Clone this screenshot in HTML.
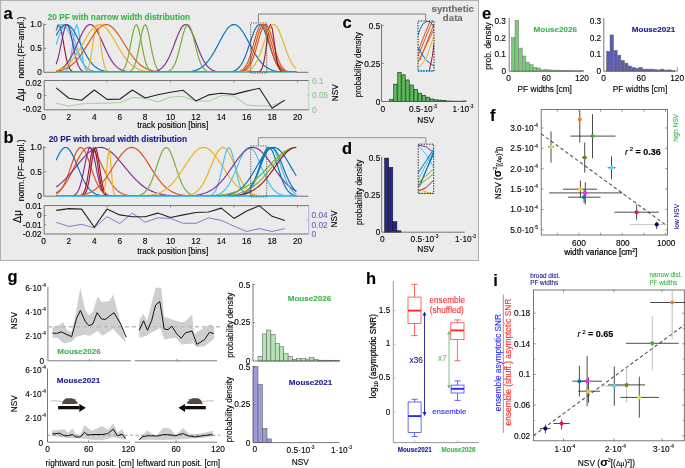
<!DOCTYPE html>
<html><head><meta charset="utf-8"><style>
html,body{margin:0;padding:0;background:#fff;}
svg text{font-family:"Liberation Sans", sans-serif;}
</style></head><body>
<svg width="685" height="468" viewBox="0 0 685 468" style="display:block;font-family:'Liberation Sans', sans-serif">
<defs><filter id="soft" x="0" y="0" width="100%" height="100%" filterUnits="userSpaceOnUse"><feGaussianBlur stdDeviation="0.3"/></filter></defs>
<g filter="url(#soft)">
<rect x="0" y="0" width="685" height="468" fill="#ffffff"/>
<rect x="0.5" y="0.5" width="478" height="260" fill="#EBEBEB" stroke="#B0B0B0" stroke-width="1"/>
<line x1="43.80" y1="23.50" x2="43.80" y2="72.30" stroke="#555555" stroke-width="0.8"/>
<line x1="43.80" y1="72.30" x2="56.20" y2="72.30" stroke="#555555" stroke-width="0.8"/>
<line x1="296.23" y1="72.30" x2="308.50" y2="72.30" stroke="#555555" stroke-width="0.8"/>
<line x1="43.80" y1="48.40" x2="46.30" y2="48.40" stroke="#555555" stroke-width="0.6"/>
<line x1="43.80" y1="24.50" x2="46.30" y2="24.50" stroke="#555555" stroke-width="0.6"/>
<polyline points="56.20,30.68 57.91,25.19 59.63,25.30 61.34,30.97 63.06,40.27 64.77,50.42 66.49,59.12 68.20,65.31 69.92,69.03 71.63,70.95 73.34,71.81 75.06,72.14 76.77,72.26 78.49,72.29 80.20,72.30 81.92,72.30 83.63,72.30 85.35,72.30 87.06,72.30 88.78,72.30 90.49,72.30 92.20,72.30 93.92,72.30 95.63,72.30 97.35,72.30 99.06,72.30 100.78,72.30 102.49,72.30 104.21,72.30 105.92,72.30 107.63,72.30 109.35,72.30 111.06,72.30 112.78,72.30 114.49,72.30 116.21,72.30 117.92,72.30 119.64,72.30 121.35,72.30 123.07,72.30 124.78,72.30 126.49,72.30 128.21,72.30 129.92,72.30 131.64,72.30 133.35,72.30 135.07,72.30 136.78,72.30 138.50,72.30 140.21,72.30 141.92,72.30 143.64,72.30 145.35,72.30 147.07,72.30 148.78,72.30 150.50,72.30 152.21,72.30 153.93,72.30 155.64,72.30 157.36,72.30 159.07,72.30 160.78,72.30 162.50,72.30 164.21,72.30 165.93,72.30 167.64,72.30 169.36,72.30 171.07,72.30 172.79,72.30 174.50,72.30 176.21,72.30 177.93,72.30 179.64,72.30 181.36,72.30 183.07,72.30 184.79,72.30 186.50,72.30 188.22,72.30 189.93,72.30 191.65,72.30 193.36,72.30 195.07,72.30 196.79,72.30 198.50,72.30 200.22,72.30 201.93,72.30 203.65,72.30 205.36,72.30 207.08,72.30 208.79,72.30 210.50,72.30 212.22,72.30 213.93,72.30 215.65,72.30 217.36,72.30 219.08,72.30 220.79,72.30 222.51,72.30 224.22,72.30 225.94,72.30 227.65,72.30 229.36,72.30 231.08,72.30 232.79,72.30 234.51,72.30 236.22,72.30 237.94,72.30 239.65,72.30 241.37,72.30 243.08,72.30 244.79,72.30 246.51,72.30 248.22,72.30 249.94,72.30 251.65,72.30 253.37,72.30 255.08,72.30 256.80,72.30 258.51,72.30 260.23,72.30 261.94,72.30 263.65,72.30 265.37,72.30 267.08,72.30 268.80,72.30 270.51,72.30 272.23,72.30 273.94,72.30 275.66,72.30 277.37,72.30 279.09,72.30 280.80,72.30 282.51,72.30 284.23,72.30 285.94,72.30 287.66,72.30 289.37,72.30 291.09,72.30 292.80,72.30 294.52,72.30 296.23,72.30" fill="none" stroke="#A2142F" stroke-width="1.15" stroke-linejoin="round"/>
<polyline points="56.20,30.35 57.91,27.52 59.63,25.55 61.34,24.59 63.06,24.69 64.77,25.84 66.49,27.98 68.20,30.96 69.92,34.60 71.63,38.68 73.34,42.99 75.06,47.31 76.77,51.47 78.49,55.32 80.20,58.77 81.92,61.76 83.63,64.27 85.35,66.32 87.06,67.94 88.78,69.20 90.49,70.14 92.20,70.83 93.92,71.32 95.63,71.66 97.35,71.89 99.06,72.05 100.78,72.15 102.49,72.21 104.21,72.25 105.92,72.27 107.63,72.28 109.35,72.29 111.06,72.30 112.78,72.30 114.49,72.30 116.21,72.30 117.92,72.30 119.64,72.30 121.35,72.30 123.07,72.30 124.78,72.30 126.49,72.30 128.21,72.30 129.92,72.30 131.64,72.30 133.35,72.30 135.07,72.30 136.78,72.30 138.50,72.30 140.21,72.30 141.92,72.30 143.64,72.30 145.35,72.30 147.07,72.30 148.78,72.30 150.50,72.30 152.21,72.30 153.93,72.30 155.64,72.30 157.36,72.30 159.07,72.30 160.78,72.30 162.50,72.30 164.21,72.30 165.93,72.30 167.64,72.30 169.36,72.30 171.07,72.30 172.79,72.30 174.50,72.30 176.21,72.30 177.93,72.30 179.64,72.30 181.36,72.30 183.07,72.30 184.79,72.30 186.50,72.30 188.22,72.30 189.93,72.30 191.65,72.30 193.36,72.30 195.07,72.30 196.79,72.30 198.50,72.30 200.22,72.30 201.93,72.30 203.65,72.30 205.36,72.30 207.08,72.30 208.79,72.30 210.50,72.30 212.22,72.30 213.93,72.30 215.65,72.30 217.36,72.30 219.08,72.30 220.79,72.30 222.51,72.30 224.22,72.30 225.94,72.30 227.65,72.30 229.36,72.30 231.08,72.30 232.79,72.30 234.51,72.30 236.22,72.30 237.94,72.30 239.65,72.30 241.37,72.30 243.08,72.30 244.79,72.30 246.51,72.30 248.22,72.30 249.94,72.30 251.65,72.30 253.37,72.30 255.08,72.30 256.80,72.30 258.51,72.30 260.23,72.30 261.94,72.30 263.65,72.30 265.37,72.30 267.08,72.30 268.80,72.30 270.51,72.30 272.23,72.30 273.94,72.30 275.66,72.30 277.37,72.30 279.09,72.30 280.80,72.30 282.51,72.30 284.23,72.30 285.94,72.30 287.66,72.30 289.37,72.30 291.09,72.30 292.80,72.30 294.52,72.30 296.23,72.30" fill="none" stroke="#4DBEEE" stroke-width="1.15" stroke-linejoin="round"/>
<polyline points="56.20,44.47 57.91,39.28 59.63,34.37 61.34,30.12 63.06,26.89 64.77,24.97 66.49,24.54 68.20,25.64 69.92,28.18 71.63,31.90 73.34,36.49 75.06,41.57 76.77,46.77 78.49,51.77 80.20,56.31 81.92,60.25 83.63,63.50 85.35,66.09 87.06,68.05 88.78,69.49 90.49,70.50 92.20,71.18 93.92,71.63 95.63,71.91 97.35,72.08 99.06,72.18 100.78,72.24 102.49,72.27 104.21,72.28 105.92,72.29 107.63,72.30 109.35,72.30 111.06,72.30 112.78,72.30 114.49,72.30 116.21,72.30 117.92,72.30 119.64,72.30 121.35,72.30 123.07,72.30 124.78,72.30 126.49,72.30 128.21,72.30 129.92,72.30 131.64,72.30 133.35,72.30 135.07,72.30 136.78,72.30 138.50,72.30 140.21,72.30 141.92,72.30 143.64,72.30 145.35,72.30 147.07,72.30 148.78,72.30 150.50,72.30 152.21,72.30 153.93,72.30 155.64,72.30 157.36,72.30 159.07,72.30 160.78,72.30 162.50,72.30 164.21,72.30 165.93,72.30 167.64,72.30 169.36,72.30 171.07,72.30 172.79,72.30 174.50,72.30 176.21,72.30 177.93,72.30 179.64,72.30 181.36,72.30 183.07,72.30 184.79,72.30 186.50,72.30 188.22,72.30 189.93,72.30 191.65,72.30 193.36,72.30 195.07,72.30 196.79,72.30 198.50,72.30 200.22,72.30 201.93,72.30 203.65,72.30 205.36,72.30 207.08,72.30 208.79,72.30 210.50,72.30 212.22,72.30 213.93,72.30 215.65,72.30 217.36,72.30 219.08,72.30 220.79,72.30 222.51,72.30 224.22,72.30 225.94,72.30 227.65,72.30 229.36,72.30 231.08,72.30 232.79,72.30 234.51,72.30 236.22,72.30 237.94,72.30 239.65,72.30 241.37,72.30 243.08,72.30 244.79,72.30 246.51,72.30 248.22,72.30 249.94,72.30 251.65,72.30 253.37,72.30 255.08,72.30 256.80,72.30 258.51,72.30 260.23,72.30 261.94,72.30 263.65,72.30 265.37,72.30 267.08,72.30 268.80,72.30 270.51,72.30 272.23,72.30 273.94,72.30 275.66,72.30 277.37,72.30 279.09,72.30 280.80,72.30 282.51,72.30 284.23,72.30 285.94,72.30 287.66,72.30 289.37,72.30 291.09,72.30 292.80,72.30 294.52,72.30 296.23,72.30" fill="none" stroke="#4DBEEE" stroke-width="1.15" stroke-linejoin="round"/>
<polyline points="56.20,72.30 57.91,72.30 59.63,72.30 61.34,72.29 63.06,72.22 64.77,71.93 66.49,70.93 68.20,68.20 69.92,62.26 71.63,52.21 73.34,39.47 75.06,28.47 76.77,24.53 78.49,29.77 80.20,41.38 81.92,53.94 83.63,63.40 85.35,68.77 87.06,71.16 88.78,72.00 90.49,72.24 92.20,72.29 93.92,72.30 95.63,72.30 97.35,72.30 99.06,72.30 100.78,72.30 102.49,72.30 104.21,72.30 105.92,72.30 107.63,72.30 109.35,72.30 111.06,72.30 112.78,72.30 114.49,72.30 116.21,72.30 117.92,72.30 119.64,72.30 121.35,72.30 123.07,72.30 124.78,72.30 126.49,72.30 128.21,72.30 129.92,72.30 131.64,72.30 133.35,72.30 135.07,72.30 136.78,72.30 138.50,72.30 140.21,72.30 141.92,72.30 143.64,72.30 145.35,72.30 147.07,72.30 148.78,72.30 150.50,72.30 152.21,72.30 153.93,72.30 155.64,72.30 157.36,72.30 159.07,72.30 160.78,72.30 162.50,72.30 164.21,72.30 165.93,72.30 167.64,72.30 169.36,72.30 171.07,72.30 172.79,72.30 174.50,72.30 176.21,72.30 177.93,72.30 179.64,72.30 181.36,72.30 183.07,72.30 184.79,72.30 186.50,72.30 188.22,72.30 189.93,72.30 191.65,72.30 193.36,72.30 195.07,72.30 196.79,72.30 198.50,72.30 200.22,72.30 201.93,72.30 203.65,72.30 205.36,72.30 207.08,72.30 208.79,72.30 210.50,72.30 212.22,72.30 213.93,72.30 215.65,72.30 217.36,72.30 219.08,72.30 220.79,72.30 222.51,72.30 224.22,72.30 225.94,72.30 227.65,72.30 229.36,72.30 231.08,72.30 232.79,72.30 234.51,72.30 236.22,72.30 237.94,72.30 239.65,72.30 241.37,72.30 243.08,72.30 244.79,72.30 246.51,72.30 248.22,72.30 249.94,72.30 251.65,72.30 253.37,72.30 255.08,72.30 256.80,72.30 258.51,72.30 260.23,72.30 261.94,72.30 263.65,72.30 265.37,72.30 267.08,72.30 268.80,72.30 270.51,72.30 272.23,72.30 273.94,72.30 275.66,72.30 277.37,72.30 279.09,72.30 280.80,72.30 282.51,72.30 284.23,72.30 285.94,72.30 287.66,72.30 289.37,72.30 291.09,72.30 292.80,72.30 294.52,72.30 296.23,72.30" fill="none" stroke="#4DBEEE" stroke-width="1.15" stroke-linejoin="round"/>
<polyline points="56.20,35.37 57.91,32.27 59.63,29.55 61.34,27.34 63.06,25.72 64.77,24.76 66.49,24.51 68.20,24.97 69.92,26.13 71.63,27.94 73.34,30.31 75.06,33.15 76.77,36.34 78.49,39.77 80.20,43.31 81.92,46.85 83.63,50.29 85.35,53.55 87.06,56.57 88.78,59.30 90.49,61.71 92.20,63.81 93.92,65.59 95.63,67.08 97.35,68.30 99.06,69.28 100.78,70.05 102.49,70.65 104.21,71.11 105.92,71.45 107.63,71.71 109.35,71.89 111.06,72.02 112.78,72.11 114.49,72.18 116.21,72.22 117.92,72.25 119.64,72.27 121.35,72.28 123.07,72.29 124.78,72.29 126.49,72.30 128.21,72.30 129.92,72.30 131.64,72.30 133.35,72.30 135.07,72.30 136.78,72.30 138.50,72.30 140.21,72.30 141.92,72.30 143.64,72.30 145.35,72.30 147.07,72.30 148.78,72.30 150.50,72.30 152.21,72.30 153.93,72.30 155.64,72.30 157.36,72.30 159.07,72.30 160.78,72.30 162.50,72.30 164.21,72.30 165.93,72.30 167.64,72.30 169.36,72.30 171.07,72.30 172.79,72.30 174.50,72.30 176.21,72.30 177.93,72.30 179.64,72.30 181.36,72.30 183.07,72.30 184.79,72.30 186.50,72.30 188.22,72.30 189.93,72.30 191.65,72.30 193.36,72.30 195.07,72.30 196.79,72.30 198.50,72.30 200.22,72.30 201.93,72.30 203.65,72.30 205.36,72.30 207.08,72.30 208.79,72.30 210.50,72.30 212.22,72.30 213.93,72.30 215.65,72.30 217.36,72.30 219.08,72.30 220.79,72.30 222.51,72.30 224.22,72.30 225.94,72.30 227.65,72.30 229.36,72.30 231.08,72.30 232.79,72.30 234.51,72.30 236.22,72.30 237.94,72.30 239.65,72.30 241.37,72.30 243.08,72.30 244.79,72.30 246.51,72.30 248.22,72.30 249.94,72.30 251.65,72.30 253.37,72.30 255.08,72.30 256.80,72.30 258.51,72.30 260.23,72.30 261.94,72.30 263.65,72.30 265.37,72.30 267.08,72.30 268.80,72.30 270.51,72.30 272.23,72.30 273.94,72.30 275.66,72.30 277.37,72.30 279.09,72.30 280.80,72.30 282.51,72.30 284.23,72.30 285.94,72.30 287.66,72.30 289.37,72.30 291.09,72.30 292.80,72.30 294.52,72.30 296.23,72.30" fill="none" stroke="#0072BD" stroke-width="1.15" stroke-linejoin="round"/>
<polyline points="56.20,64.27 57.91,58.77 59.63,51.47 61.34,42.99 63.06,34.60 64.77,27.98 66.49,24.69 68.20,25.55 69.92,30.35 71.63,37.90 73.34,46.52 75.06,54.64 76.77,61.24 78.49,65.97 80.20,68.99 81.92,70.72 83.63,71.61 85.35,72.02 87.06,72.20 88.78,72.27 90.49,72.29 92.20,72.30 93.92,72.30 95.63,72.30 97.35,72.30 99.06,72.30 100.78,72.30 102.49,72.30 104.21,72.30 105.92,72.30 107.63,72.30 109.35,72.30 111.06,72.30 112.78,72.30 114.49,72.30 116.21,72.30 117.92,72.30 119.64,72.30 121.35,72.30 123.07,72.30 124.78,72.30 126.49,72.30 128.21,72.30 129.92,72.30 131.64,72.30 133.35,72.30 135.07,72.30 136.78,72.30 138.50,72.30 140.21,72.30 141.92,72.30 143.64,72.30 145.35,72.30 147.07,72.30 148.78,72.30 150.50,72.30 152.21,72.30 153.93,72.30 155.64,72.30 157.36,72.30 159.07,72.30 160.78,72.30 162.50,72.30 164.21,72.30 165.93,72.30 167.64,72.30 169.36,72.30 171.07,72.30 172.79,72.30 174.50,72.30 176.21,72.30 177.93,72.30 179.64,72.30 181.36,72.30 183.07,72.30 184.79,72.30 186.50,72.30 188.22,72.30 189.93,72.30 191.65,72.30 193.36,72.30 195.07,72.30 196.79,72.30 198.50,72.30 200.22,72.30 201.93,72.30 203.65,72.30 205.36,72.30 207.08,72.30 208.79,72.30 210.50,72.30 212.22,72.30 213.93,72.30 215.65,72.30 217.36,72.30 219.08,72.30 220.79,72.30 222.51,72.30 224.22,72.30 225.94,72.30 227.65,72.30 229.36,72.30 231.08,72.30 232.79,72.30 234.51,72.30 236.22,72.30 237.94,72.30 239.65,72.30 241.37,72.30 243.08,72.30 244.79,72.30 246.51,72.30 248.22,72.30 249.94,72.30 251.65,72.30 253.37,72.30 255.08,72.30 256.80,72.30 258.51,72.30 260.23,72.30 261.94,72.30 263.65,72.30 265.37,72.30 267.08,72.30 268.80,72.30 270.51,72.30 272.23,72.30 273.94,72.30 275.66,72.30 277.37,72.30 279.09,72.30 280.80,72.30 282.51,72.30 284.23,72.30 285.94,72.30 287.66,72.30 289.37,72.30 291.09,72.30 292.80,72.30 294.52,72.30 296.23,72.30" fill="none" stroke="#7E2F8E" stroke-width="1.15" stroke-linejoin="round"/>
<polyline points="56.20,70.98 57.91,70.43 59.63,69.68 61.34,68.71 63.06,67.46 64.77,65.90 66.49,63.98 68.20,61.69 69.92,59.01 71.63,55.96 73.34,52.56 75.06,48.89 76.77,45.05 78.49,41.14 80.20,37.31 81.92,33.73 83.63,30.54 85.35,27.91 87.06,25.97 88.78,24.82 90.49,24.51 92.20,25.07 93.92,26.47 95.63,28.63 97.35,31.44 99.06,34.76 100.78,38.43 102.49,42.29 104.21,46.20 105.92,50.00 107.63,53.60 109.35,56.90 111.06,59.84 112.78,62.41 114.49,64.59 116.21,66.39 117.92,67.86 119.64,69.02 121.35,69.92 123.07,70.61 124.78,71.12 126.49,71.49 128.21,71.75 129.92,71.94 131.64,72.06 133.35,72.15 135.07,72.21 136.78,72.24 138.50,72.27 140.21,72.28 141.92,72.29 143.64,72.29 145.35,72.30 147.07,72.30 148.78,72.30 150.50,72.30 152.21,72.30 153.93,72.30 155.64,72.30 157.36,72.30 159.07,72.30 160.78,72.30 162.50,72.30 164.21,72.30 165.93,72.30 167.64,72.30 169.36,72.30 171.07,72.30 172.79,72.30 174.50,72.30 176.21,72.30 177.93,72.30 179.64,72.30 181.36,72.30 183.07,72.30 184.79,72.30 186.50,72.30 188.22,72.30 189.93,72.30 191.65,72.30 193.36,72.30 195.07,72.30 196.79,72.30 198.50,72.30 200.22,72.30 201.93,72.30 203.65,72.30 205.36,72.30 207.08,72.30 208.79,72.30 210.50,72.30 212.22,72.30 213.93,72.30 215.65,72.30 217.36,72.30 219.08,72.30 220.79,72.30 222.51,72.30 224.22,72.30 225.94,72.30 227.65,72.30 229.36,72.30 231.08,72.30 232.79,72.30 234.51,72.30 236.22,72.30 237.94,72.30 239.65,72.30 241.37,72.30 243.08,72.30 244.79,72.30 246.51,72.30 248.22,72.30 249.94,72.30 251.65,72.30 253.37,72.30 255.08,72.30 256.80,72.30 258.51,72.30 260.23,72.30 261.94,72.30 263.65,72.30 265.37,72.30 267.08,72.30 268.80,72.30 270.51,72.30 272.23,72.30 273.94,72.30 275.66,72.30 277.37,72.30 279.09,72.30 280.80,72.30 282.51,72.30 284.23,72.30 285.94,72.30 287.66,72.30 289.37,72.30 291.09,72.30 292.80,72.30 294.52,72.30 296.23,72.30" fill="none" stroke="#7E2F8E" stroke-width="1.15" stroke-linejoin="round"/>
<polyline points="56.20,72.30 57.91,72.30 59.63,72.30 61.34,72.30 63.06,72.30 64.77,72.30 66.49,72.30 68.20,72.30 69.92,72.30 71.63,72.30 73.34,72.30 75.06,72.30 76.77,72.30 78.49,72.30 80.20,72.30 81.92,72.27 83.63,72.17 85.35,71.74 87.06,70.37 88.78,66.84 90.49,59.71 92.20,48.57 93.92,35.77 95.63,26.38 97.35,25.16 99.06,32.78 100.78,45.24 102.49,57.17 104.21,65.39 105.92,69.72 107.63,71.51 109.35,72.10 111.06,72.26 112.78,72.29 114.49,72.30 116.21,72.30 117.92,72.30 119.64,72.30 121.35,72.30 123.07,72.30 124.78,72.30 126.49,72.30 128.21,72.30 129.92,72.30 131.64,72.30 133.35,72.30 135.07,72.30 136.78,72.30 138.50,72.30 140.21,72.30 141.92,72.30 143.64,72.30 145.35,72.30 147.07,72.30 148.78,72.30 150.50,72.30 152.21,72.30 153.93,72.30 155.64,72.30 157.36,72.30 159.07,72.30 160.78,72.30 162.50,72.30 164.21,72.30 165.93,72.30 167.64,72.30 169.36,72.30 171.07,72.30 172.79,72.30 174.50,72.30 176.21,72.30 177.93,72.30 179.64,72.30 181.36,72.30 183.07,72.30 184.79,72.30 186.50,72.30 188.22,72.30 189.93,72.30 191.65,72.30 193.36,72.30 195.07,72.30 196.79,72.30 198.50,72.30 200.22,72.30 201.93,72.30 203.65,72.30 205.36,72.30 207.08,72.30 208.79,72.30 210.50,72.30 212.22,72.30 213.93,72.30 215.65,72.30 217.36,72.30 219.08,72.30 220.79,72.30 222.51,72.30 224.22,72.30 225.94,72.30 227.65,72.30 229.36,72.30 231.08,72.30 232.79,72.30 234.51,72.30 236.22,72.30 237.94,72.30 239.65,72.30 241.37,72.30 243.08,72.30 244.79,72.30 246.51,72.30 248.22,72.30 249.94,72.30 251.65,72.30 253.37,72.30 255.08,72.30 256.80,72.30 258.51,72.30 260.23,72.30 261.94,72.30 263.65,72.30 265.37,72.30 267.08,72.30 268.80,72.30 270.51,72.30 272.23,72.30 273.94,72.30 275.66,72.30 277.37,72.30 279.09,72.30 280.80,72.30 282.51,72.30 284.23,72.30 285.94,72.30 287.66,72.30 289.37,72.30 291.09,72.30 292.80,72.30 294.52,72.30 296.23,72.30" fill="none" stroke="#EDB120" stroke-width="1.15" stroke-linejoin="round"/>
<polyline points="56.20,70.80 57.91,70.34 59.63,69.76 61.34,69.05 63.06,68.19 64.77,67.16 66.49,65.93 68.20,64.50 69.92,62.84 71.63,60.96 73.34,58.85 75.06,56.51 76.77,53.97 78.49,51.25 80.20,48.39 81.92,45.42 83.63,42.42 85.35,39.43 87.06,36.53 88.78,33.80 90.49,31.30 92.20,29.10 93.92,27.28 95.63,25.88 97.35,24.96 99.06,24.53 100.78,24.61 102.49,25.21 104.21,26.30 105.92,27.84 107.63,29.80 109.35,32.10 111.06,34.69 112.78,37.48 114.49,40.42 116.21,43.42 117.92,46.42 119.64,49.35 121.35,52.18 123.07,54.84 124.78,57.31 126.49,59.57 128.21,61.61 129.92,63.42 131.64,65.00 133.35,66.36 135.07,67.52 136.78,68.50 138.50,69.31 140.21,69.97 141.92,70.50 143.64,70.93 145.35,71.27 147.07,71.53 148.78,71.73 150.50,71.88 152.21,72.00 153.93,72.09 155.64,72.15 157.36,72.19 159.07,72.23 160.78,72.25 162.50,72.27 164.21,72.28 165.93,72.28 167.64,72.29 169.36,72.29 171.07,72.30 172.79,72.30 174.50,72.30 176.21,72.30 177.93,72.30 179.64,72.30 181.36,72.30 183.07,72.30 184.79,72.30 186.50,72.30 188.22,72.30 189.93,72.30 191.65,72.30 193.36,72.30 195.07,72.30 196.79,72.30 198.50,72.30 200.22,72.30 201.93,72.30 203.65,72.30 205.36,72.30 207.08,72.30 208.79,72.30 210.50,72.30 212.22,72.30 213.93,72.30 215.65,72.30 217.36,72.30 219.08,72.30 220.79,72.30 222.51,72.30 224.22,72.30 225.94,72.30 227.65,72.30 229.36,72.30 231.08,72.30 232.79,72.30 234.51,72.30 236.22,72.30 237.94,72.30 239.65,72.30 241.37,72.30 243.08,72.30 244.79,72.30 246.51,72.30 248.22,72.30 249.94,72.30 251.65,72.30 253.37,72.30 255.08,72.30 256.80,72.30 258.51,72.30 260.23,72.30 261.94,72.30 263.65,72.30 265.37,72.30 267.08,72.30 268.80,72.30 270.51,72.30 272.23,72.30 273.94,72.30 275.66,72.30 277.37,72.30 279.09,72.30 280.80,72.30 282.51,72.30 284.23,72.30 285.94,72.30 287.66,72.30 289.37,72.30 291.09,72.30 292.80,72.30 294.52,72.30 296.23,72.30" fill="none" stroke="#EDB120" stroke-width="1.15" stroke-linejoin="round"/>
<polyline points="56.20,71.37 57.91,71.09 59.63,70.73 61.34,70.29 63.06,69.75 64.77,69.10 66.49,68.31 68.20,67.38 69.92,66.28 71.63,65.01 73.34,63.55 75.06,61.90 76.77,60.05 78.49,58.00 80.20,55.77 81.92,53.36 83.63,50.81 85.35,48.13 87.06,45.38 88.78,42.58 90.49,39.81 92.20,37.10 93.92,34.51 95.63,32.12 97.35,29.97 99.06,28.11 100.78,26.60 102.49,25.48 104.21,24.77 105.92,24.50 107.63,24.68 109.35,25.29 111.06,26.32 112.78,27.75 114.49,29.53 116.21,31.62 117.92,33.96 119.64,36.51 121.35,39.20 123.07,41.96 124.78,44.76 126.49,47.52 128.21,50.22 129.92,52.80 131.64,55.25 133.35,57.52 135.07,59.61 136.78,61.50 138.50,63.20 140.21,64.70 141.92,66.01 143.64,67.15 145.35,68.12 147.07,68.93 148.78,69.62 150.50,70.18 152.21,70.64 153.93,71.01 155.64,71.31 157.36,71.55 159.07,71.73 160.78,71.88 162.50,71.99 164.21,72.07 165.93,72.13 167.64,72.18 169.36,72.21 171.07,72.24 172.79,72.26 174.50,72.27 176.21,72.28 177.93,72.29 179.64,72.29 181.36,72.29 183.07,72.30 184.79,72.30 186.50,72.30 188.22,72.30 189.93,72.30 191.65,72.30 193.36,72.30 195.07,72.30 196.79,72.30 198.50,72.30 200.22,72.30 201.93,72.30 203.65,72.30 205.36,72.30 207.08,72.30 208.79,72.30 210.50,72.30 212.22,72.30 213.93,72.30 215.65,72.30 217.36,72.30 219.08,72.30 220.79,72.30 222.51,72.30 224.22,72.30 225.94,72.30 227.65,72.30 229.36,72.30 231.08,72.30 232.79,72.30 234.51,72.30 236.22,72.30 237.94,72.30 239.65,72.30 241.37,72.30 243.08,72.30 244.79,72.30 246.51,72.30 248.22,72.30 249.94,72.30 251.65,72.30 253.37,72.30 255.08,72.30 256.80,72.30 258.51,72.30 260.23,72.30 261.94,72.30 263.65,72.30 265.37,72.30 267.08,72.30 268.80,72.30 270.51,72.30 272.23,72.30 273.94,72.30 275.66,72.30 277.37,72.30 279.09,72.30 280.80,72.30 282.51,72.30 284.23,72.30 285.94,72.30 287.66,72.30 289.37,72.30 291.09,72.30 292.80,72.30 294.52,72.30 296.23,72.30" fill="none" stroke="#D95319" stroke-width="1.15" stroke-linejoin="round"/>
<polyline points="56.20,72.30 57.91,72.30 59.63,72.30 61.34,72.30 63.06,72.30 64.77,72.30 66.49,72.30 68.20,72.30 69.92,72.30 71.63,72.30 73.34,72.30 75.06,72.30 76.77,72.30 78.49,72.30 80.20,72.30 81.92,72.30 83.63,72.30 85.35,72.30 87.06,72.30 88.78,72.30 90.49,72.30 92.20,72.30 93.92,72.30 95.63,72.30 97.35,72.30 99.06,72.30 100.78,72.30 102.49,72.30 104.21,72.30 105.92,72.30 107.63,72.30 109.35,72.30 111.06,72.30 112.78,72.30 114.49,72.29 116.21,72.26 117.92,72.17 119.64,71.92 121.35,71.31 123.07,70.01 124.78,67.49 126.49,63.20 128.21,56.78 129.92,48.43 131.64,39.20 133.35,30.89 135.07,25.58 136.78,24.77 138.50,28.69 140.21,36.22 141.92,45.38 143.64,54.18 145.35,61.30 147.07,66.28 148.78,69.33 150.50,70.98 152.21,71.77 153.93,72.11 155.64,72.24 157.36,72.28 159.07,72.30 160.78,72.30 162.50,72.30 164.21,72.30 165.93,72.30 167.64,72.30 169.36,72.30 171.07,72.30 172.79,72.30 174.50,72.30 176.21,72.30 177.93,72.30 179.64,72.30 181.36,72.30 183.07,72.30 184.79,72.30 186.50,72.30 188.22,72.30 189.93,72.30 191.65,72.30 193.36,72.30 195.07,72.30 196.79,72.30 198.50,72.30 200.22,72.30 201.93,72.30 203.65,72.30 205.36,72.30 207.08,72.30 208.79,72.30 210.50,72.30 212.22,72.30 213.93,72.30 215.65,72.30 217.36,72.30 219.08,72.30 220.79,72.30 222.51,72.30 224.22,72.30 225.94,72.30 227.65,72.30 229.36,72.30 231.08,72.30 232.79,72.30 234.51,72.30 236.22,72.30 237.94,72.30 239.65,72.30 241.37,72.30 243.08,72.30 244.79,72.30 246.51,72.30 248.22,72.30 249.94,72.30 251.65,72.30 253.37,72.30 255.08,72.30 256.80,72.30 258.51,72.30 260.23,72.30 261.94,72.30 263.65,72.30 265.37,72.30 267.08,72.30 268.80,72.30 270.51,72.30 272.23,72.30 273.94,72.30 275.66,72.30 277.37,72.30 279.09,72.30 280.80,72.30 282.51,72.30 284.23,72.30 285.94,72.30 287.66,72.30 289.37,72.30 291.09,72.30 292.80,72.30 294.52,72.30 296.23,72.30" fill="none" stroke="#77AC30" stroke-width="1.15" stroke-linejoin="round"/>
<polyline points="56.20,72.30 57.91,72.30 59.63,72.30 61.34,72.30 63.06,72.30 64.77,72.30 66.49,72.30 68.20,72.30 69.92,72.30 71.63,72.30 73.34,72.30 75.06,72.30 76.77,72.30 78.49,72.30 80.20,72.30 81.92,72.30 83.63,72.30 85.35,72.30 87.06,72.30 88.78,72.30 90.49,72.30 92.20,72.30 93.92,72.30 95.63,72.30 97.35,72.30 99.06,72.30 100.78,72.30 102.49,72.30 104.21,72.30 105.92,72.30 107.63,72.30 109.35,72.30 111.06,72.30 112.78,72.30 114.49,72.30 116.21,72.30 117.92,72.30 119.64,72.30 121.35,72.30 123.07,72.29 124.78,72.27 126.49,72.19 128.21,71.98 129.92,71.47 131.64,70.32 133.35,68.07 135.07,64.15 136.78,58.13 138.50,50.09 140.21,40.90 141.92,32.26 143.64,26.26 145.35,24.55 147.07,27.65 148.78,34.64 150.50,43.65 152.21,52.65 153.93,60.14 155.64,65.52 157.36,68.89 159.07,70.75 160.78,71.67 162.50,72.07 164.21,72.22 165.93,72.28 167.64,72.29 169.36,72.30 171.07,72.30 172.79,72.30 174.50,72.30 176.21,72.30 177.93,72.30 179.64,72.30 181.36,72.30 183.07,72.30 184.79,72.30 186.50,72.30 188.22,72.30 189.93,72.30 191.65,72.30 193.36,72.30 195.07,72.30 196.79,72.30 198.50,72.30 200.22,72.30 201.93,72.30 203.65,72.30 205.36,72.30 207.08,72.30 208.79,72.30 210.50,72.30 212.22,72.30 213.93,72.30 215.65,72.30 217.36,72.30 219.08,72.30 220.79,72.30 222.51,72.30 224.22,72.30 225.94,72.30 227.65,72.30 229.36,72.30 231.08,72.30 232.79,72.30 234.51,72.30 236.22,72.30 237.94,72.30 239.65,72.30 241.37,72.30 243.08,72.30 244.79,72.30 246.51,72.30 248.22,72.30 249.94,72.30 251.65,72.30 253.37,72.30 255.08,72.30 256.80,72.30 258.51,72.30 260.23,72.30 261.94,72.30 263.65,72.30 265.37,72.30 267.08,72.30 268.80,72.30 270.51,72.30 272.23,72.30 273.94,72.30 275.66,72.30 277.37,72.30 279.09,72.30 280.80,72.30 282.51,72.30 284.23,72.30 285.94,72.30 287.66,72.30 289.37,72.30 291.09,72.30 292.80,72.30 294.52,72.30 296.23,72.30" fill="none" stroke="#77AC30" stroke-width="1.15" stroke-linejoin="round"/>
<polyline points="56.20,72.30 57.91,72.30 59.63,72.30 61.34,72.30 63.06,72.30 64.77,72.30 66.49,72.30 68.20,72.30 69.92,72.30 71.63,72.30 73.34,72.30 75.06,72.30 76.77,72.30 78.49,72.30 80.20,72.30 81.92,72.30 83.63,72.30 85.35,72.30 87.06,72.30 88.78,72.30 90.49,72.30 92.20,72.30 93.92,72.30 95.63,72.30 97.35,72.30 99.06,72.30 100.78,72.30 102.49,72.30 104.21,72.30 105.92,72.30 107.63,72.30 109.35,72.30 111.06,72.30 112.78,72.30 114.49,72.30 116.21,72.30 117.92,72.30 119.64,72.30 121.35,72.30 123.07,72.30 124.78,72.30 126.49,72.30 128.21,72.30 129.92,72.30 131.64,72.30 133.35,72.30 135.07,72.30 136.78,72.30 138.50,72.30 140.21,72.29 141.92,72.29 143.64,72.27 145.35,72.25 147.07,72.22 148.78,72.15 150.50,72.05 152.21,71.89 153.93,71.63 155.64,71.25 157.36,70.70 159.07,69.91 160.78,68.81 162.50,67.35 164.21,65.44 165.93,63.04 167.64,60.11 169.36,56.64 171.07,52.70 172.79,48.37 174.50,43.82 176.21,39.24 177.93,34.89 179.64,31.01 181.36,27.87 183.07,25.68 184.79,24.60 186.50,24.71 188.22,26.00 189.93,28.39 191.65,31.68 193.36,35.66 195.07,40.08 196.79,44.67 198.50,49.20 200.22,53.46 201.93,57.32 203.65,60.69 205.36,63.52 207.08,65.83 208.79,67.65 210.50,69.04 212.22,70.07 213.93,70.82 215.65,71.34 217.36,71.69 219.08,71.92 220.79,72.07 222.51,72.17 224.22,72.22 225.94,72.26 227.65,72.28 229.36,72.29 231.08,72.29 232.79,72.30 234.51,72.30 236.22,72.30 237.94,72.30 239.65,72.30 241.37,72.30 243.08,72.30 244.79,72.30 246.51,72.30 248.22,72.30 249.94,72.30 251.65,72.30 253.37,72.30 255.08,72.30 256.80,72.30 258.51,72.30 260.23,72.30 261.94,72.30 263.65,72.30 265.37,72.30 267.08,72.30 268.80,72.30 270.51,72.30 272.23,72.30 273.94,72.30 275.66,72.30 277.37,72.30 279.09,72.30 280.80,72.30 282.51,72.30 284.23,72.30 285.94,72.30 287.66,72.30 289.37,72.30 291.09,72.30 292.80,72.30 294.52,72.30 296.23,72.30" fill="none" stroke="#7E2F8E" stroke-width="1.15" stroke-linejoin="round"/>
<polyline points="56.20,72.30 57.91,72.30 59.63,72.30 61.34,72.30 63.06,72.30 64.77,72.30 66.49,72.30 68.20,72.30 69.92,72.30 71.63,72.30 73.34,72.30 75.06,72.30 76.77,72.30 78.49,72.30 80.20,72.30 81.92,72.30 83.63,72.30 85.35,72.30 87.06,72.30 88.78,72.30 90.49,72.30 92.20,72.30 93.92,72.30 95.63,72.30 97.35,72.30 99.06,72.30 100.78,72.30 102.49,72.30 104.21,72.30 105.92,72.30 107.63,72.30 109.35,72.30 111.06,72.30 112.78,72.30 114.49,72.30 116.21,72.30 117.92,72.30 119.64,72.30 121.35,72.30 123.07,72.30 124.78,72.30 126.49,72.30 128.21,72.30 129.92,72.30 131.64,72.30 133.35,72.30 135.07,72.30 136.78,72.30 138.50,72.30 140.21,72.30 141.92,72.30 143.64,72.30 145.35,72.30 147.07,72.30 148.78,72.30 150.50,72.30 152.21,72.30 153.93,72.30 155.64,72.30 157.36,72.30 159.07,72.29 160.78,72.27 162.50,72.24 164.21,72.15 165.93,71.96 167.64,71.59 169.36,70.89 171.07,69.67 172.79,67.70 174.50,64.71 176.21,60.50 177.93,55.04 179.64,48.52 181.36,41.47 183.07,34.65 184.79,29.01 186.50,25.45 188.22,24.55 189.93,26.48 191.65,30.90 193.36,37.09 195.07,44.10 196.79,51.03 198.50,57.20 200.22,62.21 201.93,65.95 203.65,68.54 205.36,70.20 207.08,71.20 208.79,71.75 210.50,72.05 212.22,72.19 213.93,72.25 215.65,72.28 217.36,72.29 219.08,72.30 220.79,72.30 222.51,72.30 224.22,72.30 225.94,72.30 227.65,72.30 229.36,72.30 231.08,72.30 232.79,72.30 234.51,72.30 236.22,72.30 237.94,72.30 239.65,72.30 241.37,72.30 243.08,72.30 244.79,72.30 246.51,72.30 248.22,72.30 249.94,72.30 251.65,72.30 253.37,72.30 255.08,72.30 256.80,72.30 258.51,72.30 260.23,72.30 261.94,72.30 263.65,72.30 265.37,72.30 267.08,72.30 268.80,72.30 270.51,72.30 272.23,72.30 273.94,72.30 275.66,72.30 277.37,72.30 279.09,72.30 280.80,72.30 282.51,72.30 284.23,72.30 285.94,72.30 287.66,72.30 289.37,72.30 291.09,72.30 292.80,72.30 294.52,72.30 296.23,72.30" fill="none" stroke="#77AC30" stroke-width="1.15" stroke-linejoin="round"/>
<polyline points="56.20,72.30 57.91,72.30 59.63,72.30 61.34,72.30 63.06,72.30 64.77,72.30 66.49,72.30 68.20,72.30 69.92,72.30 71.63,72.30 73.34,72.30 75.06,72.30 76.77,72.30 78.49,72.30 80.20,72.30 81.92,72.30 83.63,72.30 85.35,72.30 87.06,72.30 88.78,72.30 90.49,72.30 92.20,72.30 93.92,72.30 95.63,72.30 97.35,72.30 99.06,72.30 100.78,72.30 102.49,72.30 104.21,72.30 105.92,72.30 107.63,72.30 109.35,72.30 111.06,72.30 112.78,72.30 114.49,72.30 116.21,72.30 117.92,72.30 119.64,72.30 121.35,72.30 123.07,72.30 124.78,72.30 126.49,72.30 128.21,72.30 129.92,72.30 131.64,72.30 133.35,72.30 135.07,72.30 136.78,72.30 138.50,72.30 140.21,72.30 141.92,72.30 143.64,72.30 145.35,72.30 147.07,72.30 148.78,72.30 150.50,72.30 152.21,72.30 153.93,72.30 155.64,72.30 157.36,72.30 159.07,72.30 160.78,72.30 162.50,72.30 164.21,72.30 165.93,72.30 167.64,72.30 169.36,72.29 171.07,72.29 172.79,72.29 174.50,72.28 176.21,72.26 177.93,72.25 179.64,72.22 181.36,72.18 183.07,72.12 184.79,72.04 186.50,71.93 188.22,71.78 189.93,71.57 191.65,71.29 193.36,70.93 195.07,70.47 196.79,69.87 198.50,69.13 200.22,68.20 201.93,67.08 203.65,65.72 205.36,64.12 207.08,62.26 208.79,60.13 210.50,57.73 212.22,55.09 213.93,52.21 215.65,49.15 217.36,45.96 219.08,42.70 220.79,39.47 222.51,36.33 224.22,33.39 225.94,30.75 227.65,28.47 229.36,26.66 231.08,25.37 232.79,24.65 234.51,24.53 236.22,25.01 237.94,26.07 239.65,27.68 241.37,29.77 243.08,32.27 244.79,35.11 246.51,38.17 248.22,41.38 249.94,44.64 251.65,47.86 253.37,50.98 255.08,53.94 256.80,56.68 258.51,59.19 260.23,61.43 261.94,63.40 263.65,65.10 265.37,66.55 267.08,67.77 268.80,68.77 270.51,69.59 272.23,70.24 273.94,70.76 275.66,71.16 277.37,71.47 279.09,71.70 280.80,71.87 282.51,72.00 284.23,72.09 285.94,72.16 287.66,72.20 289.37,72.24 291.09,72.26 292.80,72.27 294.52,72.28 296.23,72.29" fill="none" stroke="#0072BD" stroke-width="1.15" stroke-linejoin="round"/>
<polyline points="56.20,72.30 57.91,72.30 59.63,72.30 61.34,72.30 63.06,72.30 64.77,72.30 66.49,72.30 68.20,72.30 69.92,72.30 71.63,72.30 73.34,72.30 75.06,72.30 76.77,72.30 78.49,72.30 80.20,72.30 81.92,72.30 83.63,72.30 85.35,72.30 87.06,72.30 88.78,72.30 90.49,72.30 92.20,72.30 93.92,72.30 95.63,72.30 97.35,72.30 99.06,72.30 100.78,72.30 102.49,72.30 104.21,72.30 105.92,72.30 107.63,72.30 109.35,72.30 111.06,72.30 112.78,72.30 114.49,72.30 116.21,72.30 117.92,72.30 119.64,72.30 121.35,72.30 123.07,72.30 124.78,72.30 126.49,72.30 128.21,72.30 129.92,72.30 131.64,72.30 133.35,72.30 135.07,72.30 136.78,72.30 138.50,72.30 140.21,72.30 141.92,72.30 143.64,72.30 145.35,72.30 147.07,72.30 148.78,72.30 150.50,72.30 152.21,72.30 153.93,72.30 155.64,72.30 157.36,72.30 159.07,72.30 160.78,72.30 162.50,72.30 164.21,72.30 165.93,72.30 167.64,72.30 169.36,72.30 171.07,72.30 172.79,72.30 174.50,72.30 176.21,72.30 177.93,72.30 179.64,72.30 181.36,72.30 183.07,72.30 184.79,72.30 186.50,72.30 188.22,72.30 189.93,72.30 191.65,72.30 193.36,72.30 195.07,72.30 196.79,72.30 198.50,72.30 200.22,72.30 201.93,72.30 203.65,72.30 205.36,72.30 207.08,72.30 208.79,72.30 210.50,72.30 212.22,72.30 213.93,72.30 215.65,72.30 217.36,72.30 219.08,72.29 220.79,72.29 222.51,72.27 224.22,72.25 225.94,72.20 227.65,72.12 229.36,71.97 231.08,71.72 232.79,71.33 234.51,70.73 236.22,69.82 237.94,68.53 239.65,66.73 241.37,64.34 243.08,61.28 244.79,57.55 246.51,53.17 248.22,48.29 249.94,43.11 251.65,37.96 253.37,33.19 255.08,29.17 256.80,26.25 258.51,24.71 260.23,24.68 261.94,26.17 263.65,29.04 265.37,33.02 267.08,37.78 268.80,42.92 270.51,48.10 272.23,53.00 273.94,57.40 275.66,61.16 277.37,64.24 279.09,66.65 280.80,68.47 282.51,69.78 284.23,70.70 285.94,71.32 287.66,71.71 289.37,71.96 291.09,72.11 292.80,72.20 294.52,72.25 296.23,72.27" fill="none" stroke="#0072BD" stroke-width="1.15" stroke-linejoin="round"/>
<polyline points="56.20,72.30 57.91,72.30 59.63,72.30 61.34,72.30 63.06,72.30 64.77,72.30 66.49,72.30 68.20,72.30 69.92,72.30 71.63,72.30 73.34,72.30 75.06,72.30 76.77,72.30 78.49,72.30 80.20,72.30 81.92,72.30 83.63,72.30 85.35,72.30 87.06,72.30 88.78,72.30 90.49,72.30 92.20,72.30 93.92,72.30 95.63,72.30 97.35,72.30 99.06,72.30 100.78,72.30 102.49,72.30 104.21,72.30 105.92,72.30 107.63,72.30 109.35,72.30 111.06,72.30 112.78,72.30 114.49,72.30 116.21,72.30 117.92,72.30 119.64,72.30 121.35,72.30 123.07,72.30 124.78,72.30 126.49,72.30 128.21,72.30 129.92,72.30 131.64,72.30 133.35,72.30 135.07,72.30 136.78,72.30 138.50,72.30 140.21,72.30 141.92,72.30 143.64,72.30 145.35,72.30 147.07,72.30 148.78,72.30 150.50,72.30 152.21,72.30 153.93,72.30 155.64,72.30 157.36,72.30 159.07,72.30 160.78,72.30 162.50,72.30 164.21,72.30 165.93,72.30 167.64,72.30 169.36,72.30 171.07,72.30 172.79,72.30 174.50,72.30 176.21,72.30 177.93,72.30 179.64,72.30 181.36,72.30 183.07,72.30 184.79,72.30 186.50,72.30 188.22,72.30 189.93,72.30 191.65,72.30 193.36,72.30 195.07,72.30 196.79,72.30 198.50,72.30 200.22,72.30 201.93,72.30 203.65,72.30 205.36,72.30 207.08,72.30 208.79,72.30 210.50,72.30 212.22,72.30 213.93,72.30 215.65,72.30 217.36,72.30 219.08,72.30 220.79,72.30 222.51,72.30 224.22,72.30 225.94,72.30 227.65,72.30 229.36,72.29 231.08,72.27 232.79,72.24 234.51,72.18 236.22,72.04 237.94,71.79 239.65,71.35 241.37,70.59 243.08,69.37 244.79,67.51 246.51,64.84 248.22,61.22 249.94,56.59 251.65,51.07 253.37,44.94 255.08,38.67 256.80,32.88 258.51,28.23 260.23,25.32 261.94,24.52 263.65,25.97 265.37,29.45 267.08,34.51 268.80,40.51 270.51,46.80 272.23,52.79 273.94,58.06 275.66,62.39 277.37,65.73 279.09,68.14 280.80,69.79 282.51,70.85 284.23,71.51 285.94,71.88 287.66,72.09 289.37,72.20 291.09,72.26 292.80,72.28 294.52,72.29 296.23,72.30" fill="none" stroke="#D95319" stroke-width="1.15" stroke-linejoin="round"/>
<polyline points="56.20,72.30 57.91,72.30 59.63,72.30 61.34,72.30 63.06,72.30 64.77,72.30 66.49,72.30 68.20,72.30 69.92,72.30 71.63,72.30 73.34,72.30 75.06,72.30 76.77,72.30 78.49,72.30 80.20,72.30 81.92,72.30 83.63,72.30 85.35,72.30 87.06,72.30 88.78,72.30 90.49,72.30 92.20,72.30 93.92,72.30 95.63,72.30 97.35,72.30 99.06,72.30 100.78,72.30 102.49,72.30 104.21,72.30 105.92,72.30 107.63,72.30 109.35,72.30 111.06,72.30 112.78,72.30 114.49,72.30 116.21,72.30 117.92,72.30 119.64,72.30 121.35,72.30 123.07,72.30 124.78,72.30 126.49,72.30 128.21,72.30 129.92,72.30 131.64,72.30 133.35,72.30 135.07,72.30 136.78,72.30 138.50,72.30 140.21,72.30 141.92,72.30 143.64,72.30 145.35,72.30 147.07,72.30 148.78,72.30 150.50,72.30 152.21,72.30 153.93,72.30 155.64,72.30 157.36,72.30 159.07,72.30 160.78,72.30 162.50,72.30 164.21,72.30 165.93,72.30 167.64,72.30 169.36,72.30 171.07,72.30 172.79,72.30 174.50,72.30 176.21,72.30 177.93,72.30 179.64,72.30 181.36,72.30 183.07,72.30 184.79,72.30 186.50,72.30 188.22,72.30 189.93,72.30 191.65,72.30 193.36,72.30 195.07,72.30 196.79,72.30 198.50,72.30 200.22,72.30 201.93,72.30 203.65,72.30 205.36,72.30 207.08,72.30 208.79,72.30 210.50,72.30 212.22,72.30 213.93,72.30 215.65,72.30 217.36,72.30 219.08,72.30 220.79,72.30 222.51,72.30 224.22,72.30 225.94,72.30 227.65,72.30 229.36,72.30 231.08,72.29 232.79,72.28 234.51,72.25 236.22,72.19 237.94,72.06 239.65,71.83 241.37,71.41 243.08,70.69 244.79,69.53 246.51,67.76 248.22,65.18 249.94,61.67 251.65,57.15 253.37,51.72 255.08,45.64 256.80,39.36 258.51,33.48 260.23,28.67 261.94,25.54 263.65,24.50 265.37,25.70 267.08,28.98 268.80,33.89 270.51,39.82 272.23,46.10 273.94,52.15 275.66,57.52 277.37,61.96 279.09,65.40 280.80,67.91 282.51,69.64 284.23,70.76 285.94,71.45 287.66,71.85 289.37,72.08 291.09,72.19 292.80,72.25 294.52,72.28 296.23,72.29" fill="none" stroke="#D95319" stroke-width="1.15" stroke-linejoin="round"/>
<polyline points="56.20,72.30 57.91,72.30 59.63,72.30 61.34,72.30 63.06,72.30 64.77,72.30 66.49,72.30 68.20,72.30 69.92,72.30 71.63,72.30 73.34,72.30 75.06,72.30 76.77,72.30 78.49,72.30 80.20,72.30 81.92,72.30 83.63,72.30 85.35,72.30 87.06,72.30 88.78,72.30 90.49,72.30 92.20,72.30 93.92,72.30 95.63,72.30 97.35,72.30 99.06,72.30 100.78,72.30 102.49,72.30 104.21,72.30 105.92,72.30 107.63,72.30 109.35,72.30 111.06,72.30 112.78,72.30 114.49,72.30 116.21,72.30 117.92,72.30 119.64,72.30 121.35,72.30 123.07,72.30 124.78,72.30 126.49,72.30 128.21,72.30 129.92,72.30 131.64,72.30 133.35,72.30 135.07,72.30 136.78,72.30 138.50,72.30 140.21,72.30 141.92,72.30 143.64,72.30 145.35,72.30 147.07,72.30 148.78,72.30 150.50,72.30 152.21,72.30 153.93,72.30 155.64,72.30 157.36,72.30 159.07,72.30 160.78,72.30 162.50,72.30 164.21,72.30 165.93,72.30 167.64,72.30 169.36,72.30 171.07,72.30 172.79,72.30 174.50,72.30 176.21,72.30 177.93,72.30 179.64,72.30 181.36,72.30 183.07,72.30 184.79,72.30 186.50,72.30 188.22,72.30 189.93,72.30 191.65,72.30 193.36,72.30 195.07,72.30 196.79,72.30 198.50,72.30 200.22,72.30 201.93,72.30 203.65,72.30 205.36,72.30 207.08,72.30 208.79,72.30 210.50,72.30 212.22,72.30 213.93,72.30 215.65,72.30 217.36,72.30 219.08,72.30 220.79,72.30 222.51,72.30 224.22,72.30 225.94,72.30 227.65,72.30 229.36,72.30 231.08,72.30 232.79,72.29 234.51,72.28 236.22,72.25 237.94,72.20 239.65,72.08 241.37,71.86 243.08,71.47 244.79,70.79 246.51,69.69 248.22,67.99 249.94,65.51 251.65,62.11 253.37,57.70 255.08,52.37 256.80,46.34 258.51,40.05 260.23,34.09 261.94,29.13 263.65,25.79 265.37,24.51 267.08,25.46 268.80,28.52 270.51,33.28 272.23,39.13 273.94,45.41 275.66,51.51 277.37,56.97 279.09,61.52 280.80,65.07 282.51,67.68 284.23,69.48 285.94,70.66 287.66,71.39 289.37,71.82 291.09,72.06 292.80,72.18 294.52,72.25 296.23,72.28" fill="none" stroke="#D95319" stroke-width="1.15" stroke-linejoin="round"/>
<polyline points="56.20,72.30 57.91,72.30 59.63,72.30 61.34,72.30 63.06,72.30 64.77,72.30 66.49,72.30 68.20,72.30 69.92,72.30 71.63,72.30 73.34,72.30 75.06,72.30 76.77,72.30 78.49,72.30 80.20,72.30 81.92,72.30 83.63,72.30 85.35,72.30 87.06,72.30 88.78,72.30 90.49,72.30 92.20,72.30 93.92,72.30 95.63,72.30 97.35,72.30 99.06,72.30 100.78,72.30 102.49,72.30 104.21,72.30 105.92,72.30 107.63,72.30 109.35,72.30 111.06,72.30 112.78,72.30 114.49,72.30 116.21,72.30 117.92,72.30 119.64,72.30 121.35,72.30 123.07,72.30 124.78,72.30 126.49,72.30 128.21,72.30 129.92,72.30 131.64,72.30 133.35,72.30 135.07,72.30 136.78,72.30 138.50,72.30 140.21,72.30 141.92,72.30 143.64,72.30 145.35,72.30 147.07,72.30 148.78,72.30 150.50,72.30 152.21,72.30 153.93,72.30 155.64,72.30 157.36,72.30 159.07,72.30 160.78,72.30 162.50,72.30 164.21,72.30 165.93,72.30 167.64,72.30 169.36,72.30 171.07,72.30 172.79,72.30 174.50,72.30 176.21,72.30 177.93,72.30 179.64,72.30 181.36,72.30 183.07,72.30 184.79,72.30 186.50,72.30 188.22,72.30 189.93,72.30 191.65,72.30 193.36,72.30 195.07,72.30 196.79,72.30 198.50,72.30 200.22,72.30 201.93,72.30 203.65,72.30 205.36,72.30 207.08,72.30 208.79,72.30 210.50,72.30 212.22,72.30 213.93,72.30 215.65,72.30 217.36,72.30 219.08,72.30 220.79,72.30 222.51,72.30 224.22,72.30 225.94,72.30 227.65,72.30 229.36,72.30 231.08,72.30 232.79,72.30 234.51,72.30 236.22,72.30 237.94,72.30 239.65,72.30 241.37,72.30 243.08,72.30 244.79,72.30 246.51,72.30 248.22,72.30 249.94,72.30 251.65,72.30 253.37,72.30 255.08,72.29 256.80,72.23 258.51,71.98 260.23,71.11 261.94,68.64 263.65,63.12 265.37,53.51 267.08,40.90 268.80,29.43 270.51,24.51 272.23,28.78 273.94,39.94 275.66,52.65 277.37,62.55 279.09,68.35 280.80,70.99 282.51,71.95 284.23,72.22 285.94,72.29 287.66,72.30 289.37,72.30 291.09,72.30 292.80,72.30 294.52,72.30 296.23,72.30" fill="none" stroke="#A2142F" stroke-width="1.15" stroke-linejoin="round"/>
<polyline points="56.20,72.30 57.91,72.30 59.63,72.30 61.34,72.30 63.06,72.30 64.77,72.30 66.49,72.30 68.20,72.30 69.92,72.30 71.63,72.30 73.34,72.30 75.06,72.30 76.77,72.30 78.49,72.30 80.20,72.30 81.92,72.30 83.63,72.30 85.35,72.30 87.06,72.30 88.78,72.30 90.49,72.30 92.20,72.30 93.92,72.30 95.63,72.30 97.35,72.30 99.06,72.30 100.78,72.30 102.49,72.30 104.21,72.30 105.92,72.30 107.63,72.30 109.35,72.30 111.06,72.30 112.78,72.30 114.49,72.30 116.21,72.30 117.92,72.30 119.64,72.30 121.35,72.30 123.07,72.30 124.78,72.30 126.49,72.30 128.21,72.30 129.92,72.30 131.64,72.30 133.35,72.30 135.07,72.30 136.78,72.30 138.50,72.30 140.21,72.30 141.92,72.30 143.64,72.30 145.35,72.30 147.07,72.30 148.78,72.30 150.50,72.30 152.21,72.30 153.93,72.30 155.64,72.30 157.36,72.30 159.07,72.30 160.78,72.30 162.50,72.30 164.21,72.30 165.93,72.30 167.64,72.30 169.36,72.30 171.07,72.30 172.79,72.30 174.50,72.30 176.21,72.30 177.93,72.30 179.64,72.30 181.36,72.30 183.07,72.30 184.79,72.30 186.50,72.30 188.22,72.30 189.93,72.30 191.65,72.30 193.36,72.30 195.07,72.30 196.79,72.30 198.50,72.30 200.22,72.30 201.93,72.30 203.65,72.30 205.36,72.30 207.08,72.30 208.79,72.30 210.50,72.30 212.22,72.30 213.93,72.30 215.65,72.30 217.36,72.30 219.08,72.30 220.79,72.30 222.51,72.30 224.22,72.30 225.94,72.30 227.65,72.30 229.36,72.30 231.08,72.30 232.79,72.29 234.51,72.28 236.22,72.26 237.94,72.23 239.65,72.17 241.37,72.07 243.08,71.90 244.79,71.63 246.51,71.21 248.22,70.57 249.94,69.64 251.65,68.33 253.37,66.55 255.08,64.21 256.80,61.25 258.51,57.66 260.23,53.48 261.94,48.82 263.65,43.87 265.37,38.88 267.08,34.19 268.80,30.12 270.51,26.99 272.23,25.06 273.94,24.51 275.66,25.38 277.37,27.59 279.09,30.95 280.80,35.19 282.51,39.98 284.23,44.98 285.94,49.89 287.66,54.46 289.37,58.51 291.09,61.96 292.80,64.78 294.52,66.99 296.23,68.66" fill="none" stroke="#EDB120" stroke-width="1.15" stroke-linejoin="round"/>
<line x1="56.20" y1="72.30" x2="296.23" y2="72.30" stroke="#7DBFB5" stroke-width="1.2"/>
<line x1="43.80" y1="146.40" x2="43.80" y2="196.20" stroke="#555555" stroke-width="0.8"/>
<line x1="43.80" y1="196.20" x2="56.20" y2="196.20" stroke="#555555" stroke-width="0.8"/>
<line x1="296.23" y1="196.20" x2="308.50" y2="196.20" stroke="#555555" stroke-width="0.8"/>
<line x1="43.80" y1="171.80" x2="46.30" y2="171.80" stroke="#555555" stroke-width="0.6"/>
<line x1="43.80" y1="147.40" x2="46.30" y2="147.40" stroke="#555555" stroke-width="0.6"/>
<polyline points="56.20,160.17 57.91,156.36 59.63,153.02 61.34,150.34 63.06,148.47 64.77,147.51 66.49,147.53 68.20,148.52 69.92,150.43 71.63,153.13 73.34,156.49 75.06,160.32 76.77,164.42 78.49,168.62 80.20,172.75 81.92,176.65 83.63,180.23 85.35,183.42 87.06,186.17 88.78,188.49 90.49,190.39 92.20,191.91 93.92,193.10 95.63,194.00 97.35,194.67 99.06,195.16 100.78,195.50 102.49,195.75 104.21,195.91 105.92,196.02 107.63,196.09 109.35,196.13 111.06,196.16 112.78,196.18 114.49,196.19 116.21,196.19 117.92,196.20 119.64,196.20 121.35,196.20 123.07,196.20 124.78,196.20 126.49,196.20 128.21,196.20 129.92,196.20 131.64,196.20 133.35,196.20 135.07,196.20 136.78,196.20 138.50,196.20 140.21,196.20 141.92,196.20 143.64,196.20 145.35,196.20 147.07,196.20 148.78,196.20 150.50,196.20 152.21,196.20 153.93,196.20 155.64,196.20 157.36,196.20 159.07,196.20 160.78,196.20 162.50,196.20 164.21,196.20 165.93,196.20 167.64,196.20 169.36,196.20 171.07,196.20 172.79,196.20 174.50,196.20 176.21,196.20 177.93,196.20 179.64,196.20 181.36,196.20 183.07,196.20 184.79,196.20 186.50,196.20 188.22,196.20 189.93,196.20 191.65,196.20 193.36,196.20 195.07,196.20 196.79,196.20 198.50,196.20 200.22,196.20 201.93,196.20 203.65,196.20 205.36,196.20 207.08,196.20 208.79,196.20 210.50,196.20 212.22,196.20 213.93,196.20 215.65,196.20 217.36,196.20 219.08,196.20 220.79,196.20 222.51,196.20 224.22,196.20 225.94,196.20 227.65,196.20 229.36,196.20 231.08,196.20 232.79,196.20 234.51,196.20 236.22,196.20 237.94,196.20 239.65,196.20 241.37,196.20 243.08,196.20 244.79,196.20 246.51,196.20 248.22,196.20 249.94,196.20 251.65,196.20 253.37,196.20 255.08,196.20 256.80,196.20 258.51,196.20 260.23,196.20 261.94,196.20 263.65,196.20 265.37,196.20 267.08,196.20 268.80,196.20 270.51,196.20 272.23,196.20 273.94,196.20 275.66,196.20 277.37,196.20 279.09,196.20 280.80,196.20 282.51,196.20 284.23,196.20 285.94,196.20 287.66,196.20 289.37,196.20 291.09,196.20 292.80,196.20 294.52,196.20 296.23,196.20" fill="none" stroke="#0072BD" stroke-width="1.15" stroke-linejoin="round"/>
<polyline points="56.20,193.99 57.91,192.85 59.63,191.27 61.34,189.16 63.06,186.45 64.77,183.10 66.49,179.11 68.20,174.57 69.92,169.63 71.63,164.52 73.34,159.54 75.06,155.03 76.77,151.34 78.49,148.75 80.20,147.50 81.92,147.69 83.63,149.30 85.35,152.20 87.06,156.14 88.78,160.80 90.49,165.84 92.20,170.93 93.92,175.79 95.63,180.20 97.35,184.03 99.06,187.22 100.78,189.76 102.49,191.72 104.21,193.18 105.92,194.22 107.63,194.94 109.35,195.42 111.06,195.74 112.78,195.93 114.49,196.05 116.21,196.12 117.92,196.16 119.64,196.18 121.35,196.19 123.07,196.19 124.78,196.20 126.49,196.20 128.21,196.20 129.92,196.20 131.64,196.20 133.35,196.20 135.07,196.20 136.78,196.20 138.50,196.20 140.21,196.20 141.92,196.20 143.64,196.20 145.35,196.20 147.07,196.20 148.78,196.20 150.50,196.20 152.21,196.20 153.93,196.20 155.64,196.20 157.36,196.20 159.07,196.20 160.78,196.20 162.50,196.20 164.21,196.20 165.93,196.20 167.64,196.20 169.36,196.20 171.07,196.20 172.79,196.20 174.50,196.20 176.21,196.20 177.93,196.20 179.64,196.20 181.36,196.20 183.07,196.20 184.79,196.20 186.50,196.20 188.22,196.20 189.93,196.20 191.65,196.20 193.36,196.20 195.07,196.20 196.79,196.20 198.50,196.20 200.22,196.20 201.93,196.20 203.65,196.20 205.36,196.20 207.08,196.20 208.79,196.20 210.50,196.20 212.22,196.20 213.93,196.20 215.65,196.20 217.36,196.20 219.08,196.20 220.79,196.20 222.51,196.20 224.22,196.20 225.94,196.20 227.65,196.20 229.36,196.20 231.08,196.20 232.79,196.20 234.51,196.20 236.22,196.20 237.94,196.20 239.65,196.20 241.37,196.20 243.08,196.20 244.79,196.20 246.51,196.20 248.22,196.20 249.94,196.20 251.65,196.20 253.37,196.20 255.08,196.20 256.80,196.20 258.51,196.20 260.23,196.20 261.94,196.20 263.65,196.20 265.37,196.20 267.08,196.20 268.80,196.20 270.51,196.20 272.23,196.20 273.94,196.20 275.66,196.20 277.37,196.20 279.09,196.20 280.80,196.20 282.51,196.20 284.23,196.20 285.94,196.20 287.66,196.20 289.37,196.20 291.09,196.20 292.80,196.20 294.52,196.20 296.23,196.20" fill="none" stroke="#D95319" stroke-width="1.15" stroke-linejoin="round"/>
<polyline points="56.20,192.81 57.91,191.73 59.63,190.40 61.34,188.78 63.06,186.86 64.77,184.61 66.49,182.03 68.20,179.14 69.92,175.98 71.63,172.58 73.34,169.02 75.06,165.39 76.77,161.80 78.49,158.37 80.20,155.22 81.92,152.47 83.63,150.23 85.35,148.60 87.06,147.64 88.78,147.41 90.49,147.91 92.20,149.12 93.92,150.99 95.63,153.43 97.35,156.34 99.06,159.62 100.78,163.12 102.49,166.74 104.21,170.35 105.92,173.86 107.63,177.18 109.35,180.25 111.06,183.02 112.78,185.48 114.49,187.61 116.21,189.41 117.92,190.92 119.64,192.16 121.35,193.15 123.07,193.93 124.78,194.54 126.49,195.00 128.21,195.35 129.92,195.60 131.64,195.79 133.35,195.92 135.07,196.01 136.78,196.08 138.50,196.12 140.21,196.15 141.92,196.17 143.64,196.18 145.35,196.19 147.07,196.19 148.78,196.20 150.50,196.20 152.21,196.20 153.93,196.20 155.64,196.20 157.36,196.20 159.07,196.20 160.78,196.20 162.50,196.20 164.21,196.20 165.93,196.20 167.64,196.20 169.36,196.20 171.07,196.20 172.79,196.20 174.50,196.20 176.21,196.20 177.93,196.20 179.64,196.20 181.36,196.20 183.07,196.20 184.79,196.20 186.50,196.20 188.22,196.20 189.93,196.20 191.65,196.20 193.36,196.20 195.07,196.20 196.79,196.20 198.50,196.20 200.22,196.20 201.93,196.20 203.65,196.20 205.36,196.20 207.08,196.20 208.79,196.20 210.50,196.20 212.22,196.20 213.93,196.20 215.65,196.20 217.36,196.20 219.08,196.20 220.79,196.20 222.51,196.20 224.22,196.20 225.94,196.20 227.65,196.20 229.36,196.20 231.08,196.20 232.79,196.20 234.51,196.20 236.22,196.20 237.94,196.20 239.65,196.20 241.37,196.20 243.08,196.20 244.79,196.20 246.51,196.20 248.22,196.20 249.94,196.20 251.65,196.20 253.37,196.20 255.08,196.20 256.80,196.20 258.51,196.20 260.23,196.20 261.94,196.20 263.65,196.20 265.37,196.20 267.08,196.20 268.80,196.20 270.51,196.20 272.23,196.20 273.94,196.20 275.66,196.20 277.37,196.20 279.09,196.20 280.80,196.20 282.51,196.20 284.23,196.20 285.94,196.20 287.66,196.20 289.37,196.20 291.09,196.20 292.80,196.20 294.52,196.20 296.23,196.20" fill="none" stroke="#D95319" stroke-width="1.15" stroke-linejoin="round"/>
<polyline points="56.20,196.20 57.91,196.20 59.63,196.20 61.34,196.20 63.06,196.20 64.77,196.20 66.49,196.19 68.20,196.17 69.92,196.11 71.63,195.96 73.34,195.58 75.06,194.76 76.77,193.16 78.49,190.30 80.20,185.75 81.92,179.28 83.63,171.17 85.35,162.36 87.06,154.38 88.78,148.97 90.49,147.45 92.20,150.21 93.92,156.55 95.63,164.96 97.35,173.70 99.06,181.39 100.78,187.29 102.49,191.30 104.21,193.74 105.92,195.07 107.63,195.73 109.35,196.02 111.06,196.14 112.78,196.18 114.49,196.19 116.21,196.20 117.92,196.20 119.64,196.20 121.35,196.20 123.07,196.20 124.78,196.20 126.49,196.20 128.21,196.20 129.92,196.20 131.64,196.20 133.35,196.20 135.07,196.20 136.78,196.20 138.50,196.20 140.21,196.20 141.92,196.20 143.64,196.20 145.35,196.20 147.07,196.20 148.78,196.20 150.50,196.20 152.21,196.20 153.93,196.20 155.64,196.20 157.36,196.20 159.07,196.20 160.78,196.20 162.50,196.20 164.21,196.20 165.93,196.20 167.64,196.20 169.36,196.20 171.07,196.20 172.79,196.20 174.50,196.20 176.21,196.20 177.93,196.20 179.64,196.20 181.36,196.20 183.07,196.20 184.79,196.20 186.50,196.20 188.22,196.20 189.93,196.20 191.65,196.20 193.36,196.20 195.07,196.20 196.79,196.20 198.50,196.20 200.22,196.20 201.93,196.20 203.65,196.20 205.36,196.20 207.08,196.20 208.79,196.20 210.50,196.20 212.22,196.20 213.93,196.20 215.65,196.20 217.36,196.20 219.08,196.20 220.79,196.20 222.51,196.20 224.22,196.20 225.94,196.20 227.65,196.20 229.36,196.20 231.08,196.20 232.79,196.20 234.51,196.20 236.22,196.20 237.94,196.20 239.65,196.20 241.37,196.20 243.08,196.20 244.79,196.20 246.51,196.20 248.22,196.20 249.94,196.20 251.65,196.20 253.37,196.20 255.08,196.20 256.80,196.20 258.51,196.20 260.23,196.20 261.94,196.20 263.65,196.20 265.37,196.20 267.08,196.20 268.80,196.20 270.51,196.20 272.23,196.20 273.94,196.20 275.66,196.20 277.37,196.20 279.09,196.20 280.80,196.20 282.51,196.20 284.23,196.20 285.94,196.20 287.66,196.20 289.37,196.20 291.09,196.20 292.80,196.20 294.52,196.20 296.23,196.20" fill="none" stroke="#7E2F8E" stroke-width="1.15" stroke-linejoin="round"/>
<polyline points="56.20,196.20 57.91,196.20 59.63,196.20 61.34,196.20 63.06,196.20 64.77,196.20 66.49,196.20 68.20,196.20 69.92,196.20 71.63,196.20 73.34,196.20 75.06,196.20 76.77,196.18 78.49,196.10 80.20,195.82 81.92,194.99 83.63,192.92 85.35,188.57 87.06,181.05 88.78,170.50 90.49,158.96 92.20,150.11 93.92,147.48 95.63,152.22 97.35,162.28 99.06,173.86 100.78,183.63 102.49,190.16 104.21,193.72 105.92,195.33 107.63,195.94 109.35,196.13 111.06,196.19 112.78,196.20 114.49,196.20 116.21,196.20 117.92,196.20 119.64,196.20 121.35,196.20 123.07,196.20 124.78,196.20 126.49,196.20 128.21,196.20 129.92,196.20 131.64,196.20 133.35,196.20 135.07,196.20 136.78,196.20 138.50,196.20 140.21,196.20 141.92,196.20 143.64,196.20 145.35,196.20 147.07,196.20 148.78,196.20 150.50,196.20 152.21,196.20 153.93,196.20 155.64,196.20 157.36,196.20 159.07,196.20 160.78,196.20 162.50,196.20 164.21,196.20 165.93,196.20 167.64,196.20 169.36,196.20 171.07,196.20 172.79,196.20 174.50,196.20 176.21,196.20 177.93,196.20 179.64,196.20 181.36,196.20 183.07,196.20 184.79,196.20 186.50,196.20 188.22,196.20 189.93,196.20 191.65,196.20 193.36,196.20 195.07,196.20 196.79,196.20 198.50,196.20 200.22,196.20 201.93,196.20 203.65,196.20 205.36,196.20 207.08,196.20 208.79,196.20 210.50,196.20 212.22,196.20 213.93,196.20 215.65,196.20 217.36,196.20 219.08,196.20 220.79,196.20 222.51,196.20 224.22,196.20 225.94,196.20 227.65,196.20 229.36,196.20 231.08,196.20 232.79,196.20 234.51,196.20 236.22,196.20 237.94,196.20 239.65,196.20 241.37,196.20 243.08,196.20 244.79,196.20 246.51,196.20 248.22,196.20 249.94,196.20 251.65,196.20 253.37,196.20 255.08,196.20 256.80,196.20 258.51,196.20 260.23,196.20 261.94,196.20 263.65,196.20 265.37,196.20 267.08,196.20 268.80,196.20 270.51,196.20 272.23,196.20 273.94,196.20 275.66,196.20 277.37,196.20 279.09,196.20 280.80,196.20 282.51,196.20 284.23,196.20 285.94,196.20 287.66,196.20 289.37,196.20 291.09,196.20 292.80,196.20 294.52,196.20 296.23,196.20" fill="none" stroke="#A2142F" stroke-width="1.15" stroke-linejoin="round"/>
<polyline points="56.20,196.20 57.91,196.20 59.63,196.20 61.34,196.20 63.06,196.20 64.77,196.20 66.49,196.20 68.20,196.20 69.92,196.20 71.63,196.20 73.34,196.20 75.06,196.20 76.77,196.20 78.49,196.18 80.20,196.13 81.92,195.91 83.63,195.20 85.35,193.32 87.06,189.19 88.78,181.76 90.49,171.05 92.20,159.15 93.92,150.04 95.63,147.54 97.35,152.81 99.06,163.47 100.78,175.32 102.49,184.93 104.21,191.06 105.92,194.21 107.63,195.55 109.35,196.02 111.06,196.16 112.78,196.19 114.49,196.20 116.21,196.20 117.92,196.20 119.64,196.20 121.35,196.20 123.07,196.20 124.78,196.20 126.49,196.20 128.21,196.20 129.92,196.20 131.64,196.20 133.35,196.20 135.07,196.20 136.78,196.20 138.50,196.20 140.21,196.20 141.92,196.20 143.64,196.20 145.35,196.20 147.07,196.20 148.78,196.20 150.50,196.20 152.21,196.20 153.93,196.20 155.64,196.20 157.36,196.20 159.07,196.20 160.78,196.20 162.50,196.20 164.21,196.20 165.93,196.20 167.64,196.20 169.36,196.20 171.07,196.20 172.79,196.20 174.50,196.20 176.21,196.20 177.93,196.20 179.64,196.20 181.36,196.20 183.07,196.20 184.79,196.20 186.50,196.20 188.22,196.20 189.93,196.20 191.65,196.20 193.36,196.20 195.07,196.20 196.79,196.20 198.50,196.20 200.22,196.20 201.93,196.20 203.65,196.20 205.36,196.20 207.08,196.20 208.79,196.20 210.50,196.20 212.22,196.20 213.93,196.20 215.65,196.20 217.36,196.20 219.08,196.20 220.79,196.20 222.51,196.20 224.22,196.20 225.94,196.20 227.65,196.20 229.36,196.20 231.08,196.20 232.79,196.20 234.51,196.20 236.22,196.20 237.94,196.20 239.65,196.20 241.37,196.20 243.08,196.20 244.79,196.20 246.51,196.20 248.22,196.20 249.94,196.20 251.65,196.20 253.37,196.20 255.08,196.20 256.80,196.20 258.51,196.20 260.23,196.20 261.94,196.20 263.65,196.20 265.37,196.20 267.08,196.20 268.80,196.20 270.51,196.20 272.23,196.20 273.94,196.20 275.66,196.20 277.37,196.20 279.09,196.20 280.80,196.20 282.51,196.20 284.23,196.20 285.94,196.20 287.66,196.20 289.37,196.20 291.09,196.20 292.80,196.20 294.52,196.20 296.23,196.20" fill="none" stroke="#A2142F" stroke-width="1.15" stroke-linejoin="round"/>
<polyline points="56.20,186.99 57.91,185.74 59.63,184.38 61.34,182.92 63.06,181.34 64.77,179.66 66.49,177.88 68.20,176.02 69.92,174.08 71.63,172.07 73.34,170.01 75.06,167.92 76.77,165.82 78.49,163.73 80.20,161.67 81.92,159.66 83.63,157.72 85.35,155.89 87.06,154.19 88.78,152.63 90.49,151.25 92.20,150.05 93.92,149.06 95.63,148.29 97.35,147.76 99.06,147.46 100.78,147.41 102.49,147.61 104.21,148.05 105.92,148.72 107.63,149.62 109.35,150.74 111.06,152.05 112.78,153.54 114.49,155.18 116.21,156.96 117.92,158.86 119.64,160.84 121.35,162.88 123.07,164.97 124.78,167.07 126.49,169.17 128.21,171.24 129.92,173.27 131.64,175.24 133.35,177.14 135.07,178.95 136.78,180.67 138.50,182.29 140.21,183.80 141.92,185.20 143.64,186.50 145.35,187.68 147.07,188.76 148.78,189.73 150.50,190.61 152.21,191.39 153.93,192.08 155.64,192.69 157.36,193.23 159.07,193.69 160.78,194.10 162.50,194.45 164.21,194.74 165.93,195.00 167.64,195.21 169.36,195.39 171.07,195.54 172.79,195.67 174.50,195.77 176.21,195.86 177.93,195.93 179.64,195.98 181.36,196.03 183.07,196.06 184.79,196.09 186.50,196.12 188.22,196.14 189.93,196.15 191.65,196.16 193.36,196.17 195.07,196.18 196.79,196.18 198.50,196.19 200.22,196.19 201.93,196.19 203.65,196.19 205.36,196.20 207.08,196.20 208.79,196.20 210.50,196.20 212.22,196.20 213.93,196.20 215.65,196.20 217.36,196.20 219.08,196.20 220.79,196.20 222.51,196.20 224.22,196.20 225.94,196.20 227.65,196.20 229.36,196.20 231.08,196.20 232.79,196.20 234.51,196.20 236.22,196.20 237.94,196.20 239.65,196.20 241.37,196.20 243.08,196.20 244.79,196.20 246.51,196.20 248.22,196.20 249.94,196.20 251.65,196.20 253.37,196.20 255.08,196.20 256.80,196.20 258.51,196.20 260.23,196.20 261.94,196.20 263.65,196.20 265.37,196.20 267.08,196.20 268.80,196.20 270.51,196.20 272.23,196.20 273.94,196.20 275.66,196.20 277.37,196.20 279.09,196.20 280.80,196.20 282.51,196.20 284.23,196.20 285.94,196.20 287.66,196.20 289.37,196.20 291.09,196.20 292.80,196.20 294.52,196.20 296.23,196.20" fill="none" stroke="#7E2F8E" stroke-width="1.15" stroke-linejoin="round"/>
<polyline points="56.20,196.20 57.91,196.20 59.63,196.20 61.34,196.20 63.06,196.20 64.77,196.20 66.49,196.20 68.20,196.20 69.92,196.20 71.63,196.20 73.34,196.20 75.06,196.20 76.77,196.20 78.49,196.20 80.20,196.20 81.92,196.20 83.63,196.20 85.35,196.20 87.06,196.20 88.78,196.20 90.49,196.20 92.20,196.20 93.92,196.20 95.63,196.20 97.35,196.20 99.06,196.20 100.78,196.19 102.49,195.93 104.21,193.29 105.92,181.09 107.63,157.67 109.35,147.99 111.06,166.60 112.78,187.28 114.49,194.88 116.21,196.10 117.92,196.20 119.64,196.20 121.35,196.20 123.07,196.20 124.78,196.20 126.49,196.20 128.21,196.20 129.92,196.20 131.64,196.20 133.35,196.20 135.07,196.20 136.78,196.20 138.50,196.20 140.21,196.20 141.92,196.20 143.64,196.20 145.35,196.20 147.07,196.20 148.78,196.20 150.50,196.20 152.21,196.20 153.93,196.20 155.64,196.20 157.36,196.20 159.07,196.20 160.78,196.20 162.50,196.20 164.21,196.20 165.93,196.20 167.64,196.20 169.36,196.20 171.07,196.20 172.79,196.20 174.50,196.20 176.21,196.20 177.93,196.20 179.64,196.20 181.36,196.20 183.07,196.20 184.79,196.20 186.50,196.20 188.22,196.20 189.93,196.20 191.65,196.20 193.36,196.20 195.07,196.20 196.79,196.20 198.50,196.20 200.22,196.20 201.93,196.20 203.65,196.20 205.36,196.20 207.08,196.20 208.79,196.20 210.50,196.20 212.22,196.20 213.93,196.20 215.65,196.20 217.36,196.20 219.08,196.20 220.79,196.20 222.51,196.20 224.22,196.20 225.94,196.20 227.65,196.20 229.36,196.20 231.08,196.20 232.79,196.20 234.51,196.20 236.22,196.20 237.94,196.20 239.65,196.20 241.37,196.20 243.08,196.20 244.79,196.20 246.51,196.20 248.22,196.20 249.94,196.20 251.65,196.20 253.37,196.20 255.08,196.20 256.80,196.20 258.51,196.20 260.23,196.20 261.94,196.20 263.65,196.20 265.37,196.20 267.08,196.20 268.80,196.20 270.51,196.20 272.23,196.20 273.94,196.20 275.66,196.20 277.37,196.20 279.09,196.20 280.80,196.20 282.51,196.20 284.23,196.20 285.94,196.20 287.66,196.20 289.37,196.20 291.09,196.20 292.80,196.20 294.52,196.20 296.23,196.20" fill="none" stroke="#EDB120" stroke-width="1.15" stroke-linejoin="round"/>
<polyline points="56.20,196.19 57.91,196.18 59.63,196.18 61.34,196.17 63.06,196.15 64.77,196.13 66.49,196.11 68.20,196.07 69.92,196.03 71.63,195.96 73.34,195.88 75.06,195.77 76.77,195.64 78.49,195.46 80.20,195.23 81.92,194.95 83.63,194.60 85.35,194.16 87.06,193.64 88.78,193.00 90.49,192.24 92.20,191.34 93.92,190.29 95.63,189.08 97.35,187.69 99.06,186.12 100.78,184.36 102.49,182.41 104.21,180.27 105.92,177.97 107.63,175.52 109.35,172.94 111.06,170.26 112.78,167.52 114.49,164.77 116.21,162.05 117.92,159.41 119.64,156.92 121.35,154.61 123.07,152.55 124.78,150.79 126.49,149.36 128.21,148.30 129.92,147.64 131.64,147.40 133.35,147.58 135.07,148.18 136.78,149.18 138.50,150.55 140.21,152.27 141.92,154.29 143.64,156.56 145.35,159.03 147.07,161.65 148.78,164.36 150.50,167.11 152.21,169.85 153.93,172.54 155.64,175.14 157.36,177.62 159.07,179.94 160.78,182.10 162.50,184.08 164.21,185.87 165.93,187.47 167.64,188.89 169.36,190.13 171.07,191.20 172.79,192.12 174.50,192.90 176.21,193.55 177.93,194.09 179.64,194.54 181.36,194.90 183.07,195.19 184.79,195.43 186.50,195.61 188.22,195.76 189.93,195.87 191.65,195.95 193.36,196.02 195.07,196.07 196.79,196.10 198.50,196.13 200.22,196.15 201.93,196.17 203.65,196.18 205.36,196.18 207.08,196.19 208.79,196.19 210.50,196.19 212.22,196.20 213.93,196.20 215.65,196.20 217.36,196.20 219.08,196.20 220.79,196.20 222.51,196.20 224.22,196.20 225.94,196.20 227.65,196.20 229.36,196.20 231.08,196.20 232.79,196.20 234.51,196.20 236.22,196.20 237.94,196.20 239.65,196.20 241.37,196.20 243.08,196.20 244.79,196.20 246.51,196.20 248.22,196.20 249.94,196.20 251.65,196.20 253.37,196.20 255.08,196.20 256.80,196.20 258.51,196.20 260.23,196.20 261.94,196.20 263.65,196.20 265.37,196.20 267.08,196.20 268.80,196.20 270.51,196.20 272.23,196.20 273.94,196.20 275.66,196.20 277.37,196.20 279.09,196.20 280.80,196.20 282.51,196.20 284.23,196.20 285.94,196.20 287.66,196.20 289.37,196.20 291.09,196.20 292.80,196.20 294.52,196.20 296.23,196.20" fill="none" stroke="#D95319" stroke-width="1.15" stroke-linejoin="round"/>
<polyline points="56.20,196.20 57.91,196.20 59.63,196.20 61.34,196.20 63.06,196.20 64.77,196.20 66.49,196.20 68.20,196.20 69.92,196.20 71.63,196.20 73.34,196.20 75.06,196.20 76.77,196.20 78.49,196.20 80.20,196.20 81.92,196.20 83.63,196.20 85.35,196.20 87.06,196.20 88.78,196.20 90.49,196.20 92.20,196.20 93.92,196.20 95.63,196.20 97.35,196.20 99.06,196.20 100.78,196.20 102.49,196.20 104.21,196.20 105.92,196.20 107.63,196.20 109.35,196.20 111.06,196.20 112.78,196.20 114.49,196.20 116.21,196.20 117.92,196.20 119.64,196.20 121.35,196.20 123.07,196.20 124.78,196.20 126.49,196.19 128.21,196.18 129.92,196.17 131.64,196.13 133.35,196.07 135.07,195.96 136.78,195.78 138.50,195.49 140.21,195.01 141.92,194.29 143.64,193.23 145.35,191.73 147.07,189.68 148.78,187.00 150.50,183.62 152.21,179.55 153.93,174.87 155.64,169.75 157.36,164.43 159.07,159.27 160.78,154.64 162.50,150.92 164.21,148.43 165.93,147.42 167.64,147.97 169.36,150.04 171.07,153.42 172.79,157.83 174.50,162.87 176.21,168.18 177.93,173.39 179.64,178.23 181.36,182.49 183.07,186.07 184.79,188.96 186.50,191.19 188.22,192.84 189.93,194.02 191.65,194.83 193.36,195.37 195.07,195.71 196.79,195.92 198.50,196.05 200.22,196.12 201.93,196.16 203.65,196.18 205.36,196.19 207.08,196.20 208.79,196.20 210.50,196.20 212.22,196.20 213.93,196.20 215.65,196.20 217.36,196.20 219.08,196.20 220.79,196.20 222.51,196.20 224.22,196.20 225.94,196.20 227.65,196.20 229.36,196.20 231.08,196.20 232.79,196.20 234.51,196.20 236.22,196.20 237.94,196.20 239.65,196.20 241.37,196.20 243.08,196.20 244.79,196.20 246.51,196.20 248.22,196.20 249.94,196.20 251.65,196.20 253.37,196.20 255.08,196.20 256.80,196.20 258.51,196.20 260.23,196.20 261.94,196.20 263.65,196.20 265.37,196.20 267.08,196.20 268.80,196.20 270.51,196.20 272.23,196.20 273.94,196.20 275.66,196.20 277.37,196.20 279.09,196.20 280.80,196.20 282.51,196.20 284.23,196.20 285.94,196.20 287.66,196.20 289.37,196.20 291.09,196.20 292.80,196.20 294.52,196.20 296.23,196.20" fill="none" stroke="#77AC30" stroke-width="1.15" stroke-linejoin="round"/>
<polyline points="56.20,196.20 57.91,196.20 59.63,196.20 61.34,196.20 63.06,196.20 64.77,196.20 66.49,196.20 68.20,196.20 69.92,196.20 71.63,196.20 73.34,196.20 75.06,196.20 76.77,196.20 78.49,196.20 80.20,196.20 81.92,196.20 83.63,196.20 85.35,196.20 87.06,196.20 88.78,196.20 90.49,196.20 92.20,196.20 93.92,196.20 95.63,196.20 97.35,196.20 99.06,196.20 100.78,196.20 102.49,196.20 104.21,196.20 105.92,196.20 107.63,196.20 109.35,196.20 111.06,196.20 112.78,196.20 114.49,196.20 116.21,196.20 117.92,196.20 119.64,196.20 121.35,196.20 123.07,196.19 124.78,196.19 126.49,196.19 128.21,196.18 129.92,196.17 131.64,196.16 133.35,196.14 135.07,196.12 136.78,196.09 138.50,196.06 140.21,196.00 141.92,195.94 143.64,195.85 145.35,195.74 147.07,195.60 148.78,195.41 150.50,195.19 152.21,194.90 153.93,194.55 155.64,194.13 157.36,193.61 159.07,192.99 160.78,192.26 162.50,191.40 164.21,190.39 165.93,189.24 167.64,187.92 169.36,186.43 171.07,184.76 172.79,182.92 174.50,180.91 176.21,178.73 177.93,176.40 179.64,173.95 181.36,171.39 183.07,168.77 184.79,166.11 186.50,163.46 188.22,160.86 189.93,158.36 191.65,156.02 193.36,153.87 195.07,151.97 196.79,150.35 198.50,149.06 200.22,148.13 201.93,147.57 203.65,147.40 205.36,147.63 207.08,148.24 208.79,149.23 210.50,150.57 212.22,152.23 213.93,154.17 215.65,156.35 217.36,158.72 219.08,161.24 220.79,163.85 222.51,166.50 224.22,169.16 225.94,171.78 227.65,174.32 229.36,176.76 231.08,179.06 232.79,181.21 234.51,183.20 236.22,185.02 237.94,186.66 239.65,188.12 241.37,189.42 243.08,190.55 244.79,191.53 246.51,192.38 248.22,193.09 249.94,193.69 251.65,194.19 253.37,194.61 255.08,194.95 256.80,195.22 258.51,195.44 260.23,195.62 261.94,195.76 263.65,195.87 265.37,195.95 267.08,196.01 268.80,196.06 270.51,196.10 272.23,196.13 273.94,196.15 275.66,196.16 277.37,196.17 279.09,196.18 280.80,196.19 282.51,196.19 284.23,196.19 285.94,196.20 287.66,196.20 289.37,196.20 291.09,196.20 292.80,196.20 294.52,196.20 296.23,196.20" fill="none" stroke="#EDB120" stroke-width="1.15" stroke-linejoin="round"/>
<polyline points="56.20,196.20 57.91,196.20 59.63,196.20 61.34,196.20 63.06,196.20 64.77,196.20 66.49,196.20 68.20,196.20 69.92,196.20 71.63,196.20 73.34,196.20 75.06,196.20 76.77,196.20 78.49,196.20 80.20,196.20 81.92,196.20 83.63,196.20 85.35,196.20 87.06,196.20 88.78,196.20 90.49,196.20 92.20,196.20 93.92,196.20 95.63,196.20 97.35,196.20 99.06,196.20 100.78,196.20 102.49,196.20 104.21,196.20 105.92,196.20 107.63,196.20 109.35,196.20 111.06,196.20 112.78,196.20 114.49,196.20 116.21,196.20 117.92,196.20 119.64,196.20 121.35,196.20 123.07,196.20 124.78,196.20 126.49,196.20 128.21,196.20 129.92,196.20 131.64,196.20 133.35,196.20 135.07,196.20 136.78,196.20 138.50,196.20 140.21,196.20 141.92,196.20 143.64,196.20 145.35,196.20 147.07,196.20 148.78,196.20 150.50,196.20 152.21,196.20 153.93,196.20 155.64,196.20 157.36,196.20 159.07,196.20 160.78,196.20 162.50,196.20 164.21,196.20 165.93,196.20 167.64,196.20 169.36,196.20 171.07,196.20 172.79,196.19 174.50,196.18 176.21,196.17 177.93,196.15 179.64,196.12 181.36,196.07 183.07,195.99 184.79,195.87 186.50,195.69 188.22,195.43 189.93,195.05 191.65,194.52 193.36,193.79 195.07,192.82 196.79,191.55 198.50,189.94 200.22,187.93 201.93,185.50 203.65,182.63 205.36,179.34 207.08,175.67 208.79,171.69 210.50,167.54 212.22,163.34 213.93,159.29 215.65,155.57 217.36,152.36 219.08,149.85 220.79,148.18 222.51,147.43 224.22,147.67 225.94,148.87 227.65,150.96 229.36,153.83 231.08,157.31 232.79,161.21 234.51,165.36 236.22,169.55 237.94,173.64 239.65,177.48 241.37,180.98 243.08,184.07 244.79,186.72 246.51,188.95 248.22,190.76 249.94,192.20 251.65,193.32 253.37,194.17 255.08,194.79 256.80,195.25 258.51,195.57 260.23,195.79 261.94,195.94 263.65,196.04 265.37,196.10 267.08,196.14 268.80,196.16 270.51,196.18 272.23,196.19 273.94,196.19 275.66,196.20 277.37,196.20 279.09,196.20 280.80,196.20 282.51,196.20 284.23,196.20 285.94,196.20 287.66,196.20 289.37,196.20 291.09,196.20 292.80,196.20 294.52,196.20 296.23,196.20" fill="none" stroke="#EDB120" stroke-width="1.15" stroke-linejoin="round"/>
<polyline points="56.20,196.20 57.91,196.20 59.63,196.20 61.34,196.20 63.06,196.20 64.77,196.20 66.49,196.20 68.20,196.20 69.92,196.20 71.63,196.20 73.34,196.20 75.06,196.20 76.77,196.20 78.49,196.20 80.20,196.20 81.92,196.20 83.63,196.20 85.35,196.20 87.06,196.20 88.78,196.20 90.49,196.20 92.20,196.20 93.92,196.20 95.63,196.20 97.35,196.20 99.06,196.20 100.78,196.20 102.49,196.20 104.21,196.20 105.92,196.20 107.63,196.20 109.35,196.20 111.06,196.20 112.78,196.20 114.49,196.20 116.21,196.20 117.92,196.20 119.64,196.20 121.35,196.20 123.07,196.20 124.78,196.20 126.49,196.20 128.21,196.20 129.92,196.20 131.64,196.20 133.35,196.20 135.07,196.20 136.78,196.20 138.50,196.20 140.21,196.20 141.92,196.20 143.64,196.20 145.35,196.20 147.07,196.20 148.78,196.20 150.50,196.20 152.21,196.20 153.93,196.20 155.64,196.20 157.36,196.20 159.07,196.20 160.78,196.20 162.50,196.20 164.21,196.20 165.93,196.20 167.64,196.20 169.36,196.20 171.07,196.20 172.79,196.20 174.50,196.20 176.21,196.20 177.93,196.20 179.64,196.20 181.36,196.20 183.07,196.20 184.79,196.20 186.50,196.20 188.22,196.20 189.93,196.20 191.65,196.20 193.36,196.20 195.07,196.20 196.79,196.20 198.50,196.20 200.22,196.20 201.93,196.19 203.65,196.18 205.36,196.15 207.08,196.06 208.79,195.86 210.50,195.43 212.22,194.58 213.93,193.04 215.65,190.47 217.36,186.54 219.08,181.06 220.79,174.14 222.51,166.31 224.22,158.54 225.94,152.10 227.65,148.18 229.36,147.60 231.08,150.46 232.79,156.18 234.51,163.65 236.22,171.59 237.94,178.90 239.65,184.89 241.37,189.33 243.08,192.32 244.79,194.16 246.51,195.20 248.22,195.75 249.94,196.01 251.65,196.13 253.37,196.17 255.08,196.19 256.80,196.20 258.51,196.20 260.23,196.20 261.94,196.20 263.65,196.20 265.37,196.20 267.08,196.20 268.80,196.20 270.51,196.20 272.23,196.20 273.94,196.20 275.66,196.20 277.37,196.20 279.09,196.20 280.80,196.20 282.51,196.20 284.23,196.20 285.94,196.20 287.66,196.20 289.37,196.20 291.09,196.20 292.80,196.20 294.52,196.20 296.23,196.20" fill="none" stroke="#4DBEEE" stroke-width="1.15" stroke-linejoin="round"/>
<polyline points="56.20,196.20 57.91,196.20 59.63,196.20 61.34,196.20 63.06,196.20 64.77,196.20 66.49,196.20 68.20,196.20 69.92,196.20 71.63,196.20 73.34,196.20 75.06,196.20 76.77,196.20 78.49,196.20 80.20,196.20 81.92,196.20 83.63,196.20 85.35,196.20 87.06,196.20 88.78,196.20 90.49,196.20 92.20,196.20 93.92,196.20 95.63,196.20 97.35,196.20 99.06,196.20 100.78,196.20 102.49,196.20 104.21,196.20 105.92,196.20 107.63,196.20 109.35,196.20 111.06,196.20 112.78,196.20 114.49,196.20 116.21,196.20 117.92,196.20 119.64,196.20 121.35,196.20 123.07,196.20 124.78,196.20 126.49,196.20 128.21,196.20 129.92,196.20 131.64,196.20 133.35,196.20 135.07,196.20 136.78,196.20 138.50,196.20 140.21,196.20 141.92,196.20 143.64,196.20 145.35,196.20 147.07,196.20 148.78,196.20 150.50,196.20 152.21,196.20 153.93,196.20 155.64,196.20 157.36,196.20 159.07,196.20 160.78,196.20 162.50,196.20 164.21,196.20 165.93,196.20 167.64,196.20 169.36,196.20 171.07,196.20 172.79,196.20 174.50,196.20 176.21,196.20 177.93,196.20 179.64,196.20 181.36,196.20 183.07,196.20 184.79,196.20 186.50,196.20 188.22,196.20 189.93,196.20 191.65,196.20 193.36,196.20 195.07,196.20 196.79,196.20 198.50,196.19 200.22,196.19 201.93,196.18 203.65,196.16 205.36,196.13 207.08,196.09 208.79,196.02 210.50,195.92 212.22,195.76 213.93,195.53 215.65,195.19 217.36,194.71 219.08,194.06 220.79,193.17 222.51,192.01 224.22,190.52 225.94,188.64 227.65,186.36 229.36,183.64 231.08,180.48 232.79,176.93 234.51,173.04 236.22,168.93 237.94,164.73 239.65,160.61 241.37,156.76 243.08,153.36 244.79,150.60 246.51,148.63 248.22,147.57 249.94,147.48 251.65,148.37 253.37,150.17 255.08,152.80 256.80,156.09 258.51,159.88 260.23,163.96 261.94,168.16 263.65,172.30 265.37,176.23 267.08,179.85 268.80,183.08 270.51,185.89 272.23,188.25 273.94,190.20 275.66,191.76 277.37,192.98 279.09,193.91 280.80,194.61 282.51,195.11 284.23,195.47 285.94,195.72 287.66,195.89 289.37,196.01 291.09,196.08 292.80,196.13 294.52,196.16 296.23,196.18" fill="none" stroke="#4DBEEE" stroke-width="1.15" stroke-linejoin="round"/>
<polyline points="56.20,196.20 57.91,196.20 59.63,196.20 61.34,196.20 63.06,196.20 64.77,196.20 66.49,196.20 68.20,196.20 69.92,196.20 71.63,196.20 73.34,196.20 75.06,196.20 76.77,196.20 78.49,196.20 80.20,196.20 81.92,196.20 83.63,196.20 85.35,196.20 87.06,196.20 88.78,196.20 90.49,196.20 92.20,196.20 93.92,196.20 95.63,196.20 97.35,196.20 99.06,196.20 100.78,196.20 102.49,196.20 104.21,196.20 105.92,196.20 107.63,196.20 109.35,196.20 111.06,196.20 112.78,196.20 114.49,196.20 116.21,196.20 117.92,196.20 119.64,196.20 121.35,196.20 123.07,196.20 124.78,196.20 126.49,196.20 128.21,196.20 129.92,196.20 131.64,196.20 133.35,196.20 135.07,196.20 136.78,196.20 138.50,196.20 140.21,196.20 141.92,196.20 143.64,196.20 145.35,196.20 147.07,196.20 148.78,196.20 150.50,196.20 152.21,196.20 153.93,196.20 155.64,196.20 157.36,196.20 159.07,196.20 160.78,196.20 162.50,196.20 164.21,196.20 165.93,196.19 167.64,196.19 169.36,196.19 171.07,196.19 172.79,196.18 174.50,196.17 176.21,196.16 177.93,196.14 179.64,196.13 181.36,196.10 183.07,196.06 184.79,196.02 186.50,195.96 188.22,195.89 189.93,195.79 191.65,195.67 193.36,195.52 195.07,195.34 196.79,195.11 198.50,194.83 200.22,194.48 201.93,194.07 203.65,193.58 205.36,193.00 207.08,192.32 208.79,191.52 210.50,190.60 212.22,189.55 213.93,188.36 215.65,187.02 217.36,185.53 219.08,183.88 220.79,182.08 222.51,180.13 224.22,178.04 225.94,175.83 227.65,173.51 229.36,171.10 231.08,168.63 232.79,166.14 234.51,163.65 236.22,161.21 237.94,158.85 239.65,156.61 241.37,154.54 243.08,152.67 244.79,151.04 246.51,149.68 248.22,148.62 249.94,147.88 251.65,147.48 253.37,147.42 255.08,147.71 256.80,148.34 258.51,149.29 260.23,150.56 261.94,152.10 263.65,153.89 265.37,155.90 267.08,158.09 268.80,160.41 270.51,162.83 272.23,165.31 273.94,167.80 275.66,170.28 277.37,172.71 279.09,175.07 280.80,177.32 282.51,179.45 284.23,181.45 285.94,183.30 287.66,185.00 289.37,186.54 291.09,187.93 292.80,189.17 294.52,190.27 296.23,191.23" fill="none" stroke="#7E2F8E" stroke-width="1.15" stroke-linejoin="round"/>
<polyline points="56.20,196.20 57.91,196.20 59.63,196.20 61.34,196.20 63.06,196.20 64.77,196.20 66.49,196.20 68.20,196.20 69.92,196.20 71.63,196.20 73.34,196.20 75.06,196.20 76.77,196.20 78.49,196.20 80.20,196.20 81.92,196.20 83.63,196.20 85.35,196.20 87.06,196.20 88.78,196.20 90.49,196.20 92.20,196.20 93.92,196.20 95.63,196.20 97.35,196.20 99.06,196.20 100.78,196.20 102.49,196.20 104.21,196.20 105.92,196.20 107.63,196.20 109.35,196.20 111.06,196.20 112.78,196.20 114.49,196.20 116.21,196.20 117.92,196.20 119.64,196.20 121.35,196.20 123.07,196.20 124.78,196.20 126.49,196.20 128.21,196.20 129.92,196.20 131.64,196.20 133.35,196.20 135.07,196.20 136.78,196.20 138.50,196.20 140.21,196.20 141.92,196.20 143.64,196.20 145.35,196.20 147.07,196.20 148.78,196.20 150.50,196.20 152.21,196.20 153.93,196.20 155.64,196.20 157.36,196.20 159.07,196.20 160.78,196.20 162.50,196.20 164.21,196.20 165.93,196.20 167.64,196.20 169.36,196.20 171.07,196.20 172.79,196.20 174.50,196.20 176.21,196.20 177.93,196.20 179.64,196.20 181.36,196.20 183.07,196.20 184.79,196.20 186.50,196.20 188.22,196.20 189.93,196.20 191.65,196.20 193.36,196.20 195.07,196.20 196.79,196.20 198.50,196.20 200.22,196.20 201.93,196.20 203.65,196.20 205.36,196.20 207.08,196.20 208.79,196.20 210.50,196.20 212.22,196.20 213.93,196.20 215.65,196.20 217.36,196.20 219.08,196.20 220.79,196.20 222.51,196.20 224.22,196.20 225.94,196.20 227.65,196.20 229.36,196.20 231.08,196.19 232.79,196.18 234.51,196.15 236.22,196.11 237.94,196.03 239.65,195.88 241.37,195.63 243.08,195.23 244.79,194.59 246.51,193.61 248.22,192.19 249.94,190.21 251.65,187.56 253.37,184.17 255.08,180.02 256.80,175.20 258.51,169.88 260.23,164.34 261.94,158.98 263.65,154.22 265.37,150.48 267.08,148.13 268.80,147.40 270.51,148.38 272.23,150.95 273.94,154.87 275.66,159.75 277.37,165.16 279.09,170.69 280.80,175.95 282.51,180.69 284.23,184.72 285.94,188.00 287.66,190.55 289.37,192.44 291.09,193.78 292.80,194.70 294.52,195.30 296.23,195.68" fill="none" stroke="#0072BD" stroke-width="1.15" stroke-linejoin="round"/>
<polyline points="56.20,196.20 57.91,196.20 59.63,196.20 61.34,196.20 63.06,196.20 64.77,196.20 66.49,196.20 68.20,196.20 69.92,196.20 71.63,196.20 73.34,196.20 75.06,196.20 76.77,196.20 78.49,196.20 80.20,196.20 81.92,196.20 83.63,196.20 85.35,196.20 87.06,196.20 88.78,196.20 90.49,196.20 92.20,196.20 93.92,196.20 95.63,196.20 97.35,196.20 99.06,196.20 100.78,196.20 102.49,196.20 104.21,196.20 105.92,196.20 107.63,196.20 109.35,196.20 111.06,196.20 112.78,196.20 114.49,196.20 116.21,196.20 117.92,196.20 119.64,196.20 121.35,196.20 123.07,196.20 124.78,196.20 126.49,196.20 128.21,196.20 129.92,196.20 131.64,196.20 133.35,196.20 135.07,196.20 136.78,196.20 138.50,196.20 140.21,196.20 141.92,196.20 143.64,196.20 145.35,196.20 147.07,196.20 148.78,196.20 150.50,196.20 152.21,196.20 153.93,196.20 155.64,196.20 157.36,196.20 159.07,196.20 160.78,196.20 162.50,196.20 164.21,196.20 165.93,196.20 167.64,196.20 169.36,196.20 171.07,196.20 172.79,196.20 174.50,196.20 176.21,196.20 177.93,196.20 179.64,196.20 181.36,196.20 183.07,196.20 184.79,196.20 186.50,196.20 188.22,196.20 189.93,196.20 191.65,196.20 193.36,196.20 195.07,196.20 196.79,196.20 198.50,196.20 200.22,196.20 201.93,196.20 203.65,196.20 205.36,196.20 207.08,196.20 208.79,196.20 210.50,196.20 212.22,196.20 213.93,196.20 215.65,196.20 217.36,196.20 219.08,196.20 220.79,196.20 222.51,196.20 224.22,196.20 225.94,196.20 227.65,196.19 229.36,196.19 231.08,196.18 232.79,196.16 234.51,196.12 236.22,196.05 237.94,195.94 239.65,195.76 241.37,195.47 243.08,195.03 244.79,194.37 246.51,193.42 248.22,192.09 249.94,190.31 251.65,187.98 253.37,185.06 255.08,181.52 256.80,177.40 258.51,172.80 260.23,167.90 261.94,162.92 263.65,158.17 265.37,153.96 267.08,150.61 268.80,148.37 270.51,147.42 272.23,147.86 273.94,149.64 275.66,152.61 277.37,156.53 279.09,161.12 280.80,166.05 282.51,171.01 284.23,175.75 285.94,180.06 287.66,183.82 289.37,186.97 291.09,189.51 292.80,191.49 294.52,192.98 296.23,194.06" fill="none" stroke="#4DBEEE" stroke-width="1.15" stroke-linejoin="round"/>
<polyline points="56.20,196.20 57.91,196.20 59.63,196.20 61.34,196.20 63.06,196.20 64.77,196.20 66.49,196.20 68.20,196.20 69.92,196.20 71.63,196.20 73.34,196.20 75.06,196.20 76.77,196.20 78.49,196.20 80.20,196.20 81.92,196.20 83.63,196.20 85.35,196.20 87.06,196.20 88.78,196.20 90.49,196.20 92.20,196.20 93.92,196.20 95.63,196.20 97.35,196.20 99.06,196.20 100.78,196.20 102.49,196.20 104.21,196.20 105.92,196.20 107.63,196.20 109.35,196.20 111.06,196.20 112.78,196.20 114.49,196.20 116.21,196.20 117.92,196.20 119.64,196.20 121.35,196.20 123.07,196.20 124.78,196.20 126.49,196.20 128.21,196.20 129.92,196.20 131.64,196.20 133.35,196.20 135.07,196.20 136.78,196.20 138.50,196.20 140.21,196.20 141.92,196.20 143.64,196.20 145.35,196.20 147.07,196.20 148.78,196.20 150.50,196.20 152.21,196.20 153.93,196.20 155.64,196.20 157.36,196.20 159.07,196.20 160.78,196.20 162.50,196.20 164.21,196.20 165.93,196.20 167.64,196.20 169.36,196.20 171.07,196.20 172.79,196.20 174.50,196.20 176.21,196.20 177.93,196.20 179.64,196.20 181.36,196.20 183.07,196.20 184.79,196.20 186.50,196.20 188.22,196.20 189.93,196.20 191.65,196.20 193.36,196.20 195.07,196.20 196.79,196.20 198.50,196.20 200.22,196.20 201.93,196.20 203.65,196.20 205.36,196.20 207.08,196.20 208.79,196.20 210.50,196.20 212.22,196.20 213.93,196.20 215.65,196.20 217.36,196.20 219.08,196.20 220.79,196.20 222.51,196.19 224.22,196.19 225.94,196.18 227.65,196.17 229.36,196.14 231.08,196.11 232.79,196.04 234.51,195.94 236.22,195.78 237.94,195.54 239.65,195.19 241.37,194.68 243.08,193.96 244.79,192.99 246.51,191.70 248.22,190.03 249.94,187.92 251.65,185.34 253.37,182.27 255.08,178.73 256.80,174.78 258.51,170.53 260.23,166.11 261.94,161.72 263.65,157.56 265.37,153.87 267.08,150.86 268.80,148.71 270.51,147.57 272.23,147.51 273.94,148.53 275.66,150.57 277.37,153.50 279.09,157.12 280.80,161.24 282.51,165.62 284.23,170.04 285.94,174.32 287.66,178.31 289.37,181.90 291.09,185.02 292.80,187.65 294.52,189.81 296.23,191.53" fill="none" stroke="#0072BD" stroke-width="1.15" stroke-linejoin="round"/>
<polyline points="56.20,196.20 57.91,196.20 59.63,196.20 61.34,196.20 63.06,196.20 64.77,196.20 66.49,196.20 68.20,196.20 69.92,196.20 71.63,196.20 73.34,196.20 75.06,196.20 76.77,196.20 78.49,196.20 80.20,196.20 81.92,196.20 83.63,196.20 85.35,196.20 87.06,196.20 88.78,196.20 90.49,196.20 92.20,196.20 93.92,196.20 95.63,196.20 97.35,196.20 99.06,196.20 100.78,196.20 102.49,196.20 104.21,196.20 105.92,196.20 107.63,196.20 109.35,196.20 111.06,196.20 112.78,196.20 114.49,196.20 116.21,196.20 117.92,196.20 119.64,196.20 121.35,196.20 123.07,196.20 124.78,196.20 126.49,196.20 128.21,196.20 129.92,196.20 131.64,196.20 133.35,196.20 135.07,196.20 136.78,196.20 138.50,196.20 140.21,196.20 141.92,196.20 143.64,196.20 145.35,196.20 147.07,196.20 148.78,196.20 150.50,196.20 152.21,196.20 153.93,196.20 155.64,196.20 157.36,196.20 159.07,196.20 160.78,196.20 162.50,196.20 164.21,196.20 165.93,196.20 167.64,196.20 169.36,196.20 171.07,196.20 172.79,196.20 174.50,196.20 176.21,196.20 177.93,196.20 179.64,196.20 181.36,196.20 183.07,196.20 184.79,196.20 186.50,196.20 188.22,196.20 189.93,196.20 191.65,196.20 193.36,196.20 195.07,196.20 196.79,196.20 198.50,196.20 200.22,196.20 201.93,196.19 203.65,196.19 205.36,196.18 207.08,196.18 208.79,196.17 210.50,196.15 212.22,196.13 213.93,196.10 215.65,196.06 217.36,196.00 219.08,195.92 220.79,195.81 222.51,195.68 224.22,195.49 225.94,195.26 227.65,194.96 229.36,194.57 231.08,194.10 232.79,193.50 234.51,192.78 236.22,191.91 237.94,190.87 239.65,189.64 241.37,188.22 243.08,186.58 244.79,184.72 246.51,182.65 248.22,180.36 249.94,177.87 251.65,175.20 253.37,172.38 255.08,169.46 256.80,166.49 258.51,163.52 260.23,160.62 261.94,157.84 263.65,155.28 265.37,152.97 267.08,151.01 268.80,149.42 270.51,148.28 272.23,147.60 273.94,147.40 275.66,147.70 277.37,148.49 279.09,149.74 280.80,151.41 282.51,153.46 284.23,155.83 285.94,158.45 287.66,161.25 289.37,164.18 291.09,167.15 292.80,170.12 294.52,173.02 296.23,175.80" fill="none" stroke="#0072BD" stroke-width="1.15" stroke-linejoin="round"/>
<polyline points="56.20,196.20 57.91,196.20 59.63,196.20 61.34,196.20 63.06,196.20 64.77,196.20 66.49,196.20 68.20,196.20 69.92,196.20 71.63,196.20 73.34,196.20 75.06,196.20 76.77,196.20 78.49,196.20 80.20,196.20 81.92,196.20 83.63,196.20 85.35,196.20 87.06,196.20 88.78,196.20 90.49,196.20 92.20,196.20 93.92,196.20 95.63,196.20 97.35,196.20 99.06,196.20 100.78,196.20 102.49,196.20 104.21,196.20 105.92,196.20 107.63,196.20 109.35,196.20 111.06,196.20 112.78,196.20 114.49,196.20 116.21,196.20 117.92,196.20 119.64,196.20 121.35,196.20 123.07,196.20 124.78,196.20 126.49,196.20 128.21,196.20 129.92,196.20 131.64,196.20 133.35,196.20 135.07,196.20 136.78,196.20 138.50,196.20 140.21,196.20 141.92,196.20 143.64,196.20 145.35,196.20 147.07,196.20 148.78,196.20 150.50,196.20 152.21,196.20 153.93,196.20 155.64,196.20 157.36,196.20 159.07,196.20 160.78,196.20 162.50,196.20 164.21,196.20 165.93,196.20 167.64,196.20 169.36,196.20 171.07,196.20 172.79,196.20 174.50,196.20 176.21,196.20 177.93,196.19 179.64,196.19 181.36,196.19 183.07,196.19 184.79,196.19 186.50,196.18 188.22,196.18 189.93,196.17 191.65,196.16 193.36,196.15 195.07,196.14 196.79,196.12 198.50,196.10 200.22,196.08 201.93,196.05 203.65,196.02 205.36,195.98 207.08,195.93 208.79,195.87 210.50,195.80 212.22,195.71 213.93,195.61 215.65,195.49 217.36,195.36 219.08,195.20 220.79,195.01 222.51,194.79 224.22,194.54 225.94,194.26 227.65,193.93 229.36,193.56 231.08,193.14 232.79,192.66 234.51,192.13 236.22,191.54 237.94,190.88 239.65,190.15 241.37,189.35 243.08,188.47 244.79,187.51 246.51,186.47 248.22,185.35 249.94,184.14 251.65,182.85 253.37,181.48 255.08,180.03 256.80,178.50 258.51,176.91 260.23,175.25 261.94,173.54 263.65,171.78 265.37,169.98 267.08,168.16 268.80,166.33 270.51,164.50 272.23,162.69 273.94,160.91 275.66,159.17 277.37,157.50 279.09,155.91 280.80,154.42 282.51,153.04 284.23,151.78 285.94,150.65 287.66,149.68 289.37,148.87 291.09,148.23 292.80,147.77 294.52,147.49 296.23,147.40" fill="none" stroke="#77AC30" stroke-width="1.15" stroke-linejoin="round"/>
<polyline points="56.20,196.20 57.91,196.20 59.63,196.20 61.34,196.20 63.06,196.20 64.77,196.20 66.49,196.20 68.20,196.20 69.92,196.20 71.63,196.20 73.34,196.20 75.06,196.20 76.77,196.20 78.49,196.20 80.20,196.20 81.92,196.20 83.63,196.20 85.35,196.20 87.06,196.20 88.78,196.20 90.49,196.20 92.20,196.20 93.92,196.20 95.63,196.20 97.35,196.20 99.06,196.20 100.78,196.20 102.49,196.20 104.21,196.20 105.92,196.20 107.63,196.20 109.35,196.20 111.06,196.20 112.78,196.20 114.49,196.20 116.21,196.20 117.92,196.20 119.64,196.20 121.35,196.20 123.07,196.20 124.78,196.20 126.49,196.20 128.21,196.20 129.92,196.20 131.64,196.20 133.35,196.20 135.07,196.20 136.78,196.20 138.50,196.20 140.21,196.20 141.92,196.20 143.64,196.20 145.35,196.20 147.07,196.20 148.78,196.20 150.50,196.20 152.21,196.20 153.93,196.20 155.64,196.20 157.36,196.20 159.07,196.20 160.78,196.20 162.50,196.20 164.21,196.20 165.93,196.20 167.64,196.20 169.36,196.20 171.07,196.20 172.79,196.20 174.50,196.20 176.21,196.20 177.93,196.20 179.64,196.20 181.36,196.20 183.07,196.20 184.79,196.20 186.50,196.20 188.22,196.20 189.93,196.20 191.65,196.20 193.36,196.20 195.07,196.19 196.79,196.19 198.50,196.19 200.22,196.18 201.93,196.18 203.65,196.17 205.36,196.17 207.08,196.15 208.79,196.14 210.50,196.12 212.22,196.10 213.93,196.07 215.65,196.04 217.36,195.99 219.08,195.94 220.79,195.87 222.51,195.78 224.22,195.68 225.94,195.56 227.65,195.41 229.36,195.23 231.08,195.02 232.79,194.77 234.51,194.47 236.22,194.13 237.94,193.72 239.65,193.26 241.37,192.72 243.08,192.10 244.79,191.41 246.51,190.62 248.22,189.74 249.94,188.75 251.65,187.66 253.37,186.46 255.08,185.15 256.80,183.72 258.51,182.19 260.23,180.55 261.94,178.80 263.65,176.96 265.37,175.03 267.08,173.04 268.80,170.98 270.51,168.88 272.23,166.76 273.94,164.64 275.66,162.53 277.37,160.48 279.09,158.49 280.80,156.60 282.51,154.82 284.23,153.19 285.94,151.73 287.66,150.45 289.37,149.37 291.09,148.52 292.80,147.90 294.52,147.53 296.23,147.40" fill="none" stroke="#77AC30" stroke-width="1.15" stroke-linejoin="round"/>
<polyline points="56.20,196.20 57.91,196.20 59.63,196.20 61.34,196.20 63.06,196.20 64.77,196.20 66.49,196.20 68.20,196.20 69.92,196.20 71.63,196.20 73.34,196.20 75.06,196.20 76.77,196.20 78.49,196.20 80.20,196.20 81.92,196.20 83.63,196.20 85.35,196.20 87.06,196.20 88.78,196.20 90.49,196.20 92.20,196.20 93.92,196.20 95.63,196.20 97.35,196.20 99.06,196.20 100.78,196.20 102.49,196.20 104.21,196.20 105.92,196.20 107.63,196.20 109.35,196.20 111.06,196.20 112.78,196.20 114.49,196.20 116.21,196.20 117.92,196.20 119.64,196.20 121.35,196.20 123.07,196.20 124.78,196.20 126.49,196.20 128.21,196.20 129.92,196.20 131.64,196.20 133.35,196.20 135.07,196.20 136.78,196.20 138.50,196.20 140.21,196.20 141.92,196.20 143.64,196.20 145.35,196.20 147.07,196.20 148.78,196.20 150.50,196.20 152.21,196.20 153.93,196.20 155.64,196.20 157.36,196.20 159.07,196.20 160.78,196.20 162.50,196.20 164.21,196.20 165.93,196.20 167.64,196.20 169.36,196.20 171.07,196.20 172.79,196.20 174.50,196.20 176.21,196.20 177.93,196.20 179.64,196.20 181.36,196.20 183.07,196.20 184.79,196.20 186.50,196.20 188.22,196.20 189.93,196.20 191.65,196.20 193.36,196.20 195.07,196.20 196.79,196.20 198.50,196.20 200.22,196.20 201.93,196.20 203.65,196.20 205.36,196.20 207.08,196.19 208.79,196.19 210.50,196.19 212.22,196.18 213.93,196.18 215.65,196.17 217.36,196.16 219.08,196.14 220.79,196.13 222.51,196.10 224.22,196.07 225.94,196.02 227.65,195.97 229.36,195.90 231.08,195.81 232.79,195.70 234.51,195.56 236.22,195.39 237.94,195.18 239.65,194.93 241.37,194.62 243.08,194.24 244.79,193.80 246.51,193.28 248.22,192.66 249.94,191.95 251.65,191.12 253.37,190.18 255.08,189.10 256.80,187.89 258.51,186.54 260.23,185.05 261.94,183.41 263.65,181.62 265.37,179.70 267.08,177.65 268.80,175.48 270.51,173.22 272.23,170.88 273.94,168.48 275.66,166.06 277.37,163.65 279.09,161.28 280.80,158.99 282.51,156.81 284.23,154.78 285.94,152.94 287.66,151.32 289.37,149.94 291.09,148.85 292.80,148.05 294.52,147.56 296.23,147.40" fill="none" stroke="#A2142F" stroke-width="1.15" stroke-linejoin="round"/>
<line x1="56.20" y1="196.20" x2="296.23" y2="196.20" stroke="#4DBEEE" stroke-width="1.4"/>
<rect x="250.70" y="23.00" width="16.00" height="50.00" fill="none" stroke="#333" stroke-width="0.8" stroke-dasharray="1.2,1.2"/>
<rect x="250.70" y="145.90" width="16.00" height="51.00" fill="none" stroke="#333" stroke-width="0.8" stroke-dasharray="1.2,1.2"/>
<polyline points="258.40,23.00 258.40,14.00 425.70,14.00 425.70,21.00" fill="none" stroke="#777" stroke-width="0.9" stroke-linejoin="round"/>
<polyline points="258.40,145.90 258.40,137.70 425.80,137.70 425.80,143.60" fill="none" stroke="#888" stroke-width="0.9" stroke-linejoin="round"/>
<polyline points="308.80,80.50 44.20,80.50 44.20,109.80 308.80,109.80" fill="none" stroke="#555555" stroke-width="0.8" stroke-linejoin="round"/>
<line x1="308.80" y1="80.50" x2="308.80" y2="109.80" stroke="#9ED49E" stroke-width="0.8"/>
<line x1="308.50" y1="95.15" x2="306.20" y2="95.15" stroke="#9ED49E" stroke-width="0.6"/>
<line x1="107.00" y1="80.50" x2="107.00" y2="82.50" stroke="#555555" stroke-width="0.6"/>
<line x1="170.50" y1="80.50" x2="170.50" y2="82.50" stroke="#555555" stroke-width="0.6"/>
<line x1="234.00" y1="80.50" x2="234.00" y2="82.50" stroke="#555555" stroke-width="0.6"/>
<line x1="297.50" y1="80.50" x2="297.50" y2="82.50" stroke="#555555" stroke-width="0.6"/>
<line x1="44.20" y1="95.40" x2="46.50" y2="95.40" stroke="#555555" stroke-width="0.6"/>
<polyline points="308.80,205.60 44.20,205.60 44.20,234.00 308.80,234.00" fill="none" stroke="#555555" stroke-width="0.8" stroke-linejoin="round"/>
<line x1="308.80" y1="205.60" x2="308.80" y2="234.00" stroke="#9C9CDC" stroke-width="0.8"/>
<line x1="308.50" y1="219.80" x2="306.20" y2="219.80" stroke="#9C9CDC" stroke-width="0.6"/>
<line x1="107.00" y1="205.60" x2="107.00" y2="207.60" stroke="#555555" stroke-width="0.6"/>
<line x1="170.50" y1="205.60" x2="170.50" y2="207.60" stroke="#555555" stroke-width="0.6"/>
<line x1="234.00" y1="205.60" x2="234.00" y2="207.60" stroke="#555555" stroke-width="0.6"/>
<line x1="297.50" y1="205.60" x2="297.50" y2="207.60" stroke="#555555" stroke-width="0.6"/>
<line x1="44.20" y1="215.30" x2="46.50" y2="215.30" stroke="#555555" stroke-width="0.6"/>
<line x1="44.20" y1="224.80" x2="46.50" y2="224.80" stroke="#555555" stroke-width="0.6"/>
<polyline points="56.20,103.20 68.90,106.20 81.60,103.80 94.30,103.20 107.00,103.20 119.70,102.60 132.40,97.50 145.10,98.30 157.80,102.00 170.50,97.00 183.20,96.50 195.90,100.90 208.60,101.20 221.30,95.50 234.00,96.00 246.70,105.00 259.40,105.90 272.10,105.90 284.80,100.10" fill="none" stroke="#8FD08F" stroke-width="0.9" stroke-linejoin="round"/>
<polyline points="56.20,87.90 68.90,98.30 81.60,100.30 94.30,90.00 107.00,99.40 119.70,99.20 132.40,90.00 145.10,98.00 157.80,94.70 170.50,92.20 183.20,90.30 195.90,100.90 208.60,94.90 221.30,93.30 234.00,94.40 246.70,91.10 259.40,88.30 272.10,108.20 284.80,100.10" fill="none" stroke="#222" stroke-width="1.1" stroke-linejoin="round"/>
<polyline points="56.20,222.30 68.90,226.50 81.60,224.30 94.30,228.00 107.00,216.60 119.70,223.50 132.40,213.10 145.10,222.30 157.80,217.80 170.50,218.40 183.20,223.30 195.90,223.30 208.60,217.80 221.30,220.40 234.00,226.20 246.70,231.50 259.40,228.60 272.10,231.50 284.80,228.60" fill="none" stroke="#6F6FCF" stroke-width="0.9" stroke-linejoin="round"/>
<polyline points="56.20,210.40 68.90,208.60 81.60,209.10 94.30,227.30 107.00,209.10 119.70,214.90 132.40,216.80 145.10,216.80 157.80,213.10 170.50,217.50 183.20,214.90 195.90,212.50 208.60,212.00 221.30,208.10 234.00,218.40 246.70,211.00 259.40,205.80 272.10,216.30 284.80,220.40" fill="none" stroke="#222" stroke-width="1.1" stroke-linejoin="round"/>
<text x="41.80" y="27.40" font-size="8.3" text-anchor="end" font-weight="normal" fill="#000" stroke="#000" stroke-width="0.12">1.0</text>
<text x="41.80" y="51.40" font-size="8.3" text-anchor="end" font-weight="normal" fill="#000" stroke="#000" stroke-width="0.12">0.5</text>
<text x="41.80" y="74.90" font-size="8.3" text-anchor="end" font-weight="normal" fill="#000" stroke="#000" stroke-width="0.12">0</text>
<text x="41.80" y="150.30" font-size="8.3" text-anchor="end" font-weight="normal" fill="#000" stroke="#000" stroke-width="0.12">1.0</text>
<text x="41.80" y="174.70" font-size="8.3" text-anchor="end" font-weight="normal" fill="#000" stroke="#000" stroke-width="0.12">0.5</text>
<text x="41.80" y="199.20" font-size="8.3" text-anchor="end" font-weight="normal" fill="#000" stroke="#000" stroke-width="0.12">0</text>
<text x="41.60" y="85.90" font-size="8.3" text-anchor="end" font-weight="normal" fill="#000" stroke="#000" stroke-width="0.12">0.02</text>
<text x="41.60" y="98.70" font-size="8.3" text-anchor="end" font-weight="normal" fill="#000" stroke="#000" stroke-width="0.12">0</text>
<text x="41.60" y="111.90" font-size="8.3" text-anchor="end" font-weight="normal" fill="#000" stroke="#000" stroke-width="0.12">-0.02</text>
<text x="41.60" y="208.50" font-size="8.3" text-anchor="end" font-weight="normal" fill="#000" stroke="#000" stroke-width="0.12">0.01</text>
<text x="41.60" y="218.20" font-size="8.3" text-anchor="end" font-weight="normal" fill="#000" stroke="#000" stroke-width="0.12">0</text>
<text x="41.60" y="227.70" font-size="8.3" text-anchor="end" font-weight="normal" fill="#000" stroke="#000" stroke-width="0.12">-0.01</text>
<text x="41.60" y="236.70" font-size="8.3" text-anchor="end" font-weight="normal" fill="#000" stroke="#000" stroke-width="0.12">-0.02</text>
<text x="43.50" y="119.80" font-size="8.3" text-anchor="middle" font-weight="normal" fill="#000" stroke="#000" stroke-width="0.12">0</text>
<text x="43.50" y="244.00" font-size="8.3" text-anchor="middle" font-weight="normal" fill="#000" stroke="#000" stroke-width="0.12">0</text>
<text x="68.90" y="119.80" font-size="8.3" text-anchor="middle" font-weight="normal" fill="#000" stroke="#000" stroke-width="0.12">2</text>
<text x="68.90" y="244.00" font-size="8.3" text-anchor="middle" font-weight="normal" fill="#000" stroke="#000" stroke-width="0.12">2</text>
<text x="94.30" y="119.80" font-size="8.3" text-anchor="middle" font-weight="normal" fill="#000" stroke="#000" stroke-width="0.12">4</text>
<text x="94.30" y="244.00" font-size="8.3" text-anchor="middle" font-weight="normal" fill="#000" stroke="#000" stroke-width="0.12">4</text>
<text x="119.70" y="119.80" font-size="8.3" text-anchor="middle" font-weight="normal" fill="#000" stroke="#000" stroke-width="0.12">6</text>
<text x="119.70" y="244.00" font-size="8.3" text-anchor="middle" font-weight="normal" fill="#000" stroke="#000" stroke-width="0.12">6</text>
<text x="145.10" y="119.80" font-size="8.3" text-anchor="middle" font-weight="normal" fill="#000" stroke="#000" stroke-width="0.12">8</text>
<text x="145.10" y="244.00" font-size="8.3" text-anchor="middle" font-weight="normal" fill="#000" stroke="#000" stroke-width="0.12">8</text>
<text x="170.50" y="119.80" font-size="8.3" text-anchor="middle" font-weight="normal" fill="#000" stroke="#000" stroke-width="0.12">10</text>
<text x="170.50" y="244.00" font-size="8.3" text-anchor="middle" font-weight="normal" fill="#000" stroke="#000" stroke-width="0.12">10</text>
<text x="195.90" y="119.80" font-size="8.3" text-anchor="middle" font-weight="normal" fill="#000" stroke="#000" stroke-width="0.12">12</text>
<text x="195.90" y="244.00" font-size="8.3" text-anchor="middle" font-weight="normal" fill="#000" stroke="#000" stroke-width="0.12">12</text>
<text x="221.30" y="119.80" font-size="8.3" text-anchor="middle" font-weight="normal" fill="#000" stroke="#000" stroke-width="0.12">14</text>
<text x="221.30" y="244.00" font-size="8.3" text-anchor="middle" font-weight="normal" fill="#000" stroke="#000" stroke-width="0.12">14</text>
<text x="246.70" y="119.80" font-size="8.3" text-anchor="middle" font-weight="normal" fill="#000" stroke="#000" stroke-width="0.12">16</text>
<text x="246.70" y="244.00" font-size="8.3" text-anchor="middle" font-weight="normal" fill="#000" stroke="#000" stroke-width="0.12">16</text>
<text x="272.10" y="119.80" font-size="8.3" text-anchor="middle" font-weight="normal" fill="#000" stroke="#000" stroke-width="0.12">18</text>
<text x="272.10" y="244.00" font-size="8.3" text-anchor="middle" font-weight="normal" fill="#000" stroke="#000" stroke-width="0.12">18</text>
<text x="297.50" y="119.80" font-size="8.3" text-anchor="middle" font-weight="normal" fill="#000" stroke="#000" stroke-width="0.12">20</text>
<text x="297.50" y="244.00" font-size="8.3" text-anchor="middle" font-weight="normal" fill="#000" stroke="#000" stroke-width="0.12">20</text>
<text x="172.70" y="128.20" font-size="8.3" text-anchor="middle" font-weight="normal" fill="#000" stroke="#000" stroke-width="0.12">track position [bins]</text>
<text x="172.70" y="254.30" font-size="8.3" text-anchor="middle" font-weight="normal" fill="#000" stroke="#000" stroke-width="0.12">track position [bins]</text>
<text x="312.00" y="83.60" font-size="8.3" text-anchor="start" font-weight="normal" fill="#86CC86" stroke="#86CC86" stroke-width="0.12">0.1</text>
<text x="312.00" y="98.30" font-size="8.3" text-anchor="start" font-weight="normal" fill="#86CC86" stroke="#86CC86" stroke-width="0.12">0.05</text>
<text x="312.00" y="113.30" font-size="8.3" text-anchor="start" font-weight="normal" fill="#86CC86" stroke="#86CC86" stroke-width="0.12">0</text>
<text x="311.50" y="218.30" font-size="8.3" text-anchor="start" font-weight="normal" fill="#6767C4" stroke="#6767C4" stroke-width="0.12">0.04</text>
<text x="311.50" y="227.70" font-size="8.3" text-anchor="start" font-weight="normal" fill="#6767C4" stroke="#6767C4" stroke-width="0.12">0.02</text>
<text x="311.50" y="236.90" font-size="8.3" text-anchor="start" font-weight="normal" fill="#6767C4" stroke="#6767C4" stroke-width="0.12">0</text>
<text x="337.90" y="92.80" font-size="8.3" text-anchor="middle" font-weight="normal" fill="#000" stroke="#000" stroke-width="0.12" transform="rotate(-90 337.90 92.80)">NSV</text>
<text x="336.90" y="219.00" font-size="8.3" text-anchor="middle" font-weight="normal" fill="#000" stroke="#000" stroke-width="0.12" transform="rotate(-90 336.90 219.00)">NSV</text>
<text x="23.80" y="47.50" font-size="8.5" text-anchor="middle" font-weight="normal" fill="#000" stroke="#000" stroke-width="0.12" transform="rotate(-90 23.80 47.50)">norm.(PF-ampl.)</text>
<text x="23.80" y="170.40" font-size="8.5" text-anchor="middle" font-weight="normal" fill="#000" stroke="#000" stroke-width="0.12" transform="rotate(-90 23.80 170.40)">norm.(PF-ampl.)</text>
<text x="23.90" y="94.80" font-size="10.5" text-anchor="middle" font-weight="normal" fill="#000" stroke="#000" stroke-width="0.12" transform="rotate(-90 23.90 94.80)">Δμ</text>
<text x="20.50" y="216.50" font-size="10.5" text-anchor="middle" font-weight="normal" fill="#000" stroke="#000" stroke-width="0.12" transform="rotate(-90 20.50 216.50)">Δμ</text>
<text x="47.70" y="19.90" font-size="8.28" text-anchor="start" font-weight="bold" fill="#3DB54A" stroke="#3DB54A" stroke-width="0.12">20 PF with narrow width distribution</text>
<text x="48.70" y="142.20" font-size="8.3" text-anchor="start" font-weight="bold" fill="#1B1B8F" stroke="#1B1B8F" stroke-width="0.12">20 PF with broad width distribution</text>
<text x="3.50" y="19.20" font-size="16.5" text-anchor="start" font-weight="bold" fill="#000" stroke="#000" stroke-width="0.12">a</text>
<text x="3.50" y="142.50" font-size="16.5" text-anchor="start" font-weight="bold" fill="#000" stroke="#000" stroke-width="0.12">b</text>
<rect x="389.65" y="99.50" width="3.36" height="2.00" fill="#5CC05C" stroke="#2E3A2E" stroke-width="0.75"/>
<rect x="393.71" y="84.20" width="3.36" height="17.30" fill="#5CC05C" stroke="#2E3A2E" stroke-width="0.75"/>
<rect x="397.77" y="72.50" width="3.36" height="29.00" fill="#5CC05C" stroke="#2E3A2E" stroke-width="0.75"/>
<rect x="401.83" y="74.80" width="3.36" height="26.70" fill="#5CC05C" stroke="#2E3A2E" stroke-width="0.75"/>
<rect x="405.89" y="80.00" width="3.36" height="21.50" fill="#5CC05C" stroke="#2E3A2E" stroke-width="0.75"/>
<rect x="409.95" y="85.10" width="3.36" height="16.40" fill="#5CC05C" stroke="#2E3A2E" stroke-width="0.75"/>
<rect x="414.01" y="89.40" width="3.36" height="12.10" fill="#5CC05C" stroke="#2E3A2E" stroke-width="0.75"/>
<rect x="418.07" y="93.20" width="3.36" height="8.30" fill="#5CC05C" stroke="#2E3A2E" stroke-width="0.75"/>
<rect x="422.13" y="95.30" width="3.36" height="6.20" fill="#5CC05C" stroke="#2E3A2E" stroke-width="0.75"/>
<rect x="426.19" y="97.20" width="3.36" height="4.30" fill="#5CC05C" stroke="#2E3A2E" stroke-width="0.75"/>
<rect x="430.25" y="98.90" width="3.36" height="2.60" fill="#5CC05C" stroke="#2E3A2E" stroke-width="0.75"/>
<rect x="434.31" y="99.80" width="3.36" height="1.70" fill="#5CC05C" stroke="#2E3A2E" stroke-width="0.75"/>
<rect x="438.37" y="100.20" width="3.36" height="1.30" fill="#5CC05C" stroke="#2E3A2E" stroke-width="0.75"/>
<rect x="442.43" y="100.50" width="3.36" height="1.00" fill="#5CC05C" stroke="#2E3A2E" stroke-width="0.75"/>
<rect x="446.49" y="101.00" width="3.36" height="0.50" fill="#5CC05C" stroke="#2E3A2E" stroke-width="0.75"/>
<rect x="450.55" y="101.10" width="3.36" height="0.40" fill="#5CC05C" stroke="#2E3A2E" stroke-width="0.75"/>
<rect x="454.61" y="101.20" width="3.36" height="0.30" fill="#5CC05C" stroke="#2E3A2E" stroke-width="0.75"/>
<rect x="458.67" y="101.20" width="3.36" height="0.30" fill="#5CC05C" stroke="#2E3A2E" stroke-width="0.75"/>
<rect x="462.73" y="101.00" width="3.36" height="0.50" fill="#5CC05C" stroke="#2E3A2E" stroke-width="0.75"/>
<line x1="381.50" y1="24.00" x2="381.50" y2="101.50" stroke="#555555" stroke-width="0.8"/>
<line x1="381.50" y1="101.50" x2="464.70" y2="101.50" stroke="#555555" stroke-width="0.8"/>
<line x1="381.50" y1="63.50" x2="383.80" y2="63.50" stroke="#555555" stroke-width="0.6"/>
<line x1="381.50" y1="25.60" x2="383.80" y2="25.60" stroke="#555555" stroke-width="0.6"/>
<text x="380.30" y="29.00" font-size="8.3" text-anchor="end" font-weight="normal" fill="#000" stroke="#000" stroke-width="0.12">0.5</text>
<text x="380.30" y="66.70" font-size="8.3" text-anchor="end" font-weight="normal" fill="#000" stroke="#000" stroke-width="0.12">0.25</text>
<text x="380.30" y="105.20" font-size="8.3" text-anchor="end" font-weight="normal" fill="#000" stroke="#000" stroke-width="0.12">0</text>
<text x="382.80" y="111.50" font-size="8.3" text-anchor="middle" font-weight="normal" fill="#000" stroke="#000" stroke-width="0.12">0</text>
<text x="423.00" y="111.80" font-size="8.3" text-anchor="middle" fill="#000" stroke="#000" stroke-width="0.12">0.5·10<tspan font-size="4.81" dy="-3.74">-3</tspan></text>
<text x="463.00" y="111.80" font-size="8.3" text-anchor="middle" fill="#000" stroke="#000" stroke-width="0.12">1·10<tspan font-size="4.81" dy="-3.74">-3</tspan></text>
<text x="425.80" y="122.60" font-size="8.3" text-anchor="middle" font-weight="normal" fill="#000" stroke="#000" stroke-width="0.12">NSV</text>
<text x="361.40" y="64.70" font-size="8.17" text-anchor="middle" font-weight="normal" fill="#000" stroke="#000" stroke-width="0.12" transform="rotate(-90 361.40 64.70)">probability density</text>
<text x="342.50" y="27.80" font-size="16.5" text-anchor="start" font-weight="bold" fill="#000" stroke="#000" stroke-width="0.12">c</text>
<rect x="384.60" y="158.10" width="4.10" height="74.10" fill="#25258C" stroke="#111" stroke-width="0.5"/>
<rect x="388.70" y="167.30" width="4.10" height="64.90" fill="#25258C" stroke="#111" stroke-width="0.5"/>
<rect x="392.80" y="221.70" width="4.10" height="10.50" fill="#25258C" stroke="#111" stroke-width="0.5"/>
<rect x="396.90" y="230.80" width="4.10" height="1.40" fill="#25258C" stroke="#111" stroke-width="0.5"/>
<line x1="381.70" y1="156.50" x2="381.70" y2="232.20" stroke="#555555" stroke-width="0.8"/>
<line x1="381.70" y1="232.20" x2="464.80" y2="232.20" stroke="#555555" stroke-width="0.8"/>
<text x="380.30" y="160.80" font-size="8.3" text-anchor="end" font-weight="normal" fill="#000" stroke="#000" stroke-width="0.12">0.5</text>
<text x="380.30" y="198.30" font-size="8.3" text-anchor="end" font-weight="normal" fill="#000" stroke="#000" stroke-width="0.12">0.25</text>
<text x="380.30" y="235.10" font-size="8.3" text-anchor="end" font-weight="normal" fill="#000" stroke="#000" stroke-width="0.12">0</text>
<text x="382.40" y="241.80" font-size="8.3" text-anchor="middle" font-weight="normal" fill="#000" stroke="#000" stroke-width="0.12">0</text>
<text x="424.50" y="242.20" font-size="8.3" text-anchor="middle" fill="#000" stroke="#000" stroke-width="0.12">0.5·10<tspan font-size="4.81" dy="-3.74">-3</tspan></text>
<text x="465.50" y="242.20" font-size="8.3" text-anchor="middle" fill="#000" stroke="#000" stroke-width="0.12">1·10<tspan font-size="4.81" dy="-3.74">-3</tspan></text>
<text x="425.80" y="251.60" font-size="8.3" text-anchor="middle" font-weight="normal" fill="#000" stroke="#000" stroke-width="0.12">NSV</text>
<text x="361.90" y="192.40" font-size="8.17" text-anchor="middle" font-weight="normal" fill="#000" stroke="#000" stroke-width="0.12" transform="rotate(-90 361.90 192.40)">probability density</text>
<text x="342.00" y="154.00" font-size="16.5" text-anchor="start" font-weight="bold" fill="#000" stroke="#000" stroke-width="0.12">d</text>
<svg x="418" y="21" width="16" height="50.2" overflow="hidden">
<polyline points="0.00,35.14 14.40,0.00" fill="none" stroke="#D95319" stroke-width="1.0" stroke-linejoin="round"/>
<polyline points="1.92,39.16 16.00,3.01" fill="none" stroke="#D95319" stroke-width="1.0" stroke-linejoin="round"/>
<polyline points="0.00,30.12 12.00,0.00" fill="none" stroke="#D95319" stroke-width="1.0" stroke-linejoin="round"/>
<polyline points="0.00,41.16 16.00,8.03" fill="none" stroke="#D95319" stroke-width="1.0" stroke-linejoin="round"/>
<polyline points="0.00,14.06 2.40,7.53 4.80,3.01 9.60,0.00 12.80,1.51 16.00,6.02" fill="none" stroke="#0072BD" stroke-width="1.0" stroke-linejoin="round"/>
<polyline points="0.00,26.61 8.00,39.16 16.00,45.18" fill="none" stroke="#0072BD" stroke-width="1.0" stroke-linejoin="round"/>
<polyline points="0.00,47.69 8.00,37.65 16.00,15.06" fill="none" stroke="#EDB120" stroke-width="1.0" stroke-linejoin="round"/>
<polyline points="11.20,50.20 14.40,35.14 16.00,22.59" fill="none" stroke="#A2142F" stroke-width="1.0" stroke-linejoin="round"/>
<polyline points="0.00,49.70 16.00,49.70" fill="none" stroke="#4DBEEE" stroke-width="1.0" stroke-linejoin="round"/>
</svg>
<rect x="418.00" y="21.00" width="16.00" height="50.20" fill="none" stroke="#222" stroke-width="1.0" stroke-dasharray="1.4,1.3"/>
<svg x="418.2" y="144.2" width="15.5" height="49.4" overflow="hidden">
<polyline points="0.00,0.99 7.75,2.47 15.50,8.40" fill="none" stroke="#7E2F8E" stroke-width="1.0" stroke-linejoin="round"/>
<polyline points="0.78,2.47 7.75,9.88 15.50,23.22" fill="none" stroke="#4DBEEE" stroke-width="1.0" stroke-linejoin="round"/>
<polyline points="0.00,28.65 15.50,4.94" fill="none" stroke="#0072BD" stroke-width="1.0" stroke-linejoin="round"/>
<polyline points="0.00,35.57 15.50,5.93" fill="none" stroke="#4DBEEE" stroke-width="1.0" stroke-linejoin="round"/>
<polyline points="1.55,41.99 15.50,7.41" fill="none" stroke="#0072BD" stroke-width="1.0" stroke-linejoin="round"/>
<polyline points="0.00,43.47 15.50,9.88" fill="none" stroke="#0072BD" stroke-width="1.0" stroke-linejoin="round"/>
<polyline points="0.00,38.53 15.50,24.70" fill="none" stroke="#77AC30" stroke-width="1.0" stroke-linejoin="round"/>
<polyline points="0.00,41.50 15.50,29.64" fill="none" stroke="#77AC30" stroke-width="1.0" stroke-linejoin="round"/>
<polyline points="0.00,46.93 7.75,43.47 15.50,36.06" fill="none" stroke="#A2142F" stroke-width="1.0" stroke-linejoin="round"/>
<polyline points="0.00,44.46 7.75,47.92 15.50,49.40" fill="none" stroke="#EDB120" stroke-width="1.0" stroke-linejoin="round"/>
<polyline points="0.00,49.15 15.50,49.15" fill="none" stroke="#77AC30" stroke-width="1.0" stroke-linejoin="round"/>
</svg>
<rect x="418.20" y="144.20" width="15.50" height="49.40" fill="none" stroke="#222" stroke-width="1.0" stroke-dasharray="1.4,1.3"/>
<text x="452.80" y="11.50" font-size="9.66" text-anchor="middle" font-weight="bold" fill="#6E6E6E" stroke="#6E6E6E" stroke-width="0.12">synthetic</text>
<text x="452.80" y="21.00" font-size="9.66" text-anchor="middle" font-weight="bold" fill="#6E6E6E" stroke="#6E6E6E" stroke-width="0.12">data</text>
<rect x="511.40" y="37.40" width="3.62" height="33.80" fill="#7ACB7A" stroke="#777" stroke-width="0.5"/>
<rect x="515.02" y="20.40" width="3.62" height="50.80" fill="#7ACB7A" stroke="#777" stroke-width="0.5"/>
<rect x="518.64" y="48.10" width="3.62" height="23.10" fill="#7ACB7A" stroke="#777" stroke-width="0.5"/>
<rect x="522.26" y="56.00" width="3.62" height="15.20" fill="#7ACB7A" stroke="#777" stroke-width="0.5"/>
<rect x="525.88" y="62.20" width="3.62" height="9.00" fill="#7ACB7A" stroke="#777" stroke-width="0.5"/>
<rect x="529.50" y="64.70" width="3.62" height="6.50" fill="#7ACB7A" stroke="#777" stroke-width="0.5"/>
<rect x="533.12" y="67.30" width="3.62" height="3.90" fill="#7ACB7A" stroke="#777" stroke-width="0.5"/>
<rect x="536.74" y="68.00" width="3.62" height="3.20" fill="#7ACB7A" stroke="#777" stroke-width="0.5"/>
<rect x="540.36" y="69.90" width="3.62" height="1.30" fill="#7ACB7A" stroke="#777" stroke-width="0.5"/>
<rect x="543.98" y="69.60" width="3.62" height="1.60" fill="#7ACB7A" stroke="#777" stroke-width="0.5"/>
<rect x="547.60" y="69.90" width="3.62" height="1.30" fill="#7ACB7A" stroke="#777" stroke-width="0.5"/>
<rect x="551.22" y="70.10" width="3.62" height="1.10" fill="#7ACB7A" stroke="#777" stroke-width="0.5"/>
<rect x="554.84" y="70.10" width="3.62" height="1.10" fill="#7ACB7A" stroke="#777" stroke-width="0.5"/>
<rect x="558.46" y="70.20" width="3.62" height="1.00" fill="#7ACB7A" stroke="#777" stroke-width="0.5"/>
<rect x="562.08" y="70.30" width="3.62" height="0.90" fill="#7ACB7A" stroke="#777" stroke-width="0.5"/>
<rect x="565.70" y="70.50" width="3.62" height="0.70" fill="#7ACB7A" stroke="#777" stroke-width="0.5"/>
<rect x="569.32" y="70.60" width="3.62" height="0.60" fill="#7ACB7A" stroke="#777" stroke-width="0.5"/>
<rect x="572.94" y="70.80" width="3.62" height="0.40" fill="#7ACB7A" stroke="#777" stroke-width="0.5"/>
<rect x="576.56" y="70.80" width="3.62" height="0.40" fill="#7ACB7A" stroke="#777" stroke-width="0.5"/>
<rect x="580.18" y="70.40" width="3.62" height="0.80" fill="#7ACB7A" stroke="#777" stroke-width="0.5"/>
<rect x="606.40" y="51.20" width="3.60" height="20.00" fill="#5B5BAF" stroke="#777" stroke-width="0.5"/>
<rect x="610.00" y="34.90" width="3.60" height="36.30" fill="#5B5BAF" stroke="#777" stroke-width="0.5"/>
<rect x="613.60" y="50.30" width="3.60" height="20.90" fill="#5B5BAF" stroke="#777" stroke-width="0.5"/>
<rect x="617.20" y="55.10" width="3.60" height="16.10" fill="#5B5BAF" stroke="#777" stroke-width="0.5"/>
<rect x="620.80" y="60.30" width="3.60" height="10.90" fill="#5B5BAF" stroke="#777" stroke-width="0.5"/>
<rect x="624.40" y="63.10" width="3.60" height="8.10" fill="#5B5BAF" stroke="#777" stroke-width="0.5"/>
<rect x="628.00" y="66.00" width="3.60" height="5.20" fill="#5B5BAF" stroke="#777" stroke-width="0.5"/>
<rect x="631.60" y="67.30" width="3.60" height="3.90" fill="#5B5BAF" stroke="#777" stroke-width="0.5"/>
<rect x="635.20" y="68.20" width="3.60" height="3.00" fill="#5B5BAF" stroke="#777" stroke-width="0.5"/>
<rect x="638.80" y="67.30" width="3.60" height="3.90" fill="#5B5BAF" stroke="#777" stroke-width="0.5"/>
<rect x="642.40" y="69.10" width="3.60" height="2.10" fill="#5B5BAF" stroke="#777" stroke-width="0.5"/>
<rect x="646.00" y="69.10" width="3.60" height="2.10" fill="#5B5BAF" stroke="#777" stroke-width="0.5"/>
<rect x="649.60" y="69.10" width="3.60" height="2.10" fill="#5B5BAF" stroke="#777" stroke-width="0.5"/>
<rect x="653.20" y="69.50" width="3.60" height="1.70" fill="#5B5BAF" stroke="#777" stroke-width="0.5"/>
<rect x="656.80" y="69.90" width="3.60" height="1.30" fill="#5B5BAF" stroke="#777" stroke-width="0.5"/>
<rect x="660.40" y="69.10" width="3.60" height="2.10" fill="#5B5BAF" stroke="#777" stroke-width="0.5"/>
<rect x="664.00" y="70.10" width="3.60" height="1.10" fill="#5B5BAF" stroke="#777" stroke-width="0.5"/>
<rect x="667.60" y="69.90" width="3.60" height="1.30" fill="#5B5BAF" stroke="#777" stroke-width="0.5"/>
<rect x="671.20" y="70.40" width="3.60" height="0.80" fill="#5B5BAF" stroke="#777" stroke-width="0.5"/>
<rect x="676.80" y="67.30" width="1.00" height="3.90" fill="#8A8AC8" stroke="none" stroke-width="0.6"/>
<line x1="509.20" y1="18.00" x2="509.20" y2="71.20" stroke="#555555" stroke-width="0.8"/>
<line x1="509.20" y1="71.20" x2="582.70" y2="71.20" stroke="#555555" stroke-width="0.8"/>
<text x="506.00" y="24.10" font-size="8.3" text-anchor="end" font-weight="normal" fill="#000" stroke="#000" stroke-width="0.12">0.3</text>
<text x="506.00" y="40.80" font-size="8.3" text-anchor="end" font-weight="normal" fill="#000" stroke="#000" stroke-width="0.12">0.2</text>
<text x="506.00" y="57.30" font-size="8.3" text-anchor="end" font-weight="normal" fill="#000" stroke="#000" stroke-width="0.12">0.1</text>
<text x="506.00" y="74.10" font-size="8.3" text-anchor="end" font-weight="normal" fill="#000" stroke="#000" stroke-width="0.12">0</text>
<line x1="603.80" y1="18.00" x2="603.80" y2="71.20" stroke="#555555" stroke-width="0.8"/>
<line x1="603.80" y1="71.20" x2="677.30" y2="71.20" stroke="#555555" stroke-width="0.8"/>
<text x="601.20" y="24.10" font-size="8.3" text-anchor="end" font-weight="normal" fill="#000" stroke="#000" stroke-width="0.12">0.3</text>
<text x="601.20" y="40.80" font-size="8.3" text-anchor="end" font-weight="normal" fill="#000" stroke="#000" stroke-width="0.12">0.2</text>
<text x="601.20" y="57.30" font-size="8.3" text-anchor="end" font-weight="normal" fill="#000" stroke="#000" stroke-width="0.12">0.1</text>
<text x="601.20" y="74.10" font-size="8.3" text-anchor="end" font-weight="normal" fill="#000" stroke="#000" stroke-width="0.12">0</text>
<text x="508.50" y="80.80" font-size="8.3" text-anchor="middle" font-weight="normal" fill="#000" stroke="#000" stroke-width="0.12">0</text>
<text x="546.30" y="80.80" font-size="8.3" text-anchor="middle" font-weight="normal" fill="#000" stroke="#000" stroke-width="0.12">60</text>
<text x="582.00" y="80.80" font-size="8.3" text-anchor="middle" font-weight="normal" fill="#000" stroke="#000" stroke-width="0.12">120</text>
<text x="603.50" y="80.80" font-size="8.3" text-anchor="middle" font-weight="normal" fill="#000" stroke="#000" stroke-width="0.12">0</text>
<text x="641.20" y="80.80" font-size="8.3" text-anchor="middle" font-weight="normal" fill="#000" stroke="#000" stroke-width="0.12">60</text>
<text x="677.10" y="80.80" font-size="8.3" text-anchor="middle" font-weight="normal" fill="#000" stroke="#000" stroke-width="0.12">120</text>
<text x="544.70" y="91.50" font-size="8.3" text-anchor="middle" font-weight="normal" fill="#000" stroke="#000" stroke-width="0.12">PF widths [cm]</text>
<text x="640.00" y="91.50" font-size="8.3" text-anchor="middle" font-weight="normal" fill="#000" stroke="#000" stroke-width="0.12">PF widths [cm]</text>
<text x="490.90" y="46.00" font-size="8.3" text-anchor="middle" font-weight="normal" fill="#000" stroke="#000" stroke-width="0.12" transform="rotate(-90 490.90 46.00)">prob. density</text>
<text x="533.50" y="31.70" font-size="8.07" text-anchor="start" font-weight="bold" fill="#3DB54A" stroke="#3DB54A" stroke-width="0.12">Mouse2026</text>
<text x="631.80" y="32.30" font-size="8.07" text-anchor="start" font-weight="bold" fill="#1B1B8F" stroke="#1B1B8F" stroke-width="0.12">Mouse2021</text>
<text x="482.00" y="19.20" font-size="16.5" text-anchor="start" font-weight="bold" fill="#000" stroke="#000" stroke-width="0.12">e</text>
<rect x="541.20" y="109.50" width="126.20" height="125.50" fill="none" stroke="#555555" stroke-width="0.8"/>
<line x1="557.25" y1="109.50" x2="557.25" y2="111.80" stroke="#555555" stroke-width="0.6"/>
<line x1="557.25" y1="235.00" x2="557.25" y2="232.70" stroke="#555555" stroke-width="0.6"/>
<line x1="578.90" y1="109.50" x2="578.90" y2="111.80" stroke="#555555" stroke-width="0.6"/>
<line x1="578.90" y1="235.00" x2="578.90" y2="232.70" stroke="#555555" stroke-width="0.6"/>
<line x1="600.55" y1="109.50" x2="600.55" y2="111.80" stroke="#555555" stroke-width="0.6"/>
<line x1="600.55" y1="235.00" x2="600.55" y2="232.70" stroke="#555555" stroke-width="0.6"/>
<line x1="622.20" y1="109.50" x2="622.20" y2="111.80" stroke="#555555" stroke-width="0.6"/>
<line x1="622.20" y1="235.00" x2="622.20" y2="232.70" stroke="#555555" stroke-width="0.6"/>
<line x1="643.85" y1="109.50" x2="643.85" y2="111.80" stroke="#555555" stroke-width="0.6"/>
<line x1="643.85" y1="235.00" x2="643.85" y2="232.70" stroke="#555555" stroke-width="0.6"/>
<line x1="665.50" y1="109.50" x2="665.50" y2="111.80" stroke="#555555" stroke-width="0.6"/>
<line x1="665.50" y1="235.00" x2="665.50" y2="232.70" stroke="#555555" stroke-width="0.6"/>
<line x1="541.20" y1="229.80" x2="543.50" y2="229.80" stroke="#555555" stroke-width="0.6"/>
<line x1="667.40" y1="229.80" x2="665.10" y2="229.80" stroke="#555555" stroke-width="0.6"/>
<line x1="541.20" y1="209.44" x2="543.50" y2="209.44" stroke="#555555" stroke-width="0.6"/>
<line x1="667.40" y1="209.44" x2="665.10" y2="209.44" stroke="#555555" stroke-width="0.6"/>
<line x1="541.20" y1="189.08" x2="543.50" y2="189.08" stroke="#555555" stroke-width="0.6"/>
<line x1="667.40" y1="189.08" x2="665.10" y2="189.08" stroke="#555555" stroke-width="0.6"/>
<line x1="541.20" y1="168.72" x2="543.50" y2="168.72" stroke="#555555" stroke-width="0.6"/>
<line x1="667.40" y1="168.72" x2="665.10" y2="168.72" stroke="#555555" stroke-width="0.6"/>
<line x1="541.20" y1="148.36" x2="543.50" y2="148.36" stroke="#555555" stroke-width="0.6"/>
<line x1="667.40" y1="148.36" x2="665.10" y2="148.36" stroke="#555555" stroke-width="0.6"/>
<line x1="541.20" y1="128.00" x2="543.50" y2="128.00" stroke="#555555" stroke-width="0.6"/>
<line x1="667.40" y1="128.00" x2="665.10" y2="128.00" stroke="#555555" stroke-width="0.6"/>
<text x="538.00" y="232.70" font-size="8.3" text-anchor="end" fill="#000" stroke="#000" stroke-width="0.12">5.0·10<tspan font-size="4.81" dy="-3.74">-5</tspan></text>
<text x="538.00" y="212.34" font-size="8.3" text-anchor="end" fill="#000" stroke="#000" stroke-width="0.12">1.0·10<tspan font-size="4.81" dy="-3.74">-4</tspan></text>
<text x="538.00" y="191.98" font-size="8.3" text-anchor="end" fill="#000" stroke="#000" stroke-width="0.12">1.5·10<tspan font-size="4.81" dy="-3.74">-4</tspan></text>
<text x="538.00" y="171.62" font-size="8.3" text-anchor="end" fill="#000" stroke="#000" stroke-width="0.12">2.0·10<tspan font-size="4.81" dy="-3.74">-4</tspan></text>
<text x="538.00" y="151.26" font-size="8.3" text-anchor="end" fill="#000" stroke="#000" stroke-width="0.12">2.5·10<tspan font-size="4.81" dy="-3.74">-4</tspan></text>
<text x="538.00" y="130.90" font-size="8.3" text-anchor="end" fill="#000" stroke="#000" stroke-width="0.12">3.0·10<tspan font-size="4.81" dy="-3.74">-4</tspan></text>
<text x="579.00" y="246.00" font-size="8.3" text-anchor="middle" font-weight="normal" fill="#000" stroke="#000" stroke-width="0.12">600</text>
<text x="622.80" y="246.00" font-size="8.3" text-anchor="middle" font-weight="normal" fill="#000" stroke="#000" stroke-width="0.12">800</text>
<text x="666.20" y="246.00" font-size="8.3" text-anchor="middle" font-weight="normal" fill="#000" stroke="#000" stroke-width="0.12">1000</text>
<text x="600.8" y="255.3" font-size="8.2" text-anchor="middle" stroke="#000" stroke-width="0.22">width variance [cm<tspan font-size="5" dy="-3">2</tspan><tspan dy="3">]</tspan></text>
<text transform="translate(500.8 173) rotate(-90)" font-size="8.3" text-anchor="middle" stroke="#000" stroke-width="0.12">NSV (<tspan font-size="11" font-weight="bold">σ</tspan><tspan font-size="5" dy="-4">2</tspan><tspan font-size="7" dy="4">[(</tspan><tspan font-size="5.5">Δμ</tspan><tspan font-size="7">)</tspan><tspan font-size="4.2" dy="-2.5">2</tspan><tspan font-size="7" dy="2.5">])</tspan></text>
<text x="677.70" y="127.90" font-size="6.6" text-anchor="middle" font-weight="normal" fill="#3DB54A" stroke="#3DB54A" stroke-width="0.12" transform="rotate(-90 677.70 127.90)">high NSV</text>
<text x="679.20" y="216.50" font-size="6.6" text-anchor="middle" font-weight="normal" fill="#1B1B8F" stroke="#1B1B8F" stroke-width="0.12" transform="rotate(-90 679.20 216.50)">low NSV</text>
<line x1="541.20" y1="133.80" x2="666.50" y2="225.50" stroke="#555" stroke-width="1.1" stroke-dasharray="3.5,2.5"/>
<text x="625" y="154.6" font-size="9" font-weight="bold" stroke="#000" stroke-width="0.15"><tspan font-style="italic" font-weight="normal">r</tspan><tspan font-size="6" dy="-3.5" font-weight="normal"> 2</tspan><tspan dy="3.5"> = 0.36</tspan></text>
<line x1="579.80" y1="119.40" x2="579.80" y2="119.40" stroke="#2A2A2A" stroke-width="0.85"/>
<line x1="579.80" y1="110.50" x2="579.80" y2="142.50" stroke="#2A2A2A" stroke-width="0.85"/>
<line x1="570.30" y1="136.10" x2="615.50" y2="136.10" stroke="#2A2A2A" stroke-width="0.85"/>
<line x1="592.50" y1="114.20" x2="592.50" y2="158.30" stroke="#2A2A2A" stroke-width="0.85"/>
<line x1="548.00" y1="146.80" x2="554.00" y2="146.80" stroke="#2A2A2A" stroke-width="0.85"/>
<line x1="551.00" y1="131.50" x2="551.00" y2="162.70" stroke="#2A2A2A" stroke-width="0.85"/>
<line x1="582.00" y1="157.50" x2="587.00" y2="157.50" stroke="#2A2A2A" stroke-width="0.85"/>
<line x1="584.70" y1="142.50" x2="584.70" y2="172.70" stroke="#2A2A2A" stroke-width="0.85"/>
<line x1="607.70" y1="167.80" x2="615.50" y2="167.80" stroke="#2A2A2A" stroke-width="0.85"/>
<line x1="611.50" y1="156.30" x2="611.50" y2="179.40" stroke="#2A2A2A" stroke-width="0.85"/>
<line x1="563.00" y1="189.20" x2="597.00" y2="189.20" stroke="#2A2A2A" stroke-width="0.85"/>
<line x1="580.40" y1="180.50" x2="580.40" y2="197.80" stroke="#2A2A2A" stroke-width="0.85"/>
<line x1="549.20" y1="192.90" x2="622.20" y2="192.90" stroke="#2A2A2A" stroke-width="0.85"/>
<line x1="585.30" y1="182.30" x2="585.30" y2="204.50" stroke="#2A2A2A" stroke-width="0.85"/>
<line x1="568.20" y1="197.20" x2="600.50" y2="197.20" stroke="#2A2A2A" stroke-width="0.85"/>
<line x1="584.10" y1="190.00" x2="584.10" y2="203.00" stroke="#2A2A2A" stroke-width="0.85"/>
<line x1="614.40" y1="212.20" x2="658.80" y2="212.20" stroke="#2A2A2A" stroke-width="0.85"/>
<line x1="636.60" y1="204.50" x2="636.60" y2="219.70" stroke="#2A2A2A" stroke-width="0.85"/>
<line x1="630.00" y1="224.60" x2="666.50" y2="224.60" stroke="#BBBBBB" stroke-width="0.85"/>
<line x1="656.70" y1="221.70" x2="656.70" y2="229.00" stroke="#2A2A2A" stroke-width="0.85"/>
<circle cx="579.80" cy="119.40" r="2.0" fill="#F08030"/>
<circle cx="592.50" cy="136.10" r="2.0" fill="#3CB043"/>
<circle cx="551.00" cy="146.80" r="2.0" fill="#C8E650"/>
<circle cx="584.70" cy="157.50" r="2.0" fill="#7F7F00"/>
<circle cx="611.50" cy="167.80" r="2.0" fill="#40E0F0"/>
<circle cx="580.40" cy="189.20" r="2.0" fill="#F0D000"/>
<circle cx="585.30" cy="192.90" r="2.0" fill="#FF20FF"/>
<circle cx="584.10" cy="197.20" r="2.0" fill="#008080"/>
<circle cx="636.60" cy="212.20" r="2.0" fill="#DC1450"/>
<circle cx="656.70" cy="224.60" r="2.0" fill="#000080"/>
<text x="490.00" y="120.90" font-size="16.5" text-anchor="start" font-weight="bold" fill="#000" stroke="#000" stroke-width="0.12">f</text>
<text x="7.50" y="281.50" font-size="16.5" text-anchor="start" font-weight="bold" fill="#000" stroke="#000" stroke-width="0.12">g</text>
<line x1="47.90" y1="287.00" x2="47.90" y2="360.80" stroke="#555555" stroke-width="0.8"/>
<polygon points="52.50,327.10 59.20,325.20 63.10,322.30 66.90,330.00 71.70,331.90 75.60,314.60 80.40,287.70 85.20,309.80 89.00,315.60 92.90,311.70 97.70,296.30 101.50,302.10 109.20,301.20 113.10,294.40 125.60,341.50 125.60,342.50 113.10,329.00 102.50,335.80 97.70,331.00 90.00,335.80 84.20,334.80 76.50,336.70 71.70,341.50 64.00,343.50 57.30,337.70 52.50,337.70" fill="#CFCFCF"/>
<line x1="47.90" y1="360.80" x2="130.80" y2="360.80" stroke="#555555" stroke-width="0.8"/>
<line x1="89.30" y1="360.80" x2="89.30" y2="358.80" stroke="#555555" stroke-width="0.6"/>
<polygon points="139.20,320.40 143.10,313.70 146.90,321.30 155.60,287.70 161.30,287.70 164.20,316.50 171.90,319.40 181.50,322.30 185.40,321.30 192.10,314.60 194.00,333.80 210.40,324.20 214.20,326.20 214.20,338.70 204.60,346.30 196.90,347.30 193.10,343.50 181.50,344.40 175.80,337.70 164.20,339.60 160.40,328.10 150.80,332.90 146.90,335.80 139.20,337.70" fill="#CFCFCF"/>
<line x1="134.90" y1="360.80" x2="217.20" y2="360.80" stroke="#555555" stroke-width="0.8"/>
<line x1="176.90" y1="360.80" x2="176.90" y2="358.80" stroke="#555555" stroke-width="0.6"/>
<line x1="47.90" y1="326.70" x2="220.00" y2="326.70" stroke="#BBBBBB" stroke-width="1.5" stroke-dasharray="4,3"/>
<polyline points="52.50,332.90 56.30,333.50 61.20,331.90 71.70,336.70 76.50,318.50 80.40,310.40 85.20,321.30 89.00,325.80 92.90,323.80 97.10,312.70 101.50,319.00 105.40,319.40 114.00,312.70 120.80,324.20 126.20,337.30" fill="none" stroke="#111" stroke-width="1.0" stroke-linejoin="round"/>
<polyline points="139.20,330.40 143.50,320.80 147.50,330.40 151.70,320.40 155.60,305.00 159.80,301.50 164.20,329.00 168.10,329.60 171.90,326.20 176.70,333.80 181.20,338.30 185.40,332.90 192.10,331.00 196.90,344.40 204.60,339.60 209.40,332.30 213.70,333.50" fill="none" stroke="#111" stroke-width="1.0" stroke-linejoin="round"/>
<text x="46.00" y="291.00" font-size="8.3" text-anchor="end" fill="#000" stroke="#000" stroke-width="0.12">6·10<tspan font-size="4.81" dy="-3.74">-4</tspan></text>
<text x="46.00" y="315.00" font-size="8.3" text-anchor="end" fill="#000" stroke="#000" stroke-width="0.12">4·10<tspan font-size="4.81" dy="-3.74">-4</tspan></text>
<text x="46.00" y="338.90" font-size="8.3" text-anchor="end" fill="#000" stroke="#000" stroke-width="0.12">2·10<tspan font-size="4.81" dy="-3.74">-4</tspan></text>
<text x="44.00" y="364.40" font-size="8.3" text-anchor="end" font-weight="normal" fill="#000" stroke="#000" stroke-width="0.12">0</text>
<text x="16.80" y="320.60" font-size="8.3" text-anchor="middle" font-weight="normal" fill="#000" stroke="#000" stroke-width="0.12" transform="rotate(-90 16.80 320.60)">NSV</text>
<text x="57.30" y="353.70" font-size="8.07" text-anchor="start" font-weight="bold" fill="#3DB54A" stroke="#3DB54A" stroke-width="0.12">Mouse2026</text>
<line x1="47.50" y1="368.50" x2="47.50" y2="442.20" stroke="#555555" stroke-width="0.8"/>
<polygon points="52.20,430.40 59.70,429.80 64.40,429.20 68.20,433.00 72.30,427.90 75.70,434.50 80.40,434.50 84.50,425.10 91.70,430.80 102.00,426.00 107.70,429.80 113.30,423.60 117.40,432.60 122.10,429.20 125.50,436.40 125.50,439.80 113.30,437.30 102.00,440.20 91.70,439.80 80.40,438.30 68.20,438.30 52.20,435.80" fill="#CFCFCF"/>
<line x1="47.50" y1="442.20" x2="130.20" y2="442.20" stroke="#555555" stroke-width="0.8"/>
<line x1="88.50" y1="442.20" x2="88.50" y2="440.20" stroke="#555555" stroke-width="0.6"/>
<polygon points="139.10,438.20 147.20,430.40 156.00,436.40 163.50,427.40 170.10,428.50 175.70,434.90 183.20,427.90 190.00,434.50 201.10,433.60 212.90,430.70 212.90,436.40 201.10,437.90 183.20,439.20 163.50,440.10 147.20,439.80 139.10,440.10" fill="#CFCFCF"/>
<line x1="134.80" y1="442.20" x2="217.40" y2="442.20" stroke="#555555" stroke-width="0.8"/>
<line x1="176.10" y1="442.20" x2="176.10" y2="440.20" stroke="#555555" stroke-width="0.6"/>
<line x1="47.50" y1="435.20" x2="220.00" y2="435.20" stroke="#888888" stroke-width="0.8" stroke-dasharray="3,2.5"/>
<polyline points="52.20,434.00 59.70,433.20 64.40,435.80 68.20,435.80 72.30,434.50 75.70,437.00 80.40,437.00 84.50,432.30 87.90,435.10 91.70,434.50 102.00,434.50 107.70,433.60 113.30,429.20 117.40,435.80 122.10,434.10 125.50,438.60" fill="none" stroke="#111" stroke-width="1.0" stroke-linejoin="round"/>
<polyline points="139.10,439.80 142.30,436.90 147.20,435.80 151.30,435.80 156.00,436.00 159.80,435.60 163.50,434.50 170.10,434.90 175.70,435.80 180.40,434.10 183.20,433.60 188.00,435.80 195.50,436.90 201.10,436.00 207.70,435.10 211.80,434.50 212.90,435.40" fill="none" stroke="#111" stroke-width="1.0" stroke-linejoin="round"/>
<text x="46.00" y="372.70" font-size="8.3" text-anchor="end" fill="#000" stroke="#000" stroke-width="0.12">6·10<tspan font-size="4.81" dy="-3.74">-4</tspan></text>
<text x="46.00" y="397.00" font-size="8.3" text-anchor="end" fill="#000" stroke="#000" stroke-width="0.12">4·10<tspan font-size="4.81" dy="-3.74">-4</tspan></text>
<text x="46.00" y="421.10" font-size="8.3" text-anchor="end" fill="#000" stroke="#000" stroke-width="0.12">2·10<tspan font-size="4.81" dy="-3.74">-4</tspan></text>
<text x="43.20" y="446.30" font-size="8.3" text-anchor="end" font-weight="normal" fill="#000" stroke="#000" stroke-width="0.12">0</text>
<text x="16.90" y="403.80" font-size="8.3" text-anchor="middle" font-weight="normal" fill="#000" stroke="#000" stroke-width="0.12" transform="rotate(-90 16.90 403.80)">NSV</text>
<text x="56.80" y="382.80" font-size="8.07" text-anchor="start" font-weight="bold" fill="#1B1B8F" stroke="#1B1B8F" stroke-width="0.12">Mouse2021</text>
<text x="47.50" y="451.60" font-size="8.3" text-anchor="middle" font-weight="normal" fill="#000" stroke="#000" stroke-width="0.12">0</text>
<text x="88.50" y="451.60" font-size="8.3" text-anchor="middle" font-weight="normal" fill="#000" stroke="#000" stroke-width="0.12">60</text>
<text x="128.30" y="451.60" font-size="8.3" text-anchor="middle" font-weight="normal" fill="#000" stroke="#000" stroke-width="0.12">120</text>
<text x="176.10" y="451.60" font-size="8.3" text-anchor="middle" font-weight="normal" fill="#000" stroke="#000" stroke-width="0.12">60</text>
<text x="218.00" y="451.60" font-size="8.3" text-anchor="middle" font-weight="normal" fill="#000" stroke="#000" stroke-width="0.12">120</text>
<text x="89.80" y="466.00" font-size="8.3" text-anchor="middle" font-weight="normal" fill="#000" stroke="#000" stroke-width="0.12">rightward run posit. [cm]</text>
<text x="178.40" y="466.00" font-size="8.3" text-anchor="middle" font-weight="normal" fill="#000" stroke="#000" stroke-width="0.12">leftward run posit. [cm]</text>
<g transform="translate(50.8 400.6) scale(1 1)"><path d="M0,0.3 Q5,-0.1 8,0.5 Q10.5,1.1 12.5,1.4" stroke="#C4A494" stroke-width="0.8" fill="none"/><path d="M11.3,3.4 C11.6,0.5 13.5,-2.0 16,-2.4 L21,-2.3 C23,-2.0 24.5,-0.8 25.5,0.6 C26.5,1.3 27,2.0 27.2,2.6 C25,3.6 20,3.5 17,3.5 Z" fill="#524640"/><circle cx="24.3" cy="-1.0" r="0.9" fill="#9C7A6A"/><path d="M12,3.4 L11.6,4.1 M17.5,3.4 L17.8,4.1" stroke="#5A4A40" stroke-width="0.6"/></g>
<g transform="translate(213.8 400.6) scale(-1 1)"><path d="M0,0.3 Q5,-0.1 8,0.5 Q10.5,1.1 12.5,1.4" stroke="#C4A494" stroke-width="0.8" fill="none"/><path d="M11.3,3.4 C11.6,0.5 13.5,-2.0 16,-2.4 L21,-2.3 C23,-2.0 24.5,-0.8 25.5,0.6 C26.5,1.3 27,2.0 27.2,2.6 C25,3.6 20,3.5 17,3.5 Z" fill="#524640"/><circle cx="24.3" cy="-1.0" r="0.9" fill="#9C7A6A"/><path d="M12,3.4 L11.6,4.1 M17.5,3.4 L17.8,4.1" stroke="#5A4A40" stroke-width="0.6"/></g>
<rect x="58.1" y="406.0" width="21.5" height="3.3" fill="#111"/>
<polygon points="79.30,403.90 85.90,407.65 79.30,411.90" fill="#111"/>
<rect x="184.8" y="406.0" width="21" height="3.3" fill="#111"/>
<polygon points="185.00,403.90 178.40,407.65 185.00,411.90" fill="#111"/>
<rect x="258.00" y="356.30" width="4.30" height="4.70" fill="#B5E3B5" stroke="#555" stroke-width="0.5"/>
<rect x="262.30" y="333.90" width="4.30" height="27.10" fill="#B5E3B5" stroke="#555" stroke-width="0.5"/>
<rect x="266.60" y="330.00" width="4.30" height="31.00" fill="#B5E3B5" stroke="#555" stroke-width="0.5"/>
<rect x="270.90" y="334.30" width="4.30" height="26.70" fill="#B5E3B5" stroke="#555" stroke-width="0.5"/>
<rect x="275.20" y="343.30" width="4.30" height="17.70" fill="#B5E3B5" stroke="#555" stroke-width="0.5"/>
<rect x="279.50" y="346.80" width="4.30" height="14.20" fill="#B5E3B5" stroke="#555" stroke-width="0.5"/>
<rect x="283.80" y="353.70" width="4.30" height="7.30" fill="#B5E3B5" stroke="#555" stroke-width="0.5"/>
<rect x="288.10" y="356.30" width="4.30" height="4.70" fill="#B5E3B5" stroke="#555" stroke-width="0.5"/>
<rect x="292.40" y="359.30" width="4.30" height="1.70" fill="#B5E3B5" stroke="#555" stroke-width="0.5"/>
<rect x="296.70" y="358.60" width="4.30" height="2.40" fill="#B5E3B5" stroke="#555" stroke-width="0.5"/>
<rect x="301.00" y="358.40" width="4.30" height="2.60" fill="#B5E3B5" stroke="#555" stroke-width="0.5"/>
<rect x="305.30" y="359.10" width="4.30" height="1.90" fill="#B5E3B5" stroke="#555" stroke-width="0.5"/>
<rect x="309.60" y="357.70" width="4.30" height="3.30" fill="#B5E3B5" stroke="#555" stroke-width="0.5"/>
<rect x="313.90" y="359.50" width="4.30" height="1.50" fill="#B5E3B5" stroke="#555" stroke-width="0.5"/>
<rect x="318.20" y="360.20" width="4.30" height="0.80" fill="#B5E3B5" stroke="#555" stroke-width="0.5"/>
<rect x="322.50" y="360.20" width="4.30" height="0.80" fill="#B5E3B5" stroke="#555" stroke-width="0.5"/>
<rect x="326.80" y="360.20" width="4.30" height="0.80" fill="#B5E3B5" stroke="#555" stroke-width="0.5"/>
<rect x="331.10" y="360.60" width="4.30" height="0.40" fill="#B5E3B5" stroke="#555" stroke-width="0.5"/>
<rect x="335.40" y="360.20" width="4.30" height="0.80" fill="#B5E3B5" stroke="#555" stroke-width="0.5"/>
<line x1="253.00" y1="283.50" x2="253.00" y2="361.00" stroke="#555555" stroke-width="0.8"/>
<line x1="253.00" y1="361.00" x2="340.00" y2="361.00" stroke="#555555" stroke-width="0.8"/>
<line x1="253.00" y1="284.60" x2="255.30" y2="284.60" stroke="#555555" stroke-width="0.6"/>
<line x1="253.00" y1="322.80" x2="255.30" y2="322.80" stroke="#555555" stroke-width="0.6"/>
<text x="250.30" y="287.50" font-size="8.3" text-anchor="end" font-weight="normal" fill="#000" stroke="#000" stroke-width="0.12">0.5</text>
<text x="250.30" y="325.30" font-size="8.3" text-anchor="end" font-weight="normal" fill="#000" stroke="#000" stroke-width="0.12">0.25</text>
<text x="250.30" y="363.80" font-size="8.3" text-anchor="end" font-weight="normal" fill="#000" stroke="#000" stroke-width="0.12">0</text>
<text x="232.90" y="325.20" font-size="8.17" text-anchor="middle" font-weight="normal" fill="#000" stroke="#000" stroke-width="0.12" transform="rotate(-90 232.90 325.20)">probability density</text>
<text x="287.70" y="301.10" font-size="8.07" text-anchor="start" font-weight="bold" fill="#3DB54A" stroke="#3DB54A" stroke-width="0.12">Mouse2026</text>
<rect x="253.50" y="366.50" width="4.50" height="76.10" fill="#9C9CDA" stroke="#555" stroke-width="0.5"/>
<rect x="258.00" y="384.20" width="4.50" height="58.40" fill="#9C9CDA" stroke="#555" stroke-width="0.5"/>
<rect x="262.50" y="428.50" width="4.50" height="14.10" fill="#9C9CDA" stroke="#555" stroke-width="0.5"/>
<rect x="267.00" y="438.90" width="4.50" height="3.70" fill="#9C9CDA" stroke="#555" stroke-width="0.5"/>
<line x1="253.00" y1="366.00" x2="253.00" y2="442.60" stroke="#555555" stroke-width="0.8"/>
<line x1="253.00" y1="442.60" x2="339.50" y2="442.60" stroke="#555555" stroke-width="0.8"/>
<line x1="253.00" y1="366.90" x2="255.30" y2="366.90" stroke="#555555" stroke-width="0.6"/>
<line x1="253.00" y1="404.70" x2="255.30" y2="404.70" stroke="#555555" stroke-width="0.6"/>
<text x="250.30" y="369.80" font-size="8.3" text-anchor="end" font-weight="normal" fill="#000" stroke="#000" stroke-width="0.12">0.5</text>
<text x="250.30" y="406.70" font-size="8.3" text-anchor="end" font-weight="normal" fill="#000" stroke="#000" stroke-width="0.12">0.25</text>
<text x="250.30" y="445.50" font-size="8.3" text-anchor="end" font-weight="normal" fill="#000" stroke="#000" stroke-width="0.12">0</text>
<text x="254.70" y="452.30" font-size="8.3" text-anchor="middle" font-weight="normal" fill="#000" stroke="#000" stroke-width="0.12">0</text>
<text x="300.50" y="452.50" font-size="8.3" text-anchor="middle" fill="#000" stroke="#000" stroke-width="0.12">0.5·10<tspan font-size="4.81" dy="-3.74">-3</tspan></text>
<text x="341.50" y="452.50" font-size="8.3" text-anchor="middle" fill="#000" stroke="#000" stroke-width="0.12">1·10<tspan font-size="4.81" dy="-3.74">-3</tspan></text>
<text x="300.30" y="465.00" font-size="8.3" text-anchor="middle" font-weight="normal" fill="#000" stroke="#000" stroke-width="0.12">NSV</text>
<text x="231.70" y="409.60" font-size="8.17" text-anchor="middle" font-weight="normal" fill="#000" stroke="#000" stroke-width="0.12" transform="rotate(-90 231.70 409.60)">probability density</text>
<text x="288.80" y="384.90" font-size="8.07" text-anchor="start" font-weight="bold" fill="#1B1B8F" stroke="#1B1B8F" stroke-width="0.12">Mouse2021</text>
<text x="366.00" y="283.50" font-size="16.5" text-anchor="start" font-weight="bold" fill="#000" stroke="#000" stroke-width="0.12">h</text>
<line x1="393.30" y1="281.00" x2="393.30" y2="442.60" stroke="#999" stroke-width="1.0"/>
<line x1="393.30" y1="442.60" x2="479.00" y2="442.60" stroke="#999" stroke-width="1.0"/>
<line x1="393.30" y1="411.90" x2="395.60" y2="411.90" stroke="#999" stroke-width="0.6"/>
<line x1="393.30" y1="378.10" x2="395.60" y2="378.10" stroke="#999" stroke-width="0.6"/>
<line x1="393.30" y1="344.30" x2="395.60" y2="344.30" stroke="#999" stroke-width="0.6"/>
<line x1="393.30" y1="310.50" x2="395.60" y2="310.50" stroke="#999" stroke-width="0.6"/>
<line x1="414.80" y1="442.60" x2="414.80" y2="440.30" stroke="#999" stroke-width="0.6"/>
<line x1="457.30" y1="442.60" x2="457.30" y2="440.30" stroke="#999" stroke-width="0.6"/>
<text x="390.30" y="312.80" font-size="8.3" text-anchor="end" font-weight="normal" fill="#000" stroke="#000" stroke-width="0.12">1.5</text>
<text x="390.30" y="346.40" font-size="8.3" text-anchor="end" font-weight="normal" fill="#000" stroke="#000" stroke-width="0.12">1</text>
<text x="390.30" y="380.20" font-size="8.3" text-anchor="end" font-weight="normal" fill="#000" stroke="#000" stroke-width="0.12">0.5</text>
<text x="390.30" y="414.80" font-size="8.3" text-anchor="end" font-weight="normal" fill="#000" stroke="#000" stroke-width="0.12">0</text>
<text transform="translate(376 356.2) rotate(-90)" font-size="8.3" text-anchor="middle" stroke="#000" stroke-width="0.22">log<tspan font-size="5.5" dy="2">10</tspan><tspan dy="-2"> (asymptotic SNR)</tspan></text>
<line x1="414.50" y1="284.30" x2="414.50" y2="297.10" stroke="#FF2A2A" stroke-width="0.7"/>
<line x1="414.50" y1="323.40" x2="414.50" y2="335.60" stroke="#FF2A2A" stroke-width="0.7"/>
<line x1="411.30" y1="284.30" x2="417.70" y2="284.30" stroke="#FF2A2A" stroke-width="0.7"/>
<line x1="411.30" y1="335.60" x2="417.70" y2="335.60" stroke="#FF2A2A" stroke-width="0.7"/>
<rect x="408.00" y="297.10" width="13.00" height="26.30" fill="none" stroke="#FF2A2A" stroke-width="0.7"/>
<line x1="408.00" y1="310.60" x2="421.00" y2="310.60" stroke="#FF2A2A" stroke-width="1.9"/>
<line x1="414.60" y1="399.30" x2="414.60" y2="402.00" stroke="#2A2AFF" stroke-width="0.7"/>
<line x1="414.60" y1="432.40" x2="414.60" y2="436.60" stroke="#2A2AFF" stroke-width="0.7"/>
<line x1="411.40" y1="399.30" x2="417.80" y2="399.30" stroke="#2A2AFF" stroke-width="0.7"/>
<line x1="411.40" y1="436.60" x2="417.80" y2="436.60" stroke="#2A2AFF" stroke-width="0.7"/>
<rect x="408.10" y="402.00" width="13.00" height="30.40" fill="none" stroke="#2A2AFF" stroke-width="0.7"/>
<line x1="408.10" y1="416.10" x2="421.10" y2="416.10" stroke="#2A2AFF" stroke-width="1.9"/>
<line x1="457.40" y1="319.90" x2="457.40" y2="322.80" stroke="#FF2A2A" stroke-width="0.7"/>
<line x1="457.40" y1="339.70" x2="457.40" y2="360.80" stroke="#FF2A2A" stroke-width="0.7"/>
<line x1="454.20" y1="319.90" x2="460.60" y2="319.90" stroke="#FF2A2A" stroke-width="0.7"/>
<line x1="454.20" y1="360.80" x2="460.60" y2="360.80" stroke="#FF2A2A" stroke-width="0.7"/>
<rect x="450.80" y="322.80" width="13.20" height="16.90" fill="none" stroke="#FF2A2A" stroke-width="0.7"/>
<line x1="450.80" y1="330.40" x2="464.00" y2="330.40" stroke="#FF2A2A" stroke-width="1.9"/>
<line x1="457.55" y1="380.90" x2="457.55" y2="385.10" stroke="#2A2AFF" stroke-width="0.7"/>
<line x1="457.55" y1="393.00" x2="457.55" y2="400.40" stroke="#2A2AFF" stroke-width="0.7"/>
<line x1="454.35" y1="380.90" x2="460.75" y2="380.90" stroke="#2A2AFF" stroke-width="0.7"/>
<line x1="454.35" y1="400.40" x2="460.75" y2="400.40" stroke="#2A2AFF" stroke-width="0.7"/>
<rect x="451.10" y="385.10" width="12.90" height="7.90" fill="none" stroke="#2A2AFF" stroke-width="0.7"/>
<line x1="451.10" y1="388.80" x2="464.00" y2="388.80" stroke="#2A2AFF" stroke-width="1.9"/>
<line x1="424.50" y1="314.00" x2="424.50" y2="413.50" stroke="#1B1B8F" stroke-width="0.9"/>
<polygon points="422.60,315.50 424.50,311.50 426.40,315.50" fill="#1B1B8F"/>
<polygon points="422.60,412.00 424.50,416.00 426.40,412.00" fill="#1B1B8F"/>
<line x1="449.00" y1="333.00" x2="449.00" y2="386.00" stroke="#6CC478" stroke-width="0.9"/>
<polygon points="447.10,334.50 449.00,330.50 450.90,334.50" fill="#6CC478"/>
<polygon points="447.10,385.00 449.00,389.00 450.90,385.00" fill="#6CC478"/>
<text x="409.50" y="363.40" font-size="8.3" text-anchor="start" font-weight="normal" fill="#1B1B8F" stroke="#1B1B8F" stroke-width="0.12">x36</text>
<text x="437.90" y="360.80" font-size="8.3" text-anchor="start" font-weight="normal" fill="#6CC478" stroke="#6CC478" stroke-width="0.12">x7</text>
<text x="429.50" y="303.20" font-size="8.2" text-anchor="start" font-weight="normal" fill="#FF2A2A" stroke="#FF2A2A" stroke-width="0.12">ensemble</text>
<text x="429.80" y="312.60" font-size="8.2" text-anchor="start" font-weight="normal" fill="#FF2A2A" stroke="#FF2A2A" stroke-width="0.12">(shuffled)</text>
<text x="432.20" y="413.50" font-size="7.9" text-anchor="start" font-weight="normal" fill="#2A2AFF" stroke="#2A2AFF" stroke-width="0.12">ensemble</text>
<text x="397.70" y="451.60" font-size="6.3" text-anchor="start" font-weight="bold" fill="#1B1B8F" stroke="#1B1B8F" stroke-width="0.12">Mouse2021</text>
<text x="441.60" y="451.60" font-size="6.3" text-anchor="start" font-weight="bold" fill="#3DB54A" stroke="#3DB54A" stroke-width="0.12">Mouse2026</text>
<text x="493.20" y="286.00" font-size="16.5" text-anchor="start" font-weight="bold" fill="#000" stroke="#000" stroke-width="0.12">i</text>
<rect x="533.60" y="290.00" width="150.70" height="150.80" fill="none" stroke="#555555" stroke-width="0.8"/>
<line x1="533.60" y1="435.80" x2="535.90" y2="435.80" stroke="#555555" stroke-width="0.6"/>
<line x1="684.30" y1="435.80" x2="682.00" y2="435.80" stroke="#555555" stroke-width="0.6"/>
<text x="530.20" y="438.70" font-size="8.3" text-anchor="end" font-weight="normal" fill="#000" stroke="#000" stroke-width="0.12">0.02</text>
<line x1="533.60" y1="405.15" x2="535.90" y2="405.15" stroke="#555555" stroke-width="0.6"/>
<line x1="684.30" y1="405.15" x2="682.00" y2="405.15" stroke="#555555" stroke-width="0.6"/>
<text x="530.20" y="408.05" font-size="8.3" text-anchor="end" font-weight="normal" fill="#000" stroke="#000" stroke-width="0.12">0.06</text>
<line x1="533.60" y1="374.50" x2="535.90" y2="374.50" stroke="#555555" stroke-width="0.6"/>
<line x1="684.30" y1="374.50" x2="682.00" y2="374.50" stroke="#555555" stroke-width="0.6"/>
<text x="530.20" y="377.40" font-size="8.3" text-anchor="end" font-weight="normal" fill="#000" stroke="#000" stroke-width="0.12">0.1</text>
<line x1="533.60" y1="343.85" x2="535.90" y2="343.85" stroke="#555555" stroke-width="0.6"/>
<line x1="684.30" y1="343.85" x2="682.00" y2="343.85" stroke="#555555" stroke-width="0.6"/>
<text x="530.20" y="346.75" font-size="8.3" text-anchor="end" font-weight="normal" fill="#000" stroke="#000" stroke-width="0.12">0.14</text>
<line x1="533.60" y1="313.20" x2="535.90" y2="313.20" stroke="#555555" stroke-width="0.6"/>
<line x1="684.30" y1="313.20" x2="682.00" y2="313.20" stroke="#555555" stroke-width="0.6"/>
<text x="530.20" y="316.10" font-size="8.3" text-anchor="end" font-weight="normal" fill="#000" stroke="#000" stroke-width="0.12">0.18</text>
<line x1="533.60" y1="420.48" x2="535.20" y2="420.48" stroke="#555555" stroke-width="0.5"/>
<line x1="684.30" y1="420.48" x2="682.70" y2="420.48" stroke="#555555" stroke-width="0.5"/>
<line x1="533.60" y1="389.83" x2="535.20" y2="389.83" stroke="#555555" stroke-width="0.5"/>
<line x1="684.30" y1="389.83" x2="682.70" y2="389.83" stroke="#555555" stroke-width="0.5"/>
<line x1="533.60" y1="359.18" x2="535.20" y2="359.18" stroke="#555555" stroke-width="0.5"/>
<line x1="684.30" y1="359.18" x2="682.70" y2="359.18" stroke="#555555" stroke-width="0.5"/>
<line x1="533.60" y1="328.52" x2="535.20" y2="328.52" stroke="#555555" stroke-width="0.5"/>
<line x1="684.30" y1="328.52" x2="682.70" y2="328.52" stroke="#555555" stroke-width="0.5"/>
<line x1="563.50" y1="440.80" x2="563.50" y2="438.50" stroke="#555555" stroke-width="0.6"/>
<line x1="563.50" y1="290.00" x2="563.50" y2="292.30" stroke="#555555" stroke-width="0.6"/>
<text x="565.00" y="452.10" font-size="8.3" text-anchor="middle" fill="#000" stroke="#000" stroke-width="0.12">1·10<tspan font-size="4.81" dy="-3.74">-4</tspan></text>
<line x1="613.90" y1="440.80" x2="613.90" y2="438.50" stroke="#555555" stroke-width="0.6"/>
<line x1="613.90" y1="290.00" x2="613.90" y2="292.30" stroke="#555555" stroke-width="0.6"/>
<text x="615.40" y="452.10" font-size="8.3" text-anchor="middle" fill="#000" stroke="#000" stroke-width="0.12">2·10<tspan font-size="4.81" dy="-3.74">-4</tspan></text>
<line x1="662.00" y1="440.80" x2="662.00" y2="438.50" stroke="#555555" stroke-width="0.6"/>
<line x1="662.00" y1="290.00" x2="662.00" y2="292.30" stroke="#555555" stroke-width="0.6"/>
<text x="663.50" y="452.10" font-size="8.3" text-anchor="middle" fill="#000" stroke="#000" stroke-width="0.12">3·10<tspan font-size="4.81" dy="-3.74">-4</tspan></text>
<text x="606.4" y="465.8" font-size="8.4" text-anchor="middle" stroke="#000" stroke-width="0.12">NSV (<tspan font-size="11.5" font-weight="bold">σ</tspan><tspan font-size="5" dy="-4.2">2</tspan><tspan dy="4.2">[(</tspan><tspan font-size="6.8">Δμ</tspan>)<tspan font-size="4.8" dy="-3">2</tspan><tspan dy="3">])</tspan></text>
<text x="530.20" y="277.50" font-size="6.38" text-anchor="start" font-weight="normal" fill="#1B1B8F" stroke="#1B1B8F" stroke-width="0.12">broad dist.</text>
<text x="530.20" y="285.40" font-size="6.38" text-anchor="start" font-weight="normal" fill="#1B1B8F" stroke="#1B1B8F" stroke-width="0.12">PF widths</text>
<text x="649.50" y="276.80" font-size="6.33" text-anchor="start" font-weight="normal" fill="#3DB54A" stroke="#3DB54A" stroke-width="0.12">narrow dist.</text>
<text x="649.50" y="285.00" font-size="6.33" text-anchor="start" font-weight="normal" fill="#3DB54A" stroke="#3DB54A" stroke-width="0.12">PF widths</text>
<line x1="503.40" y1="294.60" x2="503.40" y2="432.70" stroke="#AAAAAA" stroke-width="1.2"/>
<text x="500.80" y="411.20" font-size="8.25" text-anchor="start" font-weight="normal" fill="#2A2AFF" stroke="#2A2AFF" stroke-width="0.12" transform="rotate(-90 500.80 411.20)">ensemble asymptotic SNR</text>
<text x="511.40" y="425.50" font-size="8.4" text-anchor="start" font-weight="normal" fill="#FF2A2A" stroke="#FF2A2A" stroke-width="0.12" transform="rotate(-90 511.40 425.50)">ensemble (shuff.) asymptotic SNR</text>
<svg x="533.6" y="290" width="150.7" height="150.8" overflow="hidden">
<line x1="0" y1="145.5" x2="150.7" y2="35" stroke="#555" stroke-width="1.1" stroke-dasharray="3.5,2.5"/>
</svg>
<text x="577.5" y="337.3" font-size="9" font-weight="bold" stroke="#000" stroke-width="0.15"><tspan font-style="italic" font-weight="normal">r</tspan><tspan font-size="6" dy="-3.5" font-weight="normal"> 2</tspan><tspan dy="3.5"> = 0.65</tspan></text>
<line x1="539.70" y1="428.60" x2="550.50" y2="428.60" stroke="#2A2A2A" stroke-width="0.85"/>
<line x1="545.40" y1="424.70" x2="545.40" y2="433.40" stroke="#2A2A2A" stroke-width="0.85"/>
<line x1="553.50" y1="423.50" x2="569.70" y2="423.50" stroke="#2A2A2A" stroke-width="0.85"/>
<line x1="561.60" y1="419.60" x2="561.60" y2="429.30" stroke="#2A2A2A" stroke-width="0.85"/>
<line x1="572.30" y1="381.20" x2="587.30" y2="381.20" stroke="#2A2A2A" stroke-width="0.85"/>
<line x1="579.40" y1="365.80" x2="579.40" y2="396.50" stroke="#2A2A2A" stroke-width="0.85"/>
<line x1="579.00" y1="381.20" x2="601.90" y2="381.20" stroke="#2A2A2A" stroke-width="0.85"/>
<line x1="587.10" y1="356.00" x2="587.10" y2="406.20" stroke="#2A2A2A" stroke-width="0.85"/>
<line x1="578.10" y1="391.20" x2="600.00" y2="391.20" stroke="#2A2A2A" stroke-width="0.85"/>
<line x1="588.50" y1="377.30" x2="588.50" y2="402.70" stroke="#2A2A2A" stroke-width="0.85"/>
<line x1="601.20" y1="385.90" x2="626.60" y2="385.90" stroke="#B5B5B5" stroke-width="0.85"/>
<line x1="614.30" y1="366.50" x2="614.30" y2="405.70" stroke="#2A2A2A" stroke-width="0.85"/>
<line x1="608.10" y1="384.90" x2="645.10" y2="384.90" stroke="#2A2A2A" stroke-width="0.85"/>
<line x1="626.60" y1="366.90" x2="626.60" y2="402.70" stroke="#B5B5B5" stroke-width="0.85"/>
<line x1="620.30" y1="397.40" x2="658.90" y2="397.40" stroke="#2A2A2A" stroke-width="0.85"/>
<line x1="639.30" y1="376.60" x2="639.30" y2="417.70" stroke="#2A2A2A" stroke-width="0.85"/>
<line x1="626.00" y1="343.30" x2="678.60" y2="343.30" stroke="#2A2A2A" stroke-width="0.85"/>
<line x1="652.30" y1="316.00" x2="652.30" y2="370.40" stroke="#B5B5B5" stroke-width="0.85"/>
<line x1="650.20" y1="302.50" x2="685.00" y2="302.50" stroke="#2A2A2A" stroke-width="0.85"/>
<line x1="672.20" y1="290.00" x2="672.20" y2="339.50" stroke="#B5B5B5" stroke-width="0.85"/>
<circle cx="545.40" cy="428.60" r="2.0" fill="#000080"/>
<circle cx="561.60" cy="423.50" r="2.0" fill="#DC1450"/>
<circle cx="579.40" cy="381.20" r="2.0" fill="#008080"/>
<circle cx="587.10" cy="381.20" r="2.0" fill="#FF20FF"/>
<circle cx="588.50" cy="391.20" r="2.0" fill="#F0D000"/>
<circle cx="614.30" cy="385.90" r="2.0" fill="#40E0F0"/>
<circle cx="626.60" cy="384.90" r="2.0" fill="#7F7F00"/>
<circle cx="639.30" cy="397.40" r="2.0" fill="#C8E650"/>
<circle cx="652.30" cy="343.30" r="2.0" fill="#3CB043"/>
<circle cx="672.20" cy="302.50" r="2.0" fill="#F08030"/>
</g>
</svg></body></html>
